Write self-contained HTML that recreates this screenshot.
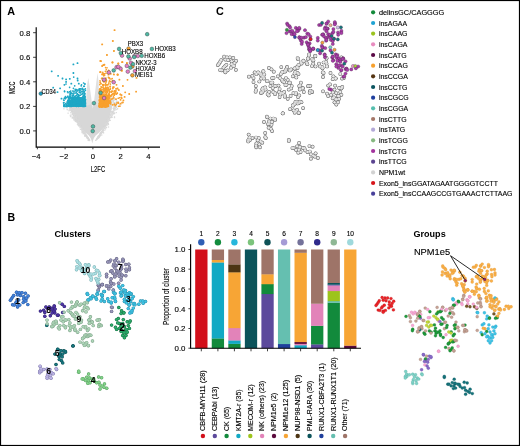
<!DOCTYPE html><html><head><meta charset="utf-8"><title>Figure</title><style>html,body{margin:0;padding:0;background:#fff}svg{display:block;will-change:transform}text{font-family:"Liberation Sans",sans-serif;fill:#000;stroke:#000;stroke-width:0.12px}text[font-weight=bold]{stroke-width:0}</style></head><body>
<svg width="520" height="446" viewBox="0 0 520 446">
<rect x="0" y="0" width="520" height="446" fill="#fff"/>
<g id="A">
<path d="M86,106 L86.3,96 L87.2,84 L88.3,78 L89.6,86 L91,96 L92,104 L92.8,108.5 L93.7,104 L94.8,95 L96.3,82 L97.6,73 L98.6,82 L99,95 L99.3,106 Z" fill="#e0e0e0"/>
<path d="M68.6,104 L70.5,110 L72.8,115.2 L76.2,121.9 L81.5,128.6 L85.6,132.7 L88.9,135.4 L90.6,138 L91.6,140.5 L92.3,143.6 L93,140.5 L93.9,138 L95.7,135.4 L99,132.7 L103.1,128.6 L107.1,121.9 L109.8,115.2 L111.6,110 L112.6,104 L112,100 L99.3,100 L99.2,106 L93.7,104 L92.8,108.5 L91.9,104 L86,106 L86,100 L72,100 Z" fill="#d7d7d7"/>
<g fill="#d9d9d9"><rect x="72.6" y="110.9" width="1.2" height="1.2" opacity="0.95"/><rect x="84.2" y="132.3" width="1.2" height="1.2" opacity="0.95"/><rect x="72.6" y="112.7" width="1.2" height="1.2" opacity="0.95"/><rect x="112.9" y="100.7" width="1.2" height="1.2" opacity="0.95"/><rect x="71.7" y="100.0" width="1.2" height="1.2" opacity="0.95"/><rect x="78.2" y="121.3" width="1.2" height="1.2" opacity="0.95"/><rect x="78.2" y="124.1" width="1.2" height="1.2" opacity="0.95"/><rect x="88.4" y="139.0" width="1.2" height="1.2" opacity="0.95"/><rect x="77.9" y="120.9" width="1.2" height="1.2" opacity="0.95"/><rect x="114.0" y="102.1" width="1.2" height="1.2" opacity="0.95"/><rect x="76.2" y="121.1" width="1.2" height="1.2" opacity="0.95"/><rect x="68.1" y="105.1" width="1.2" height="1.2" opacity="0.95"/><rect x="75.4" y="120.6" width="1.2" height="1.2" opacity="0.95"/><rect x="108.5" y="118.3" width="1.2" height="1.2" opacity="0.95"/><rect x="102.2" y="130.4" width="1.2" height="1.2" opacity="0.95"/><rect x="71.2" y="109.9" width="1.2" height="1.2" opacity="0.95"/><rect x="80.2" y="127.1" width="1.2" height="1.2" opacity="0.95"/><rect x="108.3" y="118.3" width="1.2" height="1.2" opacity="0.95"/><rect x="102.5" y="128.4" width="1.2" height="1.2" opacity="0.95"/><rect x="76.7" y="119.0" width="1.2" height="1.2" opacity="0.95"/><rect x="81.4" y="129.6" width="1.2" height="1.2" opacity="0.95"/><rect x="88.0" y="138.4" width="1.2" height="1.2" opacity="0.95"/><rect x="101.9" y="129.9" width="1.2" height="1.2" opacity="0.95"/><rect x="109.0" y="118.4" width="1.2" height="1.2" opacity="0.95"/><rect x="69.9" y="100.0" width="1.2" height="1.2" opacity="0.60"/><rect x="79.9" y="125.6" width="1.2" height="1.2" opacity="0.95"/><rect x="104.9" y="128.4" width="1.2" height="1.2" opacity="0.95"/><rect x="103.0" y="132.3" width="1.2" height="1.2" opacity="0.95"/><rect x="104.1" y="127.8" width="1.2" height="1.2" opacity="0.95"/><rect x="69.7" y="104.2" width="1.2" height="1.2" opacity="0.95"/><rect x="76.7" y="118.2" width="1.2" height="1.2" opacity="0.95"/><rect x="114.0" y="107.6" width="1.2" height="1.2" opacity="0.95"/><rect x="98.2" y="136.4" width="1.2" height="1.2" opacity="0.95"/><rect x="76.9" y="120.6" width="1.2" height="1.2" opacity="0.95"/><rect x="100.9" y="132.2" width="1.2" height="1.2" opacity="0.95"/><rect x="107.9" y="126.4" width="1.2" height="1.2" opacity="0.95"/><rect x="87.8" y="138.2" width="1.2" height="1.2" opacity="0.95"/><rect x="80.0" y="125.3" width="1.2" height="1.2" opacity="0.95"/><rect x="76.6" y="117.9" width="1.2" height="1.2" opacity="0.95"/><rect x="109.2" y="115.0" width="1.2" height="1.2" opacity="0.95"/><rect x="107.6" y="123.2" width="1.2" height="1.2" opacity="0.95"/><rect x="76.3" y="119.2" width="1.2" height="1.2" opacity="0.95"/><rect x="110.0" y="116.6" width="1.2" height="1.2" opacity="0.95"/><rect x="109.0" y="117.7" width="1.2" height="1.2" opacity="0.95"/><rect x="70.0" y="99.7" width="1.2" height="1.2" opacity="0.60"/><rect x="71.5" y="101.7" width="1.2" height="1.2" opacity="0.95"/><rect x="65.7" y="101.4" width="1.2" height="1.2" opacity="0.95"/><rect x="78.4" y="123.4" width="1.2" height="1.2" opacity="0.95"/><rect x="98.9" y="134.6" width="1.2" height="1.2" opacity="0.95"/><rect x="112.1" y="111.9" width="1.2" height="1.2" opacity="0.95"/><rect x="72.2" y="117.4" width="1.2" height="1.2" opacity="0.95"/><rect x="113.9" y="117.0" width="1.2" height="1.2" opacity="0.95"/><rect x="71.0" y="110.4" width="1.2" height="1.2" opacity="0.95"/><rect x="70.5" y="108.4" width="1.2" height="1.2" opacity="0.95"/><rect x="74.8" y="119.2" width="1.2" height="1.2" opacity="0.95"/><rect x="70.0" y="103.3" width="1.2" height="1.2" opacity="0.95"/><rect x="104.2" y="129.6" width="1.2" height="1.2" opacity="0.95"/><rect x="103.3" y="126.9" width="1.2" height="1.2" opacity="0.95"/><rect x="76.4" y="119.3" width="1.2" height="1.2" opacity="0.95"/><rect x="107.5" y="120.3" width="1.2" height="1.2" opacity="0.95"/><rect x="78.8" y="124.4" width="1.2" height="1.2" opacity="0.95"/><rect x="79.8" y="128.8" width="1.2" height="1.2" opacity="0.95"/><rect x="113.8" y="105.6" width="1.2" height="1.2" opacity="0.95"/><rect x="111.2" y="98.2" width="1.2" height="1.2" opacity="0.60"/><rect x="74.3" y="117.3" width="1.2" height="1.2" opacity="0.95"/><rect x="113.9" y="116.2" width="1.2" height="1.2" opacity="0.95"/><rect x="96.5" y="138.1" width="1.2" height="1.2" opacity="0.95"/><rect x="108.4" y="117.2" width="1.2" height="1.2" opacity="0.95"/><rect x="66.5" y="105.8" width="1.2" height="1.2" opacity="0.95"/><rect x="83.6" y="131.4" width="1.2" height="1.2" opacity="0.95"/><rect x="82.9" y="132.9" width="1.2" height="1.2" opacity="0.95"/><rect x="103.0" y="129.3" width="1.2" height="1.2" opacity="0.95"/><rect x="98.2" y="135.2" width="1.2" height="1.2" opacity="0.95"/><rect x="101.5" y="131.4" width="1.2" height="1.2" opacity="0.95"/><rect x="76.0" y="116.9" width="1.2" height="1.2" opacity="0.95"/><rect x="69.8" y="102.5" width="1.2" height="1.2" opacity="0.95"/><rect x="105.6" y="122.4" width="1.2" height="1.2" opacity="0.95"/><rect x="100.3" y="132.5" width="1.2" height="1.2" opacity="0.95"/><rect x="105.0" y="125.3" width="1.2" height="1.2" opacity="0.95"/><rect x="70.9" y="97.9" width="1.2" height="1.2" opacity="0.60"/><rect x="73.6" y="119.6" width="1.2" height="1.2" opacity="0.95"/><rect x="83.5" y="132.5" width="1.2" height="1.2" opacity="0.95"/><rect x="73.0" y="98.2" width="1.2" height="1.2" opacity="0.60"/><rect x="106.8" y="122.2" width="1.2" height="1.2" opacity="0.95"/><rect x="74.8" y="120.4" width="1.2" height="1.2" opacity="0.95"/><rect x="98.4" y="135.6" width="1.2" height="1.2" opacity="0.95"/><rect x="83.1" y="132.6" width="1.2" height="1.2" opacity="0.95"/><rect x="111.1" y="97.8" width="1.2" height="1.2" opacity="0.60"/><rect x="83.1" y="130.4" width="1.2" height="1.2" opacity="0.95"/><rect x="69.6" y="103.1" width="1.2" height="1.2" opacity="0.95"/><rect x="107.1" y="120.9" width="1.2" height="1.2" opacity="0.95"/><rect x="74.1" y="117.7" width="1.2" height="1.2" opacity="0.95"/><rect x="86.0" y="135.0" width="1.2" height="1.2" opacity="0.95"/><rect x="102.2" y="130.2" width="1.2" height="1.2" opacity="0.95"/><rect x="75.7" y="121.2" width="1.2" height="1.2" opacity="0.95"/><rect x="76.0" y="118.7" width="1.2" height="1.2" opacity="0.95"/><rect x="105.9" y="126.8" width="1.2" height="1.2" opacity="0.95"/><rect x="76.9" y="118.8" width="1.2" height="1.2" opacity="0.95"/><rect x="105.8" y="127.1" width="1.2" height="1.2" opacity="0.95"/><rect x="116.4" y="105.7" width="1.2" height="1.2" opacity="0.95"/><rect x="69.4" y="102.9" width="1.2" height="1.2" opacity="0.95"/><rect x="104.4" y="125.9" width="1.2" height="1.2" opacity="0.95"/><rect x="112.8" y="100.1" width="1.2" height="1.2" opacity="0.95"/><rect x="118.8" y="103.6" width="1.2" height="1.2" opacity="0.95"/><rect x="69.2" y="103.1" width="1.2" height="1.2" opacity="0.95"/><rect x="96.3" y="138.0" width="1.2" height="1.2" opacity="0.95"/><rect x="84.0" y="135.1" width="1.2" height="1.2" opacity="0.95"/><rect x="113.9" y="103.9" width="1.2" height="1.2" opacity="0.95"/><rect x="95.1" y="139.7" width="1.2" height="1.2" opacity="0.95"/><rect x="112.5" y="110.7" width="1.2" height="1.2" opacity="0.95"/><rect x="111.0" y="97.8" width="1.2" height="1.2" opacity="0.60"/><rect x="110.9" y="111.3" width="1.2" height="1.2" opacity="0.95"/><rect x="73.5" y="119.0" width="1.2" height="1.2" opacity="0.95"/><rect x="67.0" y="106.8" width="1.2" height="1.2" opacity="0.95"/><rect x="116.3" y="100.6" width="1.2" height="1.2" opacity="0.95"/><rect x="71.0" y="108.6" width="1.2" height="1.2" opacity="0.95"/><rect x="101.1" y="132.3" width="1.2" height="1.2" opacity="0.95"/><rect x="108.4" y="119.1" width="1.2" height="1.2" opacity="0.95"/><rect x="80.9" y="127.1" width="1.2" height="1.2" opacity="0.95"/><rect x="65.0" y="104.9" width="1.2" height="1.2" opacity="0.95"/><rect x="68.7" y="108.6" width="1.2" height="1.2" opacity="0.95"/><rect x="68.8" y="100.6" width="1.2" height="1.2" opacity="0.95"/><rect x="70.4" y="99.9" width="1.2" height="1.2" opacity="0.60"/><rect x="106.6" y="120.8" width="1.2" height="1.2" opacity="0.95"/><rect x="78.3" y="123.7" width="1.2" height="1.2" opacity="0.95"/><rect x="71.4" y="101.7" width="1.2" height="1.2" opacity="0.95"/><rect x="71.3" y="108.3" width="1.2" height="1.2" opacity="0.95"/><rect x="70.6" y="110.1" width="1.2" height="1.2" opacity="0.95"/><rect x="72.0" y="109.5" width="1.2" height="1.2" opacity="0.95"/><rect x="88.0" y="139.8" width="1.2" height="1.2" opacity="0.95"/><rect x="71.8" y="97.7" width="1.2" height="1.2" opacity="0.60"/><rect x="108.5" y="116.2" width="1.2" height="1.2" opacity="0.95"/><rect x="105.2" y="125.2" width="1.2" height="1.2" opacity="0.95"/><rect x="70.6" y="106.3" width="1.2" height="1.2" opacity="0.95"/><rect x="71.6" y="111.7" width="1.2" height="1.2" opacity="0.95"/><rect x="71.6" y="99.3" width="1.2" height="1.2" opacity="0.60"/><rect x="111.2" y="97.6" width="1.2" height="1.2" opacity="0.60"/><rect x="103.8" y="125.6" width="1.2" height="1.2" opacity="0.95"/><rect x="99.9" y="134.4" width="1.2" height="1.2" opacity="0.95"/><rect x="70.8" y="98.9" width="1.2" height="1.2" opacity="0.60"/><rect x="116.0" y="103.8" width="1.2" height="1.2" opacity="0.95"/><rect x="110.9" y="111.1" width="1.2" height="1.2" opacity="0.95"/><rect x="112.9" y="107.5" width="1.2" height="1.2" opacity="0.95"/><rect x="71.9" y="111.4" width="1.2" height="1.2" opacity="0.95"/><rect x="76.4" y="117.4" width="1.2" height="1.2" opacity="0.95"/><rect x="67.6" y="100.9" width="1.2" height="1.2" opacity="0.95"/><rect x="69.3" y="103.2" width="1.2" height="1.2" opacity="0.95"/><rect x="78.9" y="124.1" width="1.2" height="1.2" opacity="0.95"/><rect x="77.1" y="122.2" width="1.2" height="1.2" opacity="0.95"/><rect x="99.7" y="134.8" width="1.2" height="1.2" opacity="0.95"/><rect x="102.6" y="129.9" width="1.2" height="1.2" opacity="0.95"/><rect x="77.8" y="124.7" width="1.2" height="1.2" opacity="0.95"/><rect x="99.9" y="132.5" width="1.2" height="1.2" opacity="0.95"/><rect x="66.4" y="103.0" width="1.2" height="1.2" opacity="0.95"/><rect x="84.2" y="132.5" width="1.2" height="1.2" opacity="0.95"/><rect x="79.7" y="124.4" width="1.2" height="1.2" opacity="0.95"/><rect x="113.2" y="113.2" width="1.2" height="1.2" opacity="0.95"/><rect x="78.8" y="123.9" width="1.2" height="1.2" opacity="0.95"/><rect x="75.9" y="118.0" width="1.2" height="1.2" opacity="0.95"/><rect x="87.3" y="137.1" width="1.2" height="1.2" opacity="0.95"/><rect x="80.4" y="125.3" width="1.2" height="1.2" opacity="0.95"/><rect x="101.6" y="131.8" width="1.2" height="1.2" opacity="0.95"/><rect x="71.0" y="107.1" width="1.2" height="1.2" opacity="0.95"/><rect x="111.4" y="116.8" width="1.2" height="1.2" opacity="0.95"/><rect x="112.1" y="100.3" width="1.2" height="1.2" opacity="0.95"/><rect x="77.6" y="124.6" width="1.2" height="1.2" opacity="0.95"/><rect x="105.1" y="122.8" width="1.2" height="1.2" opacity="0.95"/><rect x="68.3" y="110.1" width="1.2" height="1.2" opacity="0.95"/><rect x="66.9" y="97.5" width="1.2" height="1.2" opacity="0.60"/><rect x="71.3" y="101.3" width="1.2" height="1.2" opacity="0.95"/><rect x="103.7" y="126.1" width="1.2" height="1.2" opacity="0.95"/><rect x="74.4" y="117.0" width="1.2" height="1.2" opacity="0.95"/><rect x="89.2" y="139.7" width="1.2" height="1.2" opacity="0.95"/><rect x="108.7" y="117.3" width="1.2" height="1.2" opacity="0.95"/><rect x="110.4" y="116.7" width="1.2" height="1.2" opacity="0.95"/><rect x="86.9" y="136.4" width="1.2" height="1.2" opacity="0.95"/><rect x="70.5" y="100.2" width="1.2" height="1.2" opacity="0.95"/><rect x="87.2" y="138.0" width="1.2" height="1.2" opacity="0.95"/><rect x="107.2" y="122.9" width="1.2" height="1.2" opacity="0.95"/><rect x="115.8" y="106.9" width="1.2" height="1.2" opacity="0.95"/><rect x="71.8" y="113.9" width="1.2" height="1.2" opacity="0.95"/><rect x="108.3" y="116.4" width="1.2" height="1.2" opacity="0.95"/><rect x="102.9" y="128.3" width="1.2" height="1.2" opacity="0.95"/><rect x="84.0" y="133.1" width="1.2" height="1.2" opacity="0.95"/><rect x="111.6" y="111.0" width="1.2" height="1.2" opacity="0.95"/><rect x="86.8" y="136.8" width="1.2" height="1.2" opacity="0.95"/><rect x="97.7" y="135.8" width="1.2" height="1.2" opacity="0.95"/><rect x="73.7" y="113.8" width="1.2" height="1.2" opacity="0.95"/><rect x="110.3" y="112.5" width="1.2" height="1.2" opacity="0.95"/><rect x="66.8" y="109.1" width="1.2" height="1.2" opacity="0.95"/><rect x="99.9" y="132.9" width="1.2" height="1.2" opacity="0.95"/><rect x="96.0" y="138.8" width="1.2" height="1.2" opacity="0.95"/><rect x="76.6" y="119.0" width="1.2" height="1.2" opacity="0.95"/><rect x="71.2" y="115.4" width="1.2" height="1.2" opacity="0.95"/><rect x="102.7" y="131.9" width="1.2" height="1.2" opacity="0.95"/><rect x="75.5" y="120.6" width="1.2" height="1.2" opacity="0.95"/><rect x="115.3" y="99.1" width="1.2" height="1.2" opacity="0.60"/><rect x="105.0" y="124.7" width="1.2" height="1.2" opacity="0.95"/><rect x="75.5" y="117.9" width="1.2" height="1.2" opacity="0.95"/><rect x="114.3" y="109.1" width="1.2" height="1.2" opacity="0.95"/><rect x="102.8" y="128.8" width="1.2" height="1.2" opacity="0.95"/><rect x="108.5" y="117.8" width="1.2" height="1.2" opacity="0.95"/><rect x="68.8" y="102.1" width="1.2" height="1.2" opacity="0.95"/><rect x="83.5" y="131.9" width="1.2" height="1.2" opacity="0.95"/><rect x="110.8" y="116.5" width="1.2" height="1.2" opacity="0.95"/><rect x="71.0" y="103.0" width="1.2" height="1.2" opacity="0.95"/><rect x="71.0" y="107.5" width="1.2" height="1.2" opacity="0.95"/><rect x="113.7" y="107.3" width="1.2" height="1.2" opacity="0.95"/><rect x="82.5" y="131.8" width="1.2" height="1.2" opacity="0.95"/><rect x="111.7" y="114.7" width="1.2" height="1.2" opacity="0.95"/><rect x="81.6" y="129.1" width="1.2" height="1.2" opacity="0.95"/><rect x="113.1" y="99.7" width="1.2" height="1.2" opacity="0.60"/><rect x="107.3" y="121.7" width="1.2" height="1.2" opacity="0.95"/><rect x="78.3" y="124.1" width="1.2" height="1.2" opacity="0.95"/><rect x="69.3" y="101.0" width="1.2" height="1.2" opacity="0.95"/><rect x="111.0" y="115.6" width="1.2" height="1.2" opacity="0.95"/><rect x="84.2" y="133.5" width="1.2" height="1.2" opacity="0.95"/><rect x="102.3" y="129.8" width="1.2" height="1.2" opacity="0.95"/><rect x="96.5" y="138.6" width="1.2" height="1.2" opacity="0.95"/><rect x="96.9" y="136.9" width="1.2" height="1.2" opacity="0.95"/><rect x="88.5" y="138.8" width="1.2" height="1.2" opacity="0.95"/><rect x="69.0" y="103.5" width="1.2" height="1.2" opacity="0.95"/><rect x="97.9" y="137.5" width="1.2" height="1.2" opacity="0.95"/><rect x="71.8" y="97.1" width="1.2" height="1.2" opacity="0.60"/><rect x="69.9" y="107.0" width="1.2" height="1.2" opacity="0.95"/><rect x="114.6" y="102.5" width="1.2" height="1.2" opacity="0.95"/><rect x="107.0" y="119.7" width="1.2" height="1.2" opacity="0.95"/><rect x="71.4" y="100.0" width="1.2" height="1.2" opacity="0.95"/><rect x="74.6" y="113.7" width="1.2" height="1.2" opacity="0.95"/><rect x="106.5" y="120.1" width="1.2" height="1.2" opacity="0.95"/><rect x="115.5" y="109.0" width="1.2" height="1.2" opacity="0.95"/><rect x="72.7" y="117.4" width="1.2" height="1.2" opacity="0.95"/><rect x="74.8" y="120.5" width="1.2" height="1.2" opacity="0.95"/><rect x="71.9" y="110.2" width="1.2" height="1.2" opacity="0.95"/><rect x="115.4" y="105.3" width="1.2" height="1.2" opacity="0.95"/><rect x="109.7" y="115.2" width="1.2" height="1.2" opacity="0.95"/><rect x="69.8" y="106.8" width="1.2" height="1.2" opacity="0.95"/><rect x="114.0" y="112.6" width="1.2" height="1.2" opacity="0.95"/><rect x="113.7" y="105.5" width="1.2" height="1.2" opacity="0.95"/><rect x="67.3" y="105.8" width="1.2" height="1.2" opacity="0.95"/><rect x="72.8" y="110.4" width="1.2" height="1.2" opacity="0.95"/><rect x="102.3" y="129.7" width="1.2" height="1.2" opacity="0.95"/><rect x="116.7" y="101.7" width="1.2" height="1.2" opacity="0.95"/><rect x="73.6" y="117.9" width="1.2" height="1.2" opacity="0.95"/><rect x="87.6" y="137.8" width="1.2" height="1.2" opacity="0.95"/><rect x="73.2" y="98.0" width="1.2" height="1.2" opacity="0.60"/><rect x="74.1" y="114.9" width="1.2" height="1.2" opacity="0.95"/><rect x="104.1" y="127.6" width="1.2" height="1.2" opacity="0.95"/><rect x="81.0" y="128.5" width="1.2" height="1.2" opacity="0.95"/><rect x="114.8" y="105.0" width="1.2" height="1.2" opacity="0.95"/><rect x="114.8" y="98.4" width="1.2" height="1.2" opacity="0.60"/><rect x="69.9" y="116.0" width="1.2" height="1.2" opacity="0.95"/><rect x="112.5" y="97.1" width="1.2" height="1.2" opacity="0.60"/><rect x="85.5" y="135.1" width="1.2" height="1.2" opacity="0.95"/><rect x="110.9" y="113.3" width="1.2" height="1.2" opacity="0.95"/><rect x="113.6" y="99.1" width="1.2" height="1.2" opacity="0.60"/><rect x="114.5" y="105.4" width="1.2" height="1.2" opacity="0.95"/><rect x="85.5" y="135.6" width="1.2" height="1.2" opacity="0.95"/><rect x="78.7" y="124.2" width="1.2" height="1.2" opacity="0.95"/><rect x="69.1" y="98.7" width="1.2" height="1.2" opacity="0.60"/><rect x="76.0" y="117.0" width="1.2" height="1.2" opacity="0.95"/><rect x="99.5" y="135.6" width="1.2" height="1.2" opacity="0.95"/><rect x="113.6" y="112.6" width="1.2" height="1.2" opacity="0.95"/><rect x="113.2" y="108.3" width="1.2" height="1.2" opacity="0.95"/><rect x="98.6" y="136.7" width="1.2" height="1.2" opacity="0.95"/><rect x="86.9" y="136.4" width="1.2" height="1.2" opacity="0.95"/><rect x="70.4" y="98.0" width="1.2" height="1.2" opacity="0.60"/><rect x="110.3" y="117.0" width="1.2" height="1.2" opacity="0.95"/><rect x="100.9" y="131.0" width="1.2" height="1.2" opacity="0.95"/><rect x="75.8" y="118.4" width="1.2" height="1.2" opacity="0.95"/><rect x="101.3" y="131.5" width="1.2" height="1.2" opacity="0.95"/><rect x="107.8" y="123.1" width="1.2" height="1.2" opacity="0.95"/><rect x="100.1" y="134.0" width="1.2" height="1.2" opacity="0.95"/><rect x="68.9" y="100.4" width="1.2" height="1.2" opacity="0.95"/><rect x="74.7" y="113.8" width="1.2" height="1.2" opacity="0.95"/><rect x="111.8" y="98.5" width="1.2" height="1.2" opacity="0.60"/><rect x="119.3" y="103.9" width="1.2" height="1.2" opacity="0.95"/><rect x="66.4" y="108.4" width="1.2" height="1.2" opacity="0.95"/><rect x="118.0" y="106.0" width="1.2" height="1.2" opacity="0.95"/><rect x="75.8" y="116.2" width="1.2" height="1.2" opacity="0.95"/><rect x="115.8" y="102.7" width="1.2" height="1.2" opacity="0.95"/><rect x="81.1" y="129.2" width="1.2" height="1.2" opacity="0.95"/><rect x="101.3" y="130.5" width="1.2" height="1.2" opacity="0.95"/><rect x="113.1" y="113.0" width="1.2" height="1.2" opacity="0.95"/><rect x="69.9" y="105.6" width="1.2" height="1.2" opacity="0.95"/><rect x="70.5" y="109.1" width="1.2" height="1.2" opacity="0.95"/><rect x="110.9" y="111.0" width="1.2" height="1.2" opacity="0.95"/><rect x="75.9" y="119.6" width="1.2" height="1.2" opacity="0.95"/><rect x="78.8" y="125.1" width="1.2" height="1.2" opacity="0.95"/><rect x="100.7" y="132.2" width="1.2" height="1.2" opacity="0.95"/><rect x="86.4" y="136.3" width="1.2" height="1.2" opacity="0.95"/><rect x="71.7" y="99.2" width="1.2" height="1.2" opacity="0.60"/><rect x="97.4" y="137.0" width="1.2" height="1.2" opacity="0.95"/><rect x="79.1" y="122.9" width="1.2" height="1.2" opacity="0.95"/><rect x="112.9" y="101.5" width="1.2" height="1.2" opacity="0.95"/><rect x="68.6" y="103.1" width="1.2" height="1.2" opacity="0.95"/><rect x="88.7" y="140.0" width="1.2" height="1.2" opacity="0.95"/><rect x="68.3" y="105.7" width="1.2" height="1.2" opacity="0.95"/><rect x="100.2" y="132.2" width="1.2" height="1.2" opacity="0.95"/><rect x="71.5" y="110.4" width="1.2" height="1.2" opacity="0.95"/><rect x="111.7" y="98.4" width="1.2" height="1.2" opacity="0.60"/><rect x="112.6" y="101.4" width="1.2" height="1.2" opacity="0.95"/><rect x="80.1" y="125.6" width="1.2" height="1.2" opacity="0.95"/><rect x="115.2" y="104.0" width="1.2" height="1.2" opacity="0.95"/><rect x="110.4" y="114.6" width="1.2" height="1.2" opacity="0.95"/><rect x="113.6" y="99.2" width="1.2" height="1.2" opacity="0.60"/><rect x="69.7" y="114.8" width="1.2" height="1.2" opacity="0.95"/><rect x="67.5" y="112.6" width="1.2" height="1.2" opacity="0.95"/><rect x="109.6" y="113.8" width="1.2" height="1.2" opacity="0.95"/><rect x="97.8" y="135.8" width="1.2" height="1.2" opacity="0.95"/><rect x="67.2" y="101.9" width="1.2" height="1.2" opacity="0.95"/><rect x="73.5" y="116.8" width="1.2" height="1.2" opacity="0.95"/><rect x="67.8" y="102.6" width="1.2" height="1.2" opacity="0.95"/><rect x="86.3" y="136.1" width="1.2" height="1.2" opacity="0.95"/><rect x="105.8" y="121.6" width="1.2" height="1.2" opacity="0.95"/><rect x="72.2" y="112.0" width="1.2" height="1.2" opacity="0.95"/><rect x="75.5" y="119.4" width="1.2" height="1.2" opacity="0.95"/><rect x="83.0" y="131.6" width="1.2" height="1.2" opacity="0.95"/><rect x="69.7" y="110.0" width="1.2" height="1.2" opacity="0.95"/><rect x="111.7" y="99.3" width="1.2" height="1.2" opacity="0.60"/><rect x="69.0" y="100.7" width="1.2" height="1.2" opacity="0.95"/><rect x="76.8" y="123.7" width="1.2" height="1.2" opacity="0.95"/><rect x="84.3" y="132.7" width="1.2" height="1.2" opacity="0.95"/><rect x="87.5" y="137.4" width="1.2" height="1.2" opacity="0.95"/><rect x="70.5" y="113.5" width="1.2" height="1.2" opacity="0.95"/><rect x="81.5" y="132.1" width="1.2" height="1.2" opacity="0.95"/><rect x="72.1" y="98.8" width="1.2" height="1.2" opacity="0.60"/><rect x="111.5" y="113.8" width="1.2" height="1.2" opacity="0.95"/><rect x="107.2" y="120.7" width="1.2" height="1.2" opacity="0.95"/><rect x="114.4" y="107.7" width="1.2" height="1.2" opacity="0.95"/><rect x="104.8" y="125.3" width="1.2" height="1.2" opacity="0.95"/><rect x="110.2" y="97.2" width="1.2" height="1.2" opacity="0.60"/><rect x="108.3" y="117.0" width="1.2" height="1.2" opacity="0.95"/><rect x="72.0" y="116.7" width="1.2" height="1.2" opacity="0.95"/><rect x="100.6" y="131.9" width="1.2" height="1.2" opacity="0.95"/><rect x="74.7" y="115.5" width="1.2" height="1.2" opacity="0.95"/><rect x="83.2" y="131.5" width="1.2" height="1.2" opacity="0.95"/><rect x="97.2" y="136.7" width="1.2" height="1.2" opacity="0.95"/><rect x="81.7" y="130.4" width="1.2" height="1.2" opacity="0.95"/><rect x="73.4" y="113.2" width="1.2" height="1.2" opacity="0.95"/><rect x="69.3" y="98.1" width="1.2" height="1.2" opacity="0.60"/><rect x="84.2" y="132.0" width="1.2" height="1.2" opacity="0.95"/><rect x="114.0" y="102.7" width="1.2" height="1.2" opacity="0.95"/><rect x="81.4" y="131.2" width="1.2" height="1.2" opacity="0.95"/><rect x="113.0" y="99.8" width="1.2" height="1.2" opacity="0.60"/><rect x="112.2" y="110.9" width="1.2" height="1.2" opacity="0.95"/><rect x="98.3" y="135.9" width="1.2" height="1.2" opacity="0.95"/><rect x="86.2" y="136.6" width="1.2" height="1.2" opacity="0.95"/><rect x="78.7" y="122.5" width="1.2" height="1.2" opacity="0.95"/><rect x="69.7" y="104.8" width="1.2" height="1.2" opacity="0.95"/><rect x="105.9" y="124.4" width="1.2" height="1.2" opacity="0.95"/><rect x="120.1" y="104.3" width="1.2" height="1.2" opacity="0.95"/><rect x="70.0" y="101.9" width="1.2" height="1.2" opacity="0.95"/><rect x="85.0" y="134.5" width="1.2" height="1.2" opacity="0.95"/><rect x="112.6" y="107.8" width="1.2" height="1.2" opacity="0.95"/><rect x="112.3" y="113.2" width="1.2" height="1.2" opacity="0.95"/><rect x="106.0" y="121.8" width="1.2" height="1.2" opacity="0.95"/><rect x="70.3" y="106.9" width="1.2" height="1.2" opacity="0.95"/><rect x="114.1" y="109.7" width="1.2" height="1.2" opacity="0.95"/><rect x="101.2" y="134.4" width="1.2" height="1.2" opacity="0.95"/><rect x="82.0" y="128.5" width="1.2" height="1.2" opacity="0.95"/><rect x="106.0" y="123.9" width="1.2" height="1.2" opacity="0.95"/><rect x="76.2" y="119.0" width="1.2" height="1.2" opacity="0.95"/><rect x="79.4" y="125.1" width="1.2" height="1.2" opacity="0.95"/><rect x="112.3" y="99.3" width="1.2" height="1.2" opacity="0.60"/><rect x="108.9" y="120.0" width="1.2" height="1.2" opacity="0.95"/><rect x="78.0" y="122.1" width="1.2" height="1.2" opacity="0.95"/><rect x="73.4" y="117.4" width="1.2" height="1.2" opacity="0.95"/><rect x="73.0" y="97.6" width="1.2" height="1.2" opacity="0.60"/><rect x="70.0" y="99.7" width="1.2" height="1.2" opacity="0.60"/><rect x="99.2" y="134.5" width="1.2" height="1.2" opacity="0.95"/><rect x="111.5" y="97.5" width="1.2" height="1.2" opacity="0.60"/><rect x="107.0" y="122.6" width="1.2" height="1.2" opacity="0.95"/><rect x="75.2" y="118.2" width="1.2" height="1.2" opacity="0.95"/><rect x="86.4" y="135.9" width="1.2" height="1.2" opacity="0.95"/><rect x="70.3" y="105.0" width="1.2" height="1.2" opacity="0.95"/><rect x="69.6" y="99.5" width="1.2" height="1.2" opacity="0.60"/><rect x="87.6" y="137.5" width="1.2" height="1.2" opacity="0.95"/><rect x="109.7" y="114.8" width="1.2" height="1.2" opacity="0.95"/><rect x="112.8" y="110.3" width="1.2" height="1.2" opacity="0.95"/><rect x="104.5" y="123.9" width="1.2" height="1.2" opacity="0.95"/><rect x="99.3" y="133.3" width="1.2" height="1.2" opacity="0.95"/><rect x="115.8" y="100.5" width="1.2" height="1.2" opacity="0.95"/><rect x="63.3" y="108.2" width="1.2" height="1.2" opacity="0.95"/><rect x="113.2" y="102.3" width="1.2" height="1.2" opacity="0.95"/><rect x="107.6" y="120.8" width="1.2" height="1.2" opacity="0.95"/><rect x="104.2" y="126.5" width="1.2" height="1.2" opacity="0.95"/><rect x="84.0" y="135.4" width="1.2" height="1.2" opacity="0.95"/><rect x="84.8" y="134.8" width="1.2" height="1.2" opacity="0.95"/><rect x="82.6" y="133.2" width="1.2" height="1.2" opacity="0.95"/><rect x="96.7" y="137.6" width="1.2" height="1.2" opacity="0.95"/><rect x="106.8" y="122.9" width="1.2" height="1.2" opacity="0.95"/><rect x="98.7" y="136.0" width="1.2" height="1.2" opacity="0.95"/><rect x="73.4" y="97.3" width="1.2" height="1.2" opacity="0.60"/><rect x="73.8" y="115.8" width="1.2" height="1.2" opacity="0.95"/><rect x="69.9" y="106.1" width="1.2" height="1.2" opacity="0.95"/><rect x="78.1" y="121.3" width="1.2" height="1.2" opacity="0.95"/><rect x="71.3" y="101.6" width="1.2" height="1.2" opacity="0.95"/><rect x="73.5" y="111.8" width="1.2" height="1.2" opacity="0.95"/><rect x="70.5" y="103.0" width="1.2" height="1.2" opacity="0.95"/><rect x="79.4" y="127.0" width="1.2" height="1.2" opacity="0.95"/><rect x="72.7" y="112.6" width="1.2" height="1.2" opacity="0.95"/><rect x="98.8" y="134.8" width="1.2" height="1.2" opacity="0.95"/><rect x="70.6" y="101.8" width="1.2" height="1.2" opacity="0.95"/><rect x="87.4" y="137.8" width="1.2" height="1.2" opacity="0.95"/><rect x="69.0" y="109.4" width="1.2" height="1.2" opacity="0.95"/><rect x="70.6" y="102.7" width="1.2" height="1.2" opacity="0.95"/><rect x="114.7" y="108.2" width="1.2" height="1.2" opacity="0.95"/><rect x="117.0" y="108.0" width="1.2" height="1.2" opacity="0.95"/><rect x="97.9" y="136.1" width="1.2" height="1.2" opacity="0.95"/><rect x="85.1" y="133.6" width="1.2" height="1.2" opacity="0.95"/><rect x="76.8" y="119.3" width="1.2" height="1.2" opacity="0.95"/><rect x="72.0" y="111.9" width="1.2" height="1.2" opacity="0.95"/><rect x="85.3" y="134.1" width="1.2" height="1.2" opacity="0.95"/><rect x="105.7" y="121.7" width="1.2" height="1.2" opacity="0.95"/><rect x="70.7" y="105.7" width="1.2" height="1.2" opacity="0.95"/><rect x="113.5" y="97.2" width="1.2" height="1.2" opacity="0.60"/><rect x="100.8" y="132.5" width="1.2" height="1.2" opacity="0.95"/><rect x="106.2" y="122.5" width="1.2" height="1.2" opacity="0.95"/><rect x="83.9" y="132.1" width="1.2" height="1.2" opacity="0.95"/><rect x="73.4" y="118.4" width="1.2" height="1.2" opacity="0.95"/><rect x="75.3" y="118.1" width="1.2" height="1.2" opacity="0.95"/><rect x="107.9" y="124.0" width="1.2" height="1.2" opacity="0.95"/><rect x="84.9" y="135.3" width="1.2" height="1.2" opacity="0.95"/><rect x="73.9" y="115.2" width="1.2" height="1.2" opacity="0.95"/><rect x="74.0" y="115.4" width="1.2" height="1.2" opacity="0.95"/><rect x="73.2" y="113.3" width="1.2" height="1.2" opacity="0.95"/><rect x="78.7" y="122.5" width="1.2" height="1.2" opacity="0.95"/><rect x="115.7" y="112.0" width="1.2" height="1.2" opacity="0.95"/><rect x="108.9" y="116.4" width="1.2" height="1.2" opacity="0.95"/><rect x="114.9" y="104.3" width="1.2" height="1.2" opacity="0.95"/><rect x="114.9" y="106.9" width="1.2" height="1.2" opacity="0.95"/><rect x="74.3" y="116.9" width="1.2" height="1.2" opacity="0.95"/><rect x="82.7" y="129.5" width="1.2" height="1.2" opacity="0.95"/><rect x="81.6" y="128.1" width="1.2" height="1.2" opacity="0.95"/><rect x="70.2" y="112.0" width="1.2" height="1.2" opacity="0.95"/><rect x="73.0" y="111.1" width="1.2" height="1.2" opacity="0.95"/><rect x="87.5" y="139.8" width="1.2" height="1.2" opacity="0.95"/><rect x="88.2" y="138.4" width="1.2" height="1.2" opacity="0.95"/><rect x="114.7" y="103.4" width="1.2" height="1.2" opacity="0.95"/><rect x="102.1" y="128.5" width="1.2" height="1.2" opacity="0.95"/><rect x="97.9" y="136.2" width="1.2" height="1.2" opacity="0.95"/><rect x="113.7" y="105.9" width="1.2" height="1.2" opacity="0.95"/><rect x="99.0" y="133.7" width="1.2" height="1.2" opacity="0.95"/><rect x="103.8" y="126.8" width="1.2" height="1.2" opacity="0.95"/><rect x="105.2" y="123.0" width="1.2" height="1.2" opacity="0.95"/><rect x="71.7" y="97.2" width="1.2" height="1.2" opacity="0.60"/><rect x="106.8" y="121.7" width="1.2" height="1.2" opacity="0.95"/><rect x="84.3" y="133.4" width="1.2" height="1.2" opacity="0.95"/><rect x="111.3" y="116.5" width="1.2" height="1.2" opacity="0.95"/><rect x="70.3" y="108.2" width="1.2" height="1.2" opacity="0.95"/><rect x="73.7" y="114.2" width="1.2" height="1.2" opacity="0.95"/><rect x="113.0" y="107.8" width="1.2" height="1.2" opacity="0.95"/><rect x="85.3" y="133.9" width="1.2" height="1.2" opacity="0.95"/><rect x="98.0" y="135.5" width="1.2" height="1.2" opacity="0.95"/><rect x="74.6" y="118.1" width="1.2" height="1.2" opacity="0.95"/><rect x="70.9" y="98.6" width="1.2" height="1.2" opacity="0.60"/><rect x="97.9" y="137.4" width="1.2" height="1.2" opacity="0.95"/><rect x="116.3" y="101.3" width="1.2" height="1.2" opacity="0.95"/><rect x="107.9" y="119.0" width="1.2" height="1.2" opacity="0.95"/><rect x="106.9" y="119.4" width="1.2" height="1.2" opacity="0.95"/><rect x="88.4" y="139.6" width="1.2" height="1.2" opacity="0.95"/><rect x="74.2" y="113.9" width="1.2" height="1.2" opacity="0.95"/><rect x="106.7" y="124.4" width="1.2" height="1.2" opacity="0.95"/><rect x="113.0" y="108.8" width="1.2" height="1.2" opacity="0.95"/><rect x="97.4" y="136.4" width="1.2" height="1.2" opacity="0.95"/><rect x="78.2" y="121.9" width="1.2" height="1.2" opacity="0.95"/><rect x="86.2" y="137.4" width="1.2" height="1.2" opacity="0.95"/><rect x="95.3" y="139.8" width="1.2" height="1.2" opacity="0.95"/><rect x="87.2" y="137.0" width="1.2" height="1.2" opacity="0.95"/><rect x="82.5" y="131.8" width="1.2" height="1.2" opacity="0.95"/><rect x="70.6" y="106.7" width="1.2" height="1.2" opacity="0.95"/><rect x="112.5" y="112.2" width="1.2" height="1.2" opacity="0.95"/><rect x="77.7" y="120.6" width="1.2" height="1.2" opacity="0.95"/><rect x="102.5" y="130.5" width="1.2" height="1.2" opacity="0.95"/><rect x="116.5" y="108.5" width="1.2" height="1.2" opacity="0.95"/><rect x="103.9" y="126.6" width="1.2" height="1.2" opacity="0.95"/><rect x="101.6" y="131.6" width="1.2" height="1.2" opacity="0.95"/><rect x="111.5" y="112.4" width="1.2" height="1.2" opacity="0.95"/><rect x="77.8" y="123.8" width="1.2" height="1.2" opacity="0.95"/><rect x="104.6" y="125.3" width="1.2" height="1.2" opacity="0.95"/><rect x="72.8" y="113.6" width="1.2" height="1.2" opacity="0.95"/><rect x="99.8" y="132.6" width="1.2" height="1.2" opacity="0.95"/><rect x="84.0" y="132.7" width="1.2" height="1.2" opacity="0.95"/><rect x="78.0" y="125.3" width="1.2" height="1.2" opacity="0.95"/><rect x="70.5" y="107.8" width="1.2" height="1.2" opacity="0.95"/><rect x="77.8" y="121.9" width="1.2" height="1.2" opacity="0.95"/><rect x="82.1" y="130.8" width="1.2" height="1.2" opacity="0.95"/><rect x="85.4" y="135.9" width="1.2" height="1.2" opacity="0.95"/><rect x="88.0" y="139.0" width="1.2" height="1.2" opacity="0.95"/><rect x="104.4" y="125.7" width="1.2" height="1.2" opacity="0.95"/><rect x="109.7" y="119.8" width="1.2" height="1.2" opacity="0.95"/><rect x="79.5" y="125.9" width="1.2" height="1.2" opacity="0.95"/><rect x="70.7" y="107.1" width="1.2" height="1.2" opacity="0.95"/><rect x="71.4" y="117.3" width="1.2" height="1.2" opacity="0.95"/><rect x="81.1" y="127.1" width="1.2" height="1.2" opacity="0.95"/><rect x="75.9" y="118.4" width="1.2" height="1.2" opacity="0.95"/><rect x="104.1" y="126.9" width="1.2" height="1.2" opacity="0.95"/><rect x="104.8" y="125.6" width="1.2" height="1.2" opacity="0.95"/><rect x="87.6" y="138.3" width="1.2" height="1.2" opacity="0.95"/><rect x="114.3" y="104.8" width="1.2" height="1.2" opacity="0.95"/><rect x="105.2" y="123.2" width="1.2" height="1.2" opacity="0.95"/><rect x="82.6" y="131.8" width="1.2" height="1.2" opacity="0.95"/><rect x="86.3" y="135.6" width="1.2" height="1.2" opacity="0.95"/><rect x="115.1" y="106.2" width="1.2" height="1.2" opacity="0.95"/><rect x="99.5" y="134.1" width="1.2" height="1.2" opacity="0.95"/><rect x="73.1" y="111.7" width="1.2" height="1.2" opacity="0.95"/><rect x="69.2" y="107.8" width="1.2" height="1.2" opacity="0.95"/><rect x="100.6" y="132.5" width="1.2" height="1.2" opacity="0.95"/><rect x="113.2" y="111.4" width="1.2" height="1.2" opacity="0.95"/><rect x="100.0" y="134.5" width="1.2" height="1.2" opacity="0.95"/><rect x="100.9" y="131.1" width="1.2" height="1.2" opacity="0.95"/><rect x="119.3" y="105.3" width="1.2" height="1.2" opacity="0.95"/><rect x="67.2" y="100.8" width="1.2" height="1.2" opacity="0.95"/><rect x="110.1" y="114.2" width="1.2" height="1.2" opacity="0.95"/><rect x="72.6" y="109.9" width="1.2" height="1.2" opacity="0.95"/><rect x="114.1" y="99.0" width="1.2" height="1.2" opacity="0.60"/><rect x="101.9" y="130.9" width="1.2" height="1.2" opacity="0.95"/><rect x="78.9" y="123.5" width="1.2" height="1.2" opacity="0.95"/><rect x="72.7" y="116.7" width="1.2" height="1.2" opacity="0.95"/></g>
<rect x="70.5" y="97" width="15.3" height="9.8" fill="#1ea7c5"/>
<g fill="#1ea7c5"><rect x="75.2" y="102.7" width="1.60" height="1.60" rx="0.6"/><rect x="69.4" y="100.2" width="1.60" height="1.60" rx="0.6"/><rect x="69.8" y="100.1" width="1.60" height="1.60" rx="0.6"/><rect x="75.4" y="105.3" width="1.60" height="1.60" rx="0.6"/><rect x="83.2" y="99.8" width="1.60" height="1.60" rx="0.6"/><rect x="73.3" y="100.4" width="1.60" height="1.60" rx="0.6"/><rect x="77.9" y="104.4" width="1.60" height="1.60" rx="0.6"/><rect x="84.2" y="104.8" width="1.60" height="1.60" rx="0.6"/><rect x="82.1" y="104.3" width="1.60" height="1.60" rx="0.6"/><rect x="79.1" y="103.6" width="1.60" height="1.60" rx="0.6"/><rect x="63.8" y="90.8" width="1.60" height="1.60" rx="0.6"/><rect x="81.8" y="92.6" width="1.60" height="1.60" rx="0.6"/><rect x="64.6" y="95.8" width="1.60" height="1.60" rx="0.6"/><rect x="84.2" y="93.1" width="1.60" height="1.60" rx="0.6"/><rect x="63.0" y="105.6" width="1.60" height="1.60" rx="0.6"/><rect x="80.9" y="104.9" width="1.60" height="1.60" rx="0.6"/><rect x="69.6" y="92.6" width="1.60" height="1.60" rx="0.6"/><rect x="72.5" y="94.4" width="1.60" height="1.60" rx="0.6"/><rect x="77.1" y="95.8" width="1.60" height="1.60" rx="0.6"/><rect x="72.0" y="100.8" width="1.60" height="1.60" rx="0.6"/><rect x="75.3" y="102.2" width="1.60" height="1.60" rx="0.6"/><rect x="78.4" y="88.1" width="1.60" height="1.60" rx="0.6"/><rect x="70.1" y="96.4" width="1.60" height="1.60" rx="0.6"/><rect x="84.5" y="87.9" width="1.60" height="1.60" rx="0.6"/><rect x="76.1" y="102.0" width="1.60" height="1.60" rx="0.6"/><rect x="78.0" y="96.5" width="1.60" height="1.60" rx="0.6"/><rect x="82.7" y="89.2" width="1.60" height="1.60" rx="0.6"/><rect x="69.0" y="105.7" width="1.60" height="1.60" rx="0.6"/><rect x="68.6" y="100.2" width="1.60" height="1.60" rx="0.6"/><rect x="75.8" y="88.8" width="1.60" height="1.60" rx="0.6"/><rect x="82.5" y="105.3" width="1.60" height="1.60" rx="0.6"/><rect x="81.3" y="89.0" width="1.60" height="1.60" rx="0.6"/><rect x="82.0" y="97.2" width="1.60" height="1.60" rx="0.6"/><rect x="68.8" y="86.6" width="1.60" height="1.60" rx="0.6"/><rect x="64.6" y="97.6" width="1.60" height="1.60" rx="0.6"/><rect x="67.2" y="91.8" width="1.60" height="1.60" rx="0.6"/><rect x="67.9" y="96.4" width="1.60" height="1.60" rx="0.6"/><rect x="77.8" y="99.4" width="1.60" height="1.60" rx="0.6"/><rect x="67.3" y="102.8" width="1.60" height="1.60" rx="0.6"/><rect x="79.5" y="90.0" width="1.60" height="1.60" rx="0.6"/><rect x="73.0" y="104.8" width="1.60" height="1.60" rx="0.6"/><rect x="80.7" y="90.9" width="1.60" height="1.60" rx="0.6"/><rect x="67.9" y="97.0" width="1.60" height="1.60" rx="0.6"/><rect x="73.3" y="96.8" width="1.60" height="1.60" rx="0.6"/><rect x="78.3" y="101.2" width="1.60" height="1.60" rx="0.6"/><rect x="75.3" y="100.6" width="1.60" height="1.60" rx="0.6"/><rect x="74.2" y="104.1" width="1.60" height="1.60" rx="0.6"/><rect x="71.0" y="104.6" width="1.60" height="1.60" rx="0.6"/><rect x="76.8" y="90.2" width="1.60" height="1.60" rx="0.6"/><rect x="74.3" y="105.5" width="1.60" height="1.60" rx="0.6"/><rect x="82.0" y="99.0" width="1.60" height="1.60" rx="0.6"/><rect x="75.3" y="102.7" width="1.60" height="1.60" rx="0.6"/><rect x="80.1" y="100.1" width="1.60" height="1.60" rx="0.6"/><rect x="83.8" y="91.1" width="1.60" height="1.60" rx="0.6"/><rect x="68.4" y="105.3" width="1.60" height="1.60" rx="0.6"/><rect x="63.8" y="97.5" width="1.60" height="1.60" rx="0.6"/><rect x="72.9" y="76.3" width="1.60" height="1.60" rx="0.6"/><rect x="68.4" y="97.4" width="1.60" height="1.60" rx="0.6"/><rect x="77.6" y="100.7" width="1.60" height="1.60" rx="0.6"/><rect x="72.7" y="104.0" width="1.60" height="1.60" rx="0.6"/><rect x="67.6" y="105.3" width="1.60" height="1.60" rx="0.6"/><rect x="68.4" y="101.4" width="1.60" height="1.60" rx="0.6"/><rect x="82.8" y="82.2" width="1.60" height="1.60" rx="0.6"/><rect x="63.7" y="90.3" width="1.60" height="1.60" rx="0.6"/><rect x="63.9" y="104.1" width="1.60" height="1.60" rx="0.6"/><rect x="83.6" y="94.4" width="1.60" height="1.60" rx="0.6"/><rect x="69.4" y="96.7" width="1.60" height="1.60" rx="0.6"/><rect x="79.6" y="104.6" width="1.60" height="1.60" rx="0.6"/><rect x="69.9" y="102.7" width="1.60" height="1.60" rx="0.6"/><rect x="68.0" y="104.2" width="1.60" height="1.60" rx="0.6"/><rect x="77.8" y="105.6" width="1.60" height="1.60" rx="0.6"/><rect x="78.7" y="103.5" width="1.60" height="1.60" rx="0.6"/><rect x="83.5" y="85.5" width="1.60" height="1.60" rx="0.6"/><rect x="72.8" y="101.5" width="1.60" height="1.60" rx="0.6"/><rect x="81.1" y="99.2" width="1.60" height="1.60" rx="0.6"/><rect x="76.7" y="104.2" width="1.60" height="1.60" rx="0.6"/><rect x="67.6" y="105.1" width="1.60" height="1.60" rx="0.6"/><rect x="78.6" y="97.6" width="1.60" height="1.60" rx="0.6"/><rect x="71.9" y="104.0" width="1.60" height="1.60" rx="0.6"/><rect x="82.8" y="104.5" width="1.60" height="1.60" rx="0.6"/><rect x="84.5" y="105.1" width="1.60" height="1.60" rx="0.6"/><rect x="82.7" y="94.7" width="1.60" height="1.60" rx="0.6"/><rect x="67.4" y="99.2" width="1.60" height="1.60" rx="0.6"/><rect x="69.1" y="102.7" width="1.60" height="1.60" rx="0.6"/><rect x="67.2" y="101.2" width="1.60" height="1.60" rx="0.6"/><rect x="78.9" y="102.2" width="1.60" height="1.60" rx="0.6"/><rect x="84.5" y="105.5" width="1.60" height="1.60" rx="0.6"/><rect x="80.7" y="101.5" width="1.60" height="1.60" rx="0.6"/><rect x="65.8" y="105.7" width="1.60" height="1.60" rx="0.6"/><rect x="74.4" y="103.6" width="1.60" height="1.60" rx="0.6"/><rect x="75.4" y="104.2" width="1.60" height="1.60" rx="0.6"/><rect x="66.7" y="91.0" width="1.60" height="1.60" rx="0.6"/><rect x="76.3" y="98.9" width="1.60" height="1.60" rx="0.6"/><rect x="68.8" y="103.4" width="1.60" height="1.60" rx="0.6"/><rect x="76.4" y="93.4" width="1.60" height="1.60" rx="0.6"/><rect x="80.8" y="97.0" width="1.60" height="1.60" rx="0.6"/><rect x="67.2" y="105.0" width="1.60" height="1.60" rx="0.6"/><rect x="79.0" y="100.5" width="1.60" height="1.60" rx="0.6"/><rect x="78.8" y="105.1" width="1.60" height="1.60" rx="0.6"/><rect x="80.8" y="101.6" width="1.60" height="1.60" rx="0.6"/><rect x="82.1" y="102.6" width="1.60" height="1.60" rx="0.6"/><rect x="74.2" y="104.4" width="1.60" height="1.60" rx="0.6"/><rect x="78.6" y="88.7" width="1.60" height="1.60" rx="0.6"/><rect x="82.0" y="101.8" width="1.60" height="1.60" rx="0.6"/><rect x="78.6" y="100.9" width="1.60" height="1.60" rx="0.6"/><rect x="79.5" y="105.1" width="1.60" height="1.60" rx="0.6"/><rect x="73.7" y="98.5" width="1.60" height="1.60" rx="0.6"/><rect x="74.5" y="98.0" width="1.60" height="1.60" rx="0.6"/><rect x="67.7" y="103.7" width="1.60" height="1.60" rx="0.6"/><rect x="65.0" y="102.8" width="1.60" height="1.60" rx="0.6"/><rect x="63.4" y="104.7" width="1.60" height="1.60" rx="0.6"/><rect x="75.6" y="98.3" width="1.60" height="1.60" rx="0.6"/><rect x="78.4" y="104.6" width="1.60" height="1.60" rx="0.6"/><rect x="82.1" y="93.1" width="1.60" height="1.60" rx="0.6"/><rect x="73.9" y="102.4" width="1.60" height="1.60" rx="0.6"/><rect x="75.5" y="92.0" width="1.60" height="1.60" rx="0.6"/><rect x="70.2" y="103.0" width="1.60" height="1.60" rx="0.6"/><rect x="70.2" y="100.0" width="1.60" height="1.60" rx="0.6"/><rect x="84.6" y="89.4" width="1.60" height="1.60" rx="0.6"/><rect x="83.1" y="88.8" width="1.60" height="1.60" rx="0.6"/><rect x="81.6" y="105.1" width="1.60" height="1.60" rx="0.6"/><rect x="83.5" y="102.8" width="1.60" height="1.60" rx="0.6"/><rect x="72.1" y="95.7" width="1.60" height="1.60" rx="0.6"/><rect x="70.8" y="98.1" width="1.60" height="1.60" rx="0.6"/><rect x="63.2" y="104.2" width="1.60" height="1.60" rx="0.6"/><rect x="80.7" y="84.1" width="1.60" height="1.60" rx="0.6"/><rect x="77.8" y="102.5" width="1.60" height="1.60" rx="0.6"/><rect x="68.3" y="98.4" width="1.60" height="1.60" rx="0.6"/><rect x="69.5" y="95.3" width="1.60" height="1.60" rx="0.6"/><rect x="65.4" y="96.7" width="1.60" height="1.60" rx="0.6"/><rect x="74.2" y="102.6" width="1.60" height="1.60" rx="0.6"/><rect x="73.1" y="98.1" width="1.60" height="1.60" rx="0.6"/><rect x="69.2" y="100.5" width="1.60" height="1.60" rx="0.6"/><rect x="69.1" y="102.9" width="1.60" height="1.60" rx="0.6"/><rect x="64.7" y="97.8" width="1.60" height="1.60" rx="0.6"/><rect x="76.3" y="97.3" width="1.60" height="1.60" rx="0.6"/><rect x="77.2" y="103.5" width="1.60" height="1.60" rx="0.6"/><rect x="78.5" y="99.5" width="1.60" height="1.60" rx="0.6"/><rect x="74.9" y="96.2" width="1.60" height="1.60" rx="0.6"/><rect x="73.2" y="102.0" width="1.60" height="1.60" rx="0.6"/><rect x="68.1" y="103.2" width="1.60" height="1.60" rx="0.6"/><rect x="74.1" y="100.9" width="1.60" height="1.60" rx="0.6"/><rect x="75.8" y="105.6" width="1.60" height="1.60" rx="0.6"/><rect x="75.1" y="98.9" width="1.60" height="1.60" rx="0.6"/><rect x="69.3" y="90.9" width="1.60" height="1.60" rx="0.6"/><rect x="66.2" y="105.0" width="1.60" height="1.60" rx="0.6"/><rect x="72.5" y="105.1" width="1.60" height="1.60" rx="0.6"/><rect x="71.3" y="99.9" width="1.60" height="1.60" rx="0.6"/><rect x="79.1" y="104.5" width="1.60" height="1.60" rx="0.6"/><rect x="79.2" y="104.0" width="1.60" height="1.60" rx="0.6"/><rect x="70.2" y="101.4" width="1.60" height="1.60" rx="0.6"/><rect x="77.8" y="96.1" width="1.60" height="1.60" rx="0.6"/><rect x="81.7" y="88.5" width="1.60" height="1.60" rx="0.6"/><rect x="74.2" y="92.3" width="1.60" height="1.60" rx="0.6"/><rect x="79.3" y="91.4" width="1.60" height="1.60" rx="0.6"/><rect x="73.3" y="90.3" width="1.60" height="1.60" rx="0.6"/><rect x="82.1" y="105.7" width="1.60" height="1.60" rx="0.6"/><rect x="79.8" y="96.9" width="1.60" height="1.60" rx="0.6"/><rect x="75.5" y="100.3" width="1.60" height="1.60" rx="0.6"/><rect x="71.2" y="99.7" width="1.60" height="1.60" rx="0.6"/><rect x="72.9" y="92.9" width="1.60" height="1.60" rx="0.6"/><rect x="69.2" y="100.7" width="1.60" height="1.60" rx="0.6"/><rect x="75.1" y="100.8" width="1.60" height="1.60" rx="0.6"/><rect x="69.9" y="90.2" width="1.60" height="1.60" rx="0.6"/><rect x="81.6" y="98.8" width="1.60" height="1.60" rx="0.6"/><rect x="72.6" y="103.7" width="1.60" height="1.60" rx="0.6"/><rect x="69.5" y="104.1" width="1.60" height="1.60" rx="0.6"/><rect x="75.5" y="97.0" width="1.60" height="1.60" rx="0.6"/><rect x="81.5" y="87.5" width="1.60" height="1.60" rx="0.6"/><rect x="67.3" y="100.1" width="1.60" height="1.60" rx="0.6"/><rect x="83.0" y="105.6" width="1.60" height="1.60" rx="0.6"/><rect x="83.2" y="90.9" width="1.60" height="1.60" rx="0.6"/><rect x="74.2" y="98.4" width="1.60" height="1.60" rx="0.6"/><rect x="78.0" y="100.8" width="1.60" height="1.60" rx="0.6"/><rect x="70.7" y="96.7" width="1.60" height="1.60" rx="0.6"/><rect x="74.4" y="104.7" width="1.60" height="1.60" rx="0.6"/><rect x="71.0" y="100.6" width="1.60" height="1.60" rx="0.6"/><rect x="75.2" y="97.2" width="1.60" height="1.60" rx="0.6"/><rect x="73.6" y="99.9" width="1.60" height="1.60" rx="0.6"/><rect x="70.4" y="98.1" width="1.60" height="1.60" rx="0.6"/><rect x="80.9" y="103.8" width="1.60" height="1.60" rx="0.6"/><rect x="81.1" y="98.5" width="1.60" height="1.60" rx="0.6"/><rect x="65.2" y="83.2" width="1.60" height="1.60" rx="0.6"/><rect x="74.0" y="103.6" width="1.60" height="1.60" rx="0.6"/><rect x="76.9" y="105.3" width="1.60" height="1.60" rx="0.6"/><rect x="71.9" y="90.2" width="1.60" height="1.60" rx="0.6"/><rect x="69.5" y="94.0" width="1.60" height="1.60" rx="0.6"/><rect x="62.8" y="102.1" width="1.60" height="1.60" rx="0.6"/><rect x="75.8" y="94.7" width="1.60" height="1.60" rx="0.6"/><rect x="68.6" y="95.3" width="1.60" height="1.60" rx="0.6"/><rect x="75.5" y="100.4" width="1.60" height="1.60" rx="0.6"/><rect x="65.4" y="104.0" width="1.60" height="1.60" rx="0.6"/><rect x="74.4" y="88.4" width="1.60" height="1.60" rx="0.6"/><rect x="76.4" y="89.3" width="1.60" height="1.60" rx="0.6"/><rect x="64.1" y="105.6" width="1.60" height="1.60" rx="0.6"/><rect x="69.9" y="93.1" width="1.60" height="1.60" rx="0.6"/><rect x="70.6" y="103.8" width="1.60" height="1.60" rx="0.6"/><rect x="68.6" y="104.7" width="1.60" height="1.60" rx="0.6"/><rect x="82.9" y="97.0" width="1.60" height="1.60" rx="0.6"/><rect x="70.5" y="99.7" width="1.60" height="1.60" rx="0.6"/><rect x="71.3" y="105.1" width="1.60" height="1.60" rx="0.6"/><rect x="82.6" y="97.0" width="1.60" height="1.60" rx="0.6"/><rect x="84.1" y="99.9" width="1.60" height="1.60" rx="0.6"/><rect x="76.5" y="102.8" width="1.60" height="1.60" rx="0.6"/><rect x="82.7" y="88.8" width="1.60" height="1.60" rx="0.6"/><rect x="69.5" y="96.5" width="1.60" height="1.60" rx="0.6"/><rect x="84.1" y="98.9" width="1.60" height="1.60" rx="0.6"/><rect x="83.9" y="102.9" width="1.60" height="1.60" rx="0.6"/><rect x="71.4" y="93.0" width="1.60" height="1.60" rx="0.6"/><rect x="67.6" y="102.0" width="1.60" height="1.60" rx="0.6"/><rect x="82.2" y="99.1" width="1.60" height="1.60" rx="0.6"/><rect x="80.4" y="102.9" width="1.60" height="1.60" rx="0.6"/><rect x="84.4" y="102.3" width="1.60" height="1.60" rx="0.6"/><rect x="75.2" y="104.5" width="1.60" height="1.60" rx="0.6"/><rect x="74.6" y="100.8" width="1.60" height="1.60" rx="0.6"/><rect x="71.7" y="105.0" width="1.60" height="1.60" rx="0.6"/><rect x="68.2" y="103.6" width="1.60" height="1.60" rx="0.6"/><rect x="69.0" y="103.0" width="1.60" height="1.60" rx="0.6"/><rect x="72.6" y="87.6" width="1.60" height="1.60" rx="0.6"/><rect x="66.3" y="101.3" width="1.60" height="1.60" rx="0.6"/><rect x="67.8" y="99.7" width="1.60" height="1.60" rx="0.6"/><rect x="82.8" y="96.8" width="1.60" height="1.60" rx="0.6"/><rect x="70.9" y="102.9" width="1.60" height="1.60" rx="0.6"/><rect x="76.3" y="103.3" width="1.60" height="1.60" rx="0.6"/><rect x="82.2" y="104.4" width="1.60" height="1.60" rx="0.6"/><rect x="74.1" y="97.9" width="1.60" height="1.60" rx="0.6"/><rect x="68.7" y="90.9" width="1.60" height="1.60" rx="0.6"/><rect x="71.3" y="95.0" width="1.60" height="1.60" rx="0.6"/><rect x="75.4" y="102.0" width="1.60" height="1.60" rx="0.6"/><rect x="71.4" y="104.8" width="1.60" height="1.60" rx="0.6"/><rect x="77.5" y="104.5" width="1.60" height="1.60" rx="0.6"/><rect x="75.2" y="101.2" width="1.60" height="1.60" rx="0.6"/><rect x="73.9" y="102.2" width="1.60" height="1.60" rx="0.6"/><rect x="68.9" y="105.4" width="1.60" height="1.60" rx="0.6"/><rect x="77.9" y="94.8" width="1.60" height="1.60" rx="0.6"/><rect x="70.5" y="100.4" width="1.60" height="1.60" rx="0.6"/><rect x="77.4" y="93.7" width="1.60" height="1.60" rx="0.6"/><rect x="76.7" y="103.7" width="1.60" height="1.60" rx="0.6"/><rect x="78.7" y="102.8" width="1.60" height="1.60" rx="0.6"/><rect x="72.4" y="94.2" width="1.60" height="1.60" rx="0.6"/><rect x="70.5" y="105.7" width="1.60" height="1.60" rx="0.6"/><rect x="81.3" y="90.7" width="1.60" height="1.60" rx="0.6"/><rect x="69.1" y="105.3" width="1.60" height="1.60" rx="0.6"/><rect x="81.7" y="96.4" width="1.60" height="1.60" rx="0.6"/><rect x="80.3" y="103.3" width="1.60" height="1.60" rx="0.6"/><rect x="83.1" y="91.9" width="1.60" height="1.60" rx="0.6"/><rect x="79.4" y="88.1" width="1.60" height="1.60" rx="0.6"/><rect x="69.0" y="104.8" width="1.60" height="1.60" rx="0.6"/><rect x="83.8" y="100.2" width="1.60" height="1.60" rx="0.6"/><rect x="83.4" y="93.9" width="1.60" height="1.60" rx="0.6"/><rect x="79.2" y="88.0" width="1.60" height="1.60" rx="0.6"/><rect x="76.7" y="99.7" width="1.60" height="1.60" rx="0.6"/><rect x="79.7" y="105.3" width="1.60" height="1.60" rx="0.6"/><rect x="78.4" y="89.3" width="1.60" height="1.60" rx="0.6"/><rect x="68.5" y="97.8" width="1.60" height="1.60" rx="0.6"/><rect x="84.3" y="95.6" width="1.60" height="1.60" rx="0.6"/><rect x="74.8" y="102.8" width="1.60" height="1.60" rx="0.6"/><rect x="78.5" y="94.6" width="1.60" height="1.60" rx="0.6"/><rect x="68.0" y="102.9" width="1.60" height="1.60" rx="0.6"/><rect x="74.2" y="99.8" width="1.60" height="1.60" rx="0.6"/><rect x="83.6" y="101.4" width="1.60" height="1.60" rx="0.6"/><rect x="75.3" y="101.6" width="1.60" height="1.60" rx="0.6"/><rect x="80.9" y="97.8" width="1.60" height="1.60" rx="0.6"/><rect x="79.7" y="103.8" width="1.60" height="1.60" rx="0.6"/><rect x="77.6" y="96.6" width="1.60" height="1.60" rx="0.6"/><rect x="73.0" y="91.2" width="1.60" height="1.60" rx="0.6"/><rect x="81.2" y="104.5" width="1.60" height="1.60" rx="0.6"/><rect x="69.2" y="101.2" width="1.60" height="1.60" rx="0.6"/><rect x="67.3" y="105.1" width="1.60" height="1.60" rx="0.6"/><rect x="69.0" y="103.5" width="1.60" height="1.60" rx="0.6"/><rect x="78.3" y="99.8" width="1.60" height="1.60" rx="0.6"/><rect x="70.8" y="103.9" width="1.60" height="1.60" rx="0.6"/><rect x="64.3" y="105.6" width="1.60" height="1.60" rx="0.6"/><rect x="79.4" y="104.8" width="1.60" height="1.60" rx="0.6"/><rect x="75.3" y="104.5" width="1.60" height="1.60" rx="0.6"/><rect x="73.6" y="100.0" width="1.60" height="1.60" rx="0.6"/><rect x="83.2" y="95.4" width="1.60" height="1.60" rx="0.6"/><rect x="68.3" y="102.9" width="1.60" height="1.60" rx="0.6"/><rect x="65.8" y="105.4" width="1.60" height="1.60" rx="0.6"/><rect x="81.4" y="102.2" width="1.60" height="1.60" rx="0.6"/><rect x="66.8" y="95.5" width="1.60" height="1.60" rx="0.6"/><rect x="83.4" y="103.9" width="1.60" height="1.60" rx="0.6"/><rect x="80.2" y="88.0" width="1.60" height="1.60" rx="0.6"/><rect x="79.3" y="101.7" width="1.60" height="1.60" rx="0.6"/><rect x="70.9" y="97.7" width="1.60" height="1.60" rx="0.6"/><rect x="81.0" y="93.5" width="1.60" height="1.60" rx="0.6"/><rect x="73.8" y="104.0" width="1.60" height="1.60" rx="0.6"/><rect x="69.4" y="97.0" width="1.60" height="1.60" rx="0.6"/><rect x="72.2" y="102.4" width="1.60" height="1.60" rx="0.6"/><rect x="77.5" y="98.5" width="1.60" height="1.60" rx="0.6"/><rect x="72.1" y="101.6" width="1.60" height="1.60" rx="0.6"/><rect x="72.5" y="94.7" width="1.60" height="1.60" rx="0.6"/><rect x="69.3" y="99.8" width="1.60" height="1.60" rx="0.6"/><rect x="75.3" y="101.4" width="1.60" height="1.60" rx="0.6"/><rect x="83.0" y="85.6" width="1.60" height="1.60" rx="0.6"/><rect x="84.1" y="96.0" width="1.60" height="1.60" rx="0.6"/><rect x="80.8" y="105.1" width="1.60" height="1.60" rx="0.6"/><rect x="77.8" y="96.3" width="1.60" height="1.60" rx="0.6"/><rect x="69.3" y="97.2" width="1.60" height="1.60" rx="0.6"/><rect x="83.9" y="99.1" width="1.60" height="1.60" rx="0.6"/><rect x="77.1" y="102.1" width="1.60" height="1.60" rx="0.6"/><rect x="75.7" y="100.3" width="1.60" height="1.60" rx="0.6"/><rect x="74.5" y="97.4" width="1.60" height="1.60" rx="0.6"/><rect x="71.5" y="104.5" width="1.60" height="1.60" rx="0.6"/><rect x="73.6" y="97.6" width="1.60" height="1.60" rx="0.6"/><rect x="67.8" y="97.2" width="1.60" height="1.60" rx="0.6"/><rect x="78.6" y="91.6" width="1.60" height="1.60" rx="0.6"/><rect x="78.8" y="104.6" width="1.60" height="1.60" rx="0.6"/><rect x="81.2" y="100.7" width="1.60" height="1.60" rx="0.6"/><rect x="75.3" y="90.8" width="1.60" height="1.60" rx="0.6"/><rect x="68.0" y="101.0" width="1.60" height="1.60" rx="0.6"/><rect x="69.4" y="93.4" width="1.60" height="1.60" rx="0.6"/><rect x="82.1" y="97.4" width="1.60" height="1.60" rx="0.6"/><rect x="79.3" y="101.5" width="1.60" height="1.60" rx="0.6"/><rect x="79.7" y="94.3" width="1.60" height="1.60" rx="0.6"/><rect x="81.1" y="104.4" width="1.60" height="1.60" rx="0.6"/><rect x="71.0" y="92.3" width="1.60" height="1.60" rx="0.6"/><rect x="83.8" y="92.9" width="1.60" height="1.60" rx="0.6"/><rect x="74.9" y="89.5" width="1.60" height="1.60" rx="0.6"/><rect x="67.0" y="99.8" width="1.60" height="1.60" rx="0.6"/><rect x="75.7" y="104.5" width="1.60" height="1.60" rx="0.6"/><rect x="63.2" y="104.5" width="1.60" height="1.60" rx="0.6"/><rect x="78.0" y="100.9" width="1.60" height="1.60" rx="0.6"/><rect x="78.1" y="89.2" width="1.60" height="1.60" rx="0.6"/><rect x="83.9" y="105.6" width="1.60" height="1.60" rx="0.6"/><rect x="70.3" y="104.1" width="1.60" height="1.60" rx="0.6"/><rect x="73.9" y="85.1" width="1.60" height="1.60" rx="0.6"/><rect x="63.5" y="103.7" width="1.60" height="1.60" rx="0.6"/><rect x="77.9" y="100.7" width="1.60" height="1.60" rx="0.6"/><rect x="73.3" y="104.0" width="1.60" height="1.60" rx="0.6"/><rect x="81.5" y="100.7" width="1.60" height="1.60" rx="0.6"/><rect x="82.2" y="96.3" width="1.60" height="1.60" rx="0.6"/><rect x="82.6" y="96.8" width="1.60" height="1.60" rx="0.6"/><rect x="73.1" y="97.1" width="1.60" height="1.60" rx="0.6"/><rect x="71.3" y="101.3" width="1.60" height="1.60" rx="0.6"/><rect x="63.2" y="99.5" width="1.60" height="1.60" rx="0.6"/><rect x="63.7" y="104.1" width="1.60" height="1.60" rx="0.6"/><rect x="68.8" y="102.5" width="1.60" height="1.60" rx="0.6"/><rect x="73.9" y="102.7" width="1.60" height="1.60" rx="0.6"/><rect x="75.4" y="98.2" width="1.60" height="1.60" rx="0.6"/><rect x="63.5" y="97.5" width="1.60" height="1.60" rx="0.6"/><rect x="82.2" y="90.8" width="1.60" height="1.60" rx="0.6"/><rect x="76.8" y="95.6" width="1.60" height="1.60" rx="0.6"/><rect x="70.8" y="102.4" width="1.60" height="1.60" rx="0.6"/><rect x="80.4" y="85.1" width="1.60" height="1.60" rx="0.6"/><rect x="77.9" y="102.1" width="1.60" height="1.60" rx="0.6"/><rect x="79.7" y="92.2" width="1.60" height="1.60" rx="0.6"/><rect x="74.0" y="95.6" width="1.60" height="1.60" rx="0.6"/><rect x="70.5" y="97.7" width="1.60" height="1.60" rx="0.6"/><rect x="71.8" y="105.1" width="1.60" height="1.60" rx="0.6"/><rect x="70.2" y="101.8" width="1.60" height="1.60" rx="0.6"/><rect x="84.7" y="99.1" width="1.60" height="1.60" rx="0.6"/><rect x="70.9" y="102.9" width="1.60" height="1.60" rx="0.6"/><rect x="67.9" y="101.4" width="1.60" height="1.60" rx="0.6"/><rect x="65.7" y="105.6" width="1.60" height="1.60" rx="0.6"/><rect x="72.8" y="99.8" width="1.60" height="1.60" rx="0.6"/><rect x="75.4" y="102.1" width="1.60" height="1.60" rx="0.6"/><rect x="69.6" y="92.7" width="1.60" height="1.60" rx="0.6"/><rect x="83.2" y="96.9" width="1.60" height="1.60" rx="0.6"/><rect x="84.7" y="101.3" width="1.60" height="1.60" rx="0.6"/><rect x="80.0" y="100.1" width="1.60" height="1.60" rx="0.6"/><rect x="82.1" y="105.0" width="1.60" height="1.60" rx="0.6"/><rect x="68.4" y="105.5" width="1.60" height="1.60" rx="0.6"/><rect x="66.4" y="102.6" width="1.60" height="1.60" rx="0.6"/><rect x="67.6" y="100.6" width="1.60" height="1.60" rx="0.6"/><rect x="67.2" y="96.5" width="1.60" height="1.60" rx="0.6"/><rect x="77.2" y="103.5" width="1.60" height="1.60" rx="0.6"/><rect x="76.1" y="104.9" width="1.60" height="1.60" rx="0.6"/><rect x="82.2" y="95.5" width="1.60" height="1.60" rx="0.6"/><rect x="83.3" y="103.3" width="1.60" height="1.60" rx="0.6"/><rect x="70.0" y="91.9" width="1.60" height="1.60" rx="0.6"/><rect x="77.2" y="100.5" width="1.60" height="1.60" rx="0.6"/><rect x="77.8" y="101.6" width="1.60" height="1.60" rx="0.6"/><rect x="76.7" y="101.6" width="1.60" height="1.60" rx="0.6"/><rect x="73.7" y="96.6" width="1.60" height="1.60" rx="0.6"/><rect x="68.4" y="99.5" width="1.60" height="1.60" rx="0.6"/><rect x="84.7" y="105.1" width="1.60" height="1.60" rx="0.6"/><rect x="76.4" y="92.8" width="1.60" height="1.60" rx="0.6"/><rect x="70.0" y="104.7" width="1.60" height="1.60" rx="0.6"/><rect x="66.2" y="104.2" width="1.60" height="1.60" rx="0.6"/><rect x="74.7" y="96.8" width="1.60" height="1.60" rx="0.6"/><rect x="75.1" y="95.0" width="1.60" height="1.60" rx="0.6"/><rect x="76.1" y="101.7" width="1.60" height="1.60" rx="0.6"/><rect x="79.2" y="102.7" width="1.60" height="1.60" rx="0.6"/><rect x="78.6" y="91.3" width="1.60" height="1.60" rx="0.6"/><rect x="80.0" y="102.0" width="1.60" height="1.60" rx="0.6"/><rect x="72.8" y="102.4" width="1.60" height="1.60" rx="0.6"/><rect x="62.9" y="99.2" width="1.60" height="1.60" rx="0.6"/><rect x="80.0" y="101.2" width="1.60" height="1.60" rx="0.6"/><rect x="84.8" y="103.1" width="1.60" height="1.60" rx="0.6"/><rect x="79.6" y="104.8" width="1.60" height="1.60" rx="0.6"/><rect x="73.9" y="97.6" width="1.60" height="1.60" rx="0.6"/><rect x="66.0" y="103.7" width="1.60" height="1.60" rx="0.6"/><rect x="83.2" y="103.9" width="1.60" height="1.60" rx="0.6"/><rect x="84.6" y="98.8" width="1.60" height="1.60" rx="0.6"/><rect x="76.9" y="101.5" width="1.60" height="1.60" rx="0.6"/><rect x="80.6" y="99.5" width="1.60" height="1.60" rx="0.6"/><rect x="79.1" y="105.0" width="1.60" height="1.60" rx="0.6"/><rect x="77.1" y="100.6" width="1.60" height="1.60" rx="0.6"/><rect x="82.0" y="105.1" width="1.60" height="1.60" rx="0.6"/><rect x="72.5" y="63.5" width="1.80" height="1.80" rx="0.6"/><rect x="76.6" y="62.3" width="1.80" height="1.80" rx="0.6"/><rect x="50.8" y="70.4" width="1.80" height="1.80" rx="0.6"/><rect x="57.2" y="74.9" width="1.80" height="1.80" rx="0.6"/><rect x="72.5" y="72.1" width="1.80" height="1.80" rx="0.6"/><rect x="61.6" y="77.6" width="1.80" height="1.80" rx="0.6"/><rect x="65.2" y="78.5" width="1.80" height="1.80" rx="0.6"/><rect x="68.9" y="77.9" width="1.80" height="1.80" rx="0.6"/><rect x="76.6" y="77.6" width="1.80" height="1.80" rx="0.6"/><rect x="76.8" y="79.6" width="1.80" height="1.80" rx="0.6"/><rect x="52.3" y="86.8" width="1.80" height="1.80" rx="0.6"/><rect x="59.2" y="87.4" width="1.80" height="1.80" rx="0.6"/><rect x="56.6" y="91.2" width="1.80" height="1.80" rx="0.6"/><rect x="77.9" y="82.7" width="1.80" height="1.80" rx="0.6"/><rect x="84.0" y="83.1" width="1.80" height="1.80" rx="0.6"/><rect x="60.6" y="97.7" width="1.80" height="1.80" rx="0.6"/><rect x="64.1" y="97.2" width="1.80" height="1.80" rx="0.6"/><rect x="62.9" y="101.8" width="1.80" height="1.80" rx="0.6"/><rect x="70.4" y="82.7" width="1.80" height="1.80" rx="0.6"/><rect x="65.2" y="81.0" width="1.80" height="1.80" rx="0.6"/><rect x="63.5" y="83.9" width="1.80" height="1.80" rx="0.6"/></g>
<rect x="99.2" y="94.5" width="10" height="12.6" fill="#f8a02e"/>
<g fill="#f8a02e"><rect x="105.5" y="81.1" width="1.60" height="1.60" rx="0.6"/><rect x="101.4" y="77.2" width="1.60" height="1.60" rx="0.6"/><rect x="102.1" y="103.3" width="1.60" height="1.60" rx="0.6"/><rect x="102.2" y="103.2" width="1.60" height="1.60" rx="0.6"/><rect x="103.4" y="103.9" width="1.60" height="1.60" rx="0.6"/><rect x="100.6" y="92.0" width="1.60" height="1.60" rx="0.6"/><rect x="103.3" y="103.8" width="1.60" height="1.60" rx="0.6"/><rect x="102.4" y="86.3" width="1.60" height="1.60" rx="0.6"/><rect x="100.3" y="85.9" width="1.60" height="1.60" rx="0.6"/><rect x="99.8" y="88.9" width="1.60" height="1.60" rx="0.6"/><rect x="102.6" y="84.0" width="1.60" height="1.60" rx="0.6"/><rect x="105.9" y="104.4" width="1.60" height="1.60" rx="0.6"/><rect x="102.5" y="100.2" width="1.60" height="1.60" rx="0.6"/><rect x="107.6" y="97.5" width="1.60" height="1.60" rx="0.6"/><rect x="102.2" y="84.7" width="1.60" height="1.60" rx="0.6"/><rect x="101.9" y="101.7" width="1.60" height="1.60" rx="0.6"/><rect x="101.2" y="104.2" width="1.60" height="1.60" rx="0.6"/><rect x="113.1" y="86.3" width="1.60" height="1.60" rx="0.6"/><rect x="104.7" y="106.0" width="1.60" height="1.60" rx="0.6"/><rect x="98.6" y="105.0" width="1.60" height="1.60" rx="0.6"/><rect x="99.4" y="81.9" width="1.60" height="1.60" rx="0.6"/><rect x="98.6" y="104.6" width="1.60" height="1.60" rx="0.6"/><rect x="98.7" y="104.4" width="1.60" height="1.60" rx="0.6"/><rect x="101.8" y="94.7" width="1.60" height="1.60" rx="0.6"/><rect x="104.2" y="81.1" width="1.60" height="1.60" rx="0.6"/><rect x="102.1" y="93.6" width="1.60" height="1.60" rx="0.6"/><rect x="101.4" y="105.8" width="1.60" height="1.60" rx="0.6"/><rect x="109.5" y="99.2" width="1.60" height="1.60" rx="0.6"/><rect x="99.3" y="105.1" width="1.60" height="1.60" rx="0.6"/><rect x="106.3" y="106.0" width="1.60" height="1.60" rx="0.6"/><rect x="104.9" y="85.1" width="1.60" height="1.60" rx="0.6"/><rect x="98.8" y="104.9" width="1.60" height="1.60" rx="0.6"/><rect x="102.4" y="100.6" width="1.60" height="1.60" rx="0.6"/><rect x="98.7" y="104.2" width="1.60" height="1.60" rx="0.6"/><rect x="100.1" y="92.8" width="1.60" height="1.60" rx="0.6"/><rect x="102.3" y="99.3" width="1.60" height="1.60" rx="0.6"/><rect x="103.7" y="99.3" width="1.60" height="1.60" rx="0.6"/><rect x="102.9" y="81.1" width="1.60" height="1.60" rx="0.6"/><rect x="102.6" y="84.7" width="1.60" height="1.60" rx="0.6"/><rect x="99.1" y="104.2" width="1.60" height="1.60" rx="0.6"/><rect x="104.3" y="103.1" width="1.60" height="1.60" rx="0.6"/><rect x="100.4" y="99.1" width="1.60" height="1.60" rx="0.6"/><rect x="99.3" y="101.0" width="1.60" height="1.60" rx="0.6"/><rect x="105.1" y="106.1" width="1.60" height="1.60" rx="0.6"/><rect x="100.9" y="94.5" width="1.60" height="1.60" rx="0.6"/><rect x="103.8" y="98.2" width="1.60" height="1.60" rx="0.6"/><rect x="106.1" y="94.5" width="1.60" height="1.60" rx="0.6"/><rect x="113.6" y="93.6" width="1.60" height="1.60" rx="0.6"/><rect x="100.1" y="101.1" width="1.60" height="1.60" rx="0.6"/><rect x="105.5" y="101.3" width="1.60" height="1.60" rx="0.6"/><rect x="104.2" y="104.7" width="1.60" height="1.60" rx="0.6"/><rect x="108.7" y="80.1" width="1.60" height="1.60" rx="0.6"/><rect x="98.7" y="103.3" width="1.60" height="1.60" rx="0.6"/><rect x="104.0" y="103.4" width="1.60" height="1.60" rx="0.6"/><rect x="103.1" y="104.0" width="1.60" height="1.60" rx="0.6"/><rect x="109.2" y="90.9" width="1.60" height="1.60" rx="0.6"/><rect x="108.0" y="82.3" width="1.60" height="1.60" rx="0.6"/><rect x="101.9" y="95.8" width="1.60" height="1.60" rx="0.6"/><rect x="104.6" y="70.6" width="1.60" height="1.60" rx="0.6"/><rect x="100.4" y="106.2" width="1.60" height="1.60" rx="0.6"/><rect x="98.8" y="99.1" width="1.60" height="1.60" rx="0.6"/><rect x="113.1" y="97.2" width="1.60" height="1.60" rx="0.6"/><rect x="103.9" y="96.3" width="1.60" height="1.60" rx="0.6"/><rect x="98.6" y="92.6" width="1.60" height="1.60" rx="0.6"/><rect x="107.0" y="101.2" width="1.60" height="1.60" rx="0.6"/><rect x="106.6" y="98.7" width="1.60" height="1.60" rx="0.6"/><rect x="107.0" y="102.3" width="1.60" height="1.60" rx="0.6"/><rect x="105.7" y="96.3" width="1.60" height="1.60" rx="0.6"/><rect x="103.5" y="96.7" width="1.60" height="1.60" rx="0.6"/><rect x="99.8" y="103.1" width="1.60" height="1.60" rx="0.6"/><rect x="105.5" y="93.4" width="1.60" height="1.60" rx="0.6"/><rect x="103.0" y="98.8" width="1.60" height="1.60" rx="0.6"/><rect x="103.6" y="104.7" width="1.60" height="1.60" rx="0.6"/><rect x="99.2" y="80.0" width="1.60" height="1.60" rx="0.6"/><rect x="107.4" y="98.7" width="1.60" height="1.60" rx="0.6"/><rect x="100.0" y="89.4" width="1.60" height="1.60" rx="0.6"/><rect x="98.7" y="88.9" width="1.60" height="1.60" rx="0.6"/><rect x="103.0" y="100.0" width="1.60" height="1.60" rx="0.6"/><rect x="107.3" y="83.8" width="1.60" height="1.60" rx="0.6"/><rect x="109.3" y="86.0" width="1.60" height="1.60" rx="0.6"/><rect x="105.5" y="88.4" width="1.60" height="1.60" rx="0.6"/><rect x="100.4" y="89.2" width="1.60" height="1.60" rx="0.6"/><rect x="101.5" y="103.3" width="1.60" height="1.60" rx="0.6"/><rect x="101.4" y="105.1" width="1.60" height="1.60" rx="0.6"/><rect x="106.8" y="98.8" width="1.60" height="1.60" rx="0.6"/><rect x="109.0" y="100.2" width="1.60" height="1.60" rx="0.6"/><rect x="102.4" y="94.3" width="1.60" height="1.60" rx="0.6"/><rect x="106.5" y="90.2" width="1.60" height="1.60" rx="0.6"/><rect x="101.1" y="92.0" width="1.60" height="1.60" rx="0.6"/><rect x="105.1" y="101.6" width="1.60" height="1.60" rx="0.6"/><rect x="107.6" y="98.8" width="1.60" height="1.60" rx="0.6"/><rect x="99.0" y="102.0" width="1.60" height="1.60" rx="0.6"/><rect x="105.6" y="101.4" width="1.60" height="1.60" rx="0.6"/><rect x="103.4" y="97.7" width="1.60" height="1.60" rx="0.6"/><rect x="99.0" y="105.6" width="1.60" height="1.60" rx="0.6"/><rect x="103.6" y="103.0" width="1.60" height="1.60" rx="0.6"/><rect x="109.1" y="102.3" width="1.60" height="1.60" rx="0.6"/><rect x="99.1" y="105.2" width="1.60" height="1.60" rx="0.6"/><rect x="112.6" y="96.1" width="1.60" height="1.60" rx="0.6"/><rect x="101.6" y="100.7" width="1.60" height="1.60" rx="0.6"/><rect x="102.3" y="90.5" width="1.60" height="1.60" rx="0.6"/><rect x="103.7" y="105.8" width="1.60" height="1.60" rx="0.6"/><rect x="103.3" y="100.4" width="1.60" height="1.60" rx="0.6"/><rect x="106.4" y="102.7" width="1.60" height="1.60" rx="0.6"/><rect x="107.2" y="101.0" width="1.60" height="1.60" rx="0.6"/><rect x="106.6" y="101.9" width="1.60" height="1.60" rx="0.6"/><rect x="109.4" y="101.3" width="1.60" height="1.60" rx="0.6"/><rect x="106.5" y="70.7" width="1.60" height="1.60" rx="0.6"/><rect x="100.1" y="95.2" width="1.60" height="1.60" rx="0.6"/><rect x="105.4" y="102.2" width="1.60" height="1.60" rx="0.6"/><rect x="109.8" y="101.4" width="1.60" height="1.60" rx="0.6"/><rect x="103.8" y="98.7" width="1.60" height="1.60" rx="0.6"/><rect x="114.5" y="92.1" width="1.60" height="1.60" rx="0.6"/><rect x="98.7" y="105.9" width="1.60" height="1.60" rx="0.6"/><rect x="105.4" y="100.0" width="1.60" height="1.60" rx="0.6"/><rect x="103.0" y="87.9" width="1.60" height="1.60" rx="0.6"/><rect x="105.7" y="84.1" width="1.60" height="1.60" rx="0.6"/><rect x="102.7" y="100.4" width="1.60" height="1.60" rx="0.6"/><rect x="107.4" y="88.8" width="1.60" height="1.60" rx="0.6"/><rect x="98.9" y="95.1" width="1.60" height="1.60" rx="0.6"/><rect x="98.9" y="105.8" width="1.60" height="1.60" rx="0.6"/><rect x="106.0" y="94.8" width="1.60" height="1.60" rx="0.6"/><rect x="110.5" y="91.5" width="1.60" height="1.60" rx="0.6"/><rect x="102.7" y="104.9" width="1.60" height="1.60" rx="0.6"/><rect x="98.9" y="89.2" width="1.60" height="1.60" rx="0.6"/><rect x="101.4" y="105.1" width="1.60" height="1.60" rx="0.6"/><rect x="109.1" y="97.9" width="1.60" height="1.60" rx="0.6"/><rect x="105.0" y="105.6" width="1.60" height="1.60" rx="0.6"/><rect x="103.4" y="99.6" width="1.60" height="1.60" rx="0.6"/><rect x="101.2" y="97.4" width="1.60" height="1.60" rx="0.6"/><rect x="104.6" y="104.6" width="1.60" height="1.60" rx="0.6"/><rect x="98.5" y="103.0" width="1.60" height="1.60" rx="0.6"/><rect x="98.9" y="103.3" width="1.60" height="1.60" rx="0.6"/><rect x="104.9" y="86.6" width="1.60" height="1.60" rx="0.6"/><rect x="106.8" y="100.7" width="1.60" height="1.60" rx="0.6"/><rect x="101.5" y="105.7" width="1.60" height="1.60" rx="0.6"/><rect x="103.5" y="90.0" width="1.60" height="1.60" rx="0.6"/><rect x="112.6" y="86.8" width="1.60" height="1.60" rx="0.6"/><rect x="98.6" y="105.7" width="1.60" height="1.60" rx="0.6"/><rect x="103.4" y="98.5" width="1.60" height="1.60" rx="0.6"/><rect x="104.3" y="99.5" width="1.60" height="1.60" rx="0.6"/><rect x="104.4" y="97.4" width="1.60" height="1.60" rx="0.6"/><rect x="107.4" y="104.0" width="1.60" height="1.60" rx="0.6"/><rect x="108.5" y="81.0" width="1.60" height="1.60" rx="0.6"/><rect x="100.7" y="102.4" width="1.60" height="1.60" rx="0.6"/><rect x="99.2" y="98.6" width="1.60" height="1.60" rx="0.6"/><rect x="106.5" y="102.3" width="1.60" height="1.60" rx="0.6"/><rect x="103.6" y="103.0" width="1.60" height="1.60" rx="0.6"/><rect x="100.2" y="93.8" width="1.60" height="1.60" rx="0.6"/><rect x="104.4" y="90.0" width="1.60" height="1.60" rx="0.6"/><rect x="105.3" y="78.9" width="1.60" height="1.60" rx="0.6"/><rect x="102.9" y="100.3" width="1.60" height="1.60" rx="0.6"/><rect x="100.3" y="100.5" width="1.60" height="1.60" rx="0.6"/><rect x="100.2" y="96.0" width="1.60" height="1.60" rx="0.6"/><rect x="102.9" y="97.1" width="1.60" height="1.60" rx="0.6"/><rect x="105.6" y="98.0" width="1.60" height="1.60" rx="0.6"/><rect x="113.8" y="90.1" width="1.60" height="1.60" rx="0.6"/><rect x="109.6" y="95.0" width="1.60" height="1.60" rx="0.6"/><rect x="98.5" y="102.7" width="1.60" height="1.60" rx="0.6"/><rect x="101.9" y="104.6" width="1.60" height="1.60" rx="0.6"/><rect x="112.3" y="81.2" width="1.60" height="1.60" rx="0.6"/><rect x="99.3" y="105.2" width="1.60" height="1.60" rx="0.6"/><rect x="101.7" y="90.9" width="1.60" height="1.60" rx="0.6"/><rect x="105.8" y="95.4" width="1.60" height="1.60" rx="0.6"/><rect x="100.8" y="103.2" width="1.60" height="1.60" rx="0.6"/><rect x="104.8" y="105.6" width="1.60" height="1.60" rx="0.6"/><rect x="99.1" y="88.1" width="1.60" height="1.60" rx="0.6"/><rect x="100.5" y="102.7" width="1.60" height="1.60" rx="0.6"/><rect x="99.5" y="102.4" width="1.60" height="1.60" rx="0.6"/><rect x="108.2" y="98.0" width="1.60" height="1.60" rx="0.6"/><rect x="107.8" y="102.3" width="1.60" height="1.60" rx="0.6"/><rect x="112.0" y="87.8" width="1.60" height="1.60" rx="0.6"/><rect x="106.2" y="67.0" width="1.60" height="1.60" rx="0.6"/><rect x="109.4" y="101.2" width="1.60" height="1.60" rx="0.6"/><rect x="105.6" y="96.0" width="1.60" height="1.60" rx="0.6"/><rect x="99.9" y="103.7" width="1.60" height="1.60" rx="0.6"/><rect x="101.6" y="100.0" width="1.60" height="1.60" rx="0.6"/><rect x="99.3" y="93.2" width="1.60" height="1.60" rx="0.6"/><rect x="103.2" y="88.6" width="1.60" height="1.60" rx="0.6"/><rect x="110.2" y="78.2" width="1.60" height="1.60" rx="0.6"/><rect x="104.5" y="101.9" width="1.60" height="1.60" rx="0.6"/><rect x="99.4" y="92.3" width="1.60" height="1.60" rx="0.6"/><rect x="98.8" y="99.6" width="1.60" height="1.60" rx="0.6"/><rect x="105.0" y="98.4" width="1.60" height="1.60" rx="0.6"/><rect x="106.0" y="105.3" width="1.60" height="1.60" rx="0.6"/><rect x="102.2" y="83.8" width="1.60" height="1.60" rx="0.6"/><rect x="103.0" y="87.5" width="1.60" height="1.60" rx="0.6"/><rect x="100.8" y="105.9" width="1.60" height="1.60" rx="0.6"/><rect x="105.1" y="77.3" width="1.60" height="1.60" rx="0.6"/><rect x="99.8" y="95.5" width="1.60" height="1.60" rx="0.6"/><rect x="104.8" y="100.2" width="1.60" height="1.60" rx="0.6"/><rect x="100.5" y="103.4" width="1.60" height="1.60" rx="0.6"/><rect x="98.6" y="90.7" width="1.60" height="1.60" rx="0.6"/><rect x="103.1" y="102.7" width="1.60" height="1.60" rx="0.6"/><rect x="107.1" y="105.2" width="1.60" height="1.60" rx="0.6"/><rect x="102.5" y="98.2" width="1.60" height="1.60" rx="0.6"/><rect x="100.8" y="100.0" width="1.60" height="1.60" rx="0.6"/><rect x="101.8" y="95.8" width="1.60" height="1.60" rx="0.6"/><rect x="98.7" y="104.8" width="1.60" height="1.60" rx="0.6"/><rect x="104.6" y="101.5" width="1.60" height="1.60" rx="0.6"/><rect x="101.7" y="95.3" width="1.60" height="1.60" rx="0.6"/><rect x="100.8" y="77.8" width="1.60" height="1.60" rx="0.6"/><rect x="102.3" y="102.2" width="1.60" height="1.60" rx="0.6"/><rect x="106.8" y="99.7" width="1.60" height="1.60" rx="0.6"/><rect x="107.0" y="99.3" width="1.60" height="1.60" rx="0.6"/><rect x="102.1" y="99.9" width="1.60" height="1.60" rx="0.6"/><rect x="99.2" y="104.4" width="1.60" height="1.60" rx="0.6"/><rect x="107.1" y="101.6" width="1.60" height="1.60" rx="0.6"/><rect x="100.4" y="104.0" width="1.60" height="1.60" rx="0.6"/><rect x="102.6" y="104.8" width="1.60" height="1.60" rx="0.6"/><rect x="101.3" y="103.5" width="1.60" height="1.60" rx="0.6"/><rect x="104.5" y="84.1" width="1.60" height="1.60" rx="0.6"/><rect x="104.8" y="106.0" width="1.60" height="1.60" rx="0.6"/><rect x="106.5" y="90.5" width="1.60" height="1.60" rx="0.6"/><rect x="101.4" y="97.8" width="1.60" height="1.60" rx="0.6"/><rect x="100.4" y="92.3" width="1.60" height="1.60" rx="0.6"/><rect x="103.4" y="104.5" width="1.60" height="1.60" rx="0.6"/><rect x="98.6" y="101.2" width="1.60" height="1.60" rx="0.6"/><rect x="100.3" y="98.9" width="1.60" height="1.60" rx="0.6"/><rect x="102.5" y="105.3" width="1.60" height="1.60" rx="0.6"/><rect x="99.4" y="90.9" width="1.60" height="1.60" rx="0.6"/><rect x="108.4" y="93.8" width="1.60" height="1.60" rx="0.6"/><rect x="103.6" y="97.1" width="1.60" height="1.60" rx="0.6"/><rect x="108.5" y="94.4" width="1.60" height="1.60" rx="0.6"/><rect x="101.1" y="89.3" width="1.60" height="1.60" rx="0.6"/><rect x="105.9" y="100.0" width="1.60" height="1.60" rx="0.6"/><rect x="109.9" y="80.8" width="1.60" height="1.60" rx="0.6"/><rect x="99.6" y="101.0" width="1.60" height="1.60" rx="0.6"/><rect x="103.2" y="93.0" width="1.60" height="1.60" rx="0.6"/><rect x="101.4" y="94.8" width="1.60" height="1.60" rx="0.6"/><rect x="102.4" y="104.7" width="1.60" height="1.60" rx="0.6"/><rect x="104.0" y="104.0" width="1.60" height="1.60" rx="0.6"/><rect x="100.6" y="99.3" width="1.60" height="1.60" rx="0.6"/><rect x="106.7" y="91.1" width="1.60" height="1.60" rx="0.6"/><rect x="108.9" y="96.1" width="1.60" height="1.60" rx="0.6"/><rect x="105.2" y="104.0" width="1.60" height="1.60" rx="0.6"/><rect x="108.6" y="90.8" width="1.60" height="1.60" rx="0.6"/><rect x="99.8" y="104.4" width="1.60" height="1.60" rx="0.6"/><rect x="105.2" y="72.5" width="1.60" height="1.60" rx="0.6"/><rect x="104.2" y="104.8" width="1.60" height="1.60" rx="0.6"/><rect x="109.4" y="88.6" width="1.60" height="1.60" rx="0.6"/><rect x="113.4" y="92.5" width="1.60" height="1.60" rx="0.6"/><rect x="104.7" y="88.3" width="1.60" height="1.60" rx="0.6"/><rect x="101.6" y="100.5" width="1.60" height="1.60" rx="0.6"/><rect x="107.9" y="88.8" width="1.60" height="1.60" rx="0.6"/><rect x="101.7" y="102.6" width="1.60" height="1.60" rx="0.6"/><rect x="113.2" y="73.8" width="1.60" height="1.60" rx="0.6"/><rect x="102.0" y="71.6" width="1.60" height="1.60" rx="0.6"/><rect x="99.7" y="88.0" width="1.60" height="1.60" rx="0.6"/><rect x="104.0" y="103.6" width="1.60" height="1.60" rx="0.6"/><rect x="101.1" y="103.5" width="1.60" height="1.60" rx="0.6"/><rect x="106.3" y="99.4" width="1.60" height="1.60" rx="0.6"/><rect x="108.0" y="93.8" width="1.60" height="1.60" rx="0.6"/><rect x="104.6" y="101.2" width="1.60" height="1.60" rx="0.6"/><rect x="101.2" y="94.7" width="1.60" height="1.60" rx="0.6"/><rect x="111.4" y="77.8" width="1.60" height="1.60" rx="0.6"/><rect x="101.9" y="105.3" width="1.60" height="1.60" rx="0.6"/><rect x="105.2" y="95.6" width="1.60" height="1.60" rx="0.6"/><rect x="101.9" y="97.2" width="1.60" height="1.60" rx="0.6"/><rect x="104.3" y="88.1" width="1.60" height="1.60" rx="0.6"/><rect x="98.6" y="99.5" width="1.60" height="1.60" rx="0.6"/><rect x="99.1" y="106.0" width="1.60" height="1.60" rx="0.6"/><rect x="108.9" y="100.8" width="1.60" height="1.60" rx="0.6"/><rect x="107.2" y="96.9" width="1.60" height="1.60" rx="0.6"/><rect x="104.9" y="103.8" width="1.60" height="1.60" rx="0.6"/><rect x="100.2" y="101.8" width="1.60" height="1.60" rx="0.6"/><rect x="104.2" y="102.7" width="1.60" height="1.60" rx="0.6"/><rect x="107.0" y="105.3" width="1.60" height="1.60" rx="0.6"/><rect x="99.9" y="100.4" width="1.60" height="1.60" rx="0.6"/><rect x="110.0" y="95.4" width="1.60" height="1.60" rx="0.6"/><rect x="99.7" y="94.7" width="1.60" height="1.60" rx="0.6"/><rect x="102.0" y="105.8" width="1.60" height="1.60" rx="0.6"/><rect x="100.5" y="103.0" width="1.60" height="1.60" rx="0.6"/><rect x="102.7" y="74.6" width="1.60" height="1.60" rx="0.6"/><rect x="101.9" y="84.1" width="1.60" height="1.60" rx="0.6"/><rect x="102.5" y="96.8" width="1.60" height="1.60" rx="0.6"/><rect x="104.3" y="99.3" width="1.60" height="1.60" rx="0.6"/><rect x="103.0" y="75.0" width="1.60" height="1.60" rx="0.6"/><rect x="99.4" y="88.4" width="1.60" height="1.60" rx="0.6"/><rect x="103.2" y="106.2" width="1.60" height="1.60" rx="0.6"/><rect x="106.2" y="104.3" width="1.60" height="1.60" rx="0.6"/><rect x="106.2" y="89.6" width="1.60" height="1.60" rx="0.6"/><rect x="101.2" y="103.3" width="1.60" height="1.60" rx="0.6"/><rect x="100.5" y="98.2" width="1.60" height="1.60" rx="0.6"/><rect x="101.2" y="86.4" width="1.60" height="1.60" rx="0.6"/><rect x="105.7" y="79.8" width="1.60" height="1.60" rx="0.6"/><rect x="99.0" y="83.8" width="1.60" height="1.60" rx="0.6"/><rect x="99.9" y="96.4" width="1.60" height="1.60" rx="0.6"/><rect x="101.0" y="100.3" width="1.60" height="1.60" rx="0.6"/><rect x="105.3" y="95.4" width="1.60" height="1.60" rx="0.6"/><rect x="100.3" y="96.2" width="1.60" height="1.60" rx="0.6"/><rect x="104.9" y="94.9" width="1.60" height="1.60" rx="0.6"/><rect x="104.8" y="82.4" width="1.60" height="1.60" rx="0.6"/><rect x="105.5" y="68.8" width="1.60" height="1.60" rx="0.6"/><rect x="98.5" y="105.6" width="1.60" height="1.60" rx="0.6"/><rect x="104.2" y="98.0" width="1.60" height="1.60" rx="0.6"/><rect x="108.2" y="100.3" width="1.60" height="1.60" rx="0.6"/><rect x="98.5" y="93.1" width="1.60" height="1.60" rx="0.6"/><rect x="114.2" y="92.3" width="1.60" height="1.60" rx="0.6"/><rect x="104.9" y="104.7" width="1.60" height="1.60" rx="0.6"/><rect x="101.7" y="97.3" width="1.60" height="1.60" rx="0.6"/><rect x="101.0" y="97.6" width="1.60" height="1.60" rx="0.6"/><rect x="105.6" y="92.4" width="1.60" height="1.60" rx="0.6"/><rect x="100.6" y="95.9" width="1.60" height="1.60" rx="0.6"/><rect x="100.9" y="102.8" width="1.60" height="1.60" rx="0.6"/><rect x="110.9" y="98.3" width="1.60" height="1.60" rx="0.6"/><rect x="108.3" y="89.9" width="1.60" height="1.60" rx="0.6"/><rect x="101.7" y="73.2" width="1.60" height="1.60" rx="0.6"/><rect x="105.0" y="93.8" width="1.60" height="1.60" rx="0.6"/><rect x="100.6" y="104.4" width="1.60" height="1.60" rx="0.6"/><rect x="104.0" y="97.6" width="1.60" height="1.60" rx="0.6"/><rect x="104.5" y="101.9" width="1.60" height="1.60" rx="0.6"/><rect x="99.9" y="92.8" width="1.60" height="1.60" rx="0.6"/><rect x="101.5" y="105.7" width="1.60" height="1.60" rx="0.6"/><rect x="104.1" y="102.7" width="1.60" height="1.60" rx="0.6"/><rect x="112.9" y="73.5" width="1.60" height="1.60" rx="0.6"/><rect x="105.0" y="104.0" width="1.60" height="1.60" rx="0.6"/><rect x="101.7" y="103.2" width="1.60" height="1.60" rx="0.6"/><rect x="99.8" y="101.2" width="1.60" height="1.60" rx="0.6"/><rect x="105.3" y="88.1" width="1.60" height="1.60" rx="0.6"/><rect x="102.8" y="96.1" width="1.60" height="1.60" rx="0.6"/><rect x="99.6" y="104.6" width="1.60" height="1.60" rx="0.6"/><rect x="104.8" y="92.0" width="1.60" height="1.60" rx="0.6"/><rect x="107.8" y="95.1" width="1.60" height="1.60" rx="0.6"/><rect x="100.2" y="92.2" width="1.60" height="1.60" rx="0.6"/><rect x="99.5" y="81.3" width="1.60" height="1.60" rx="0.6"/><rect x="105.4" y="98.7" width="1.60" height="1.60" rx="0.6"/><rect x="100.9" y="103.2" width="1.60" height="1.60" rx="0.6"/><rect x="108.7" y="91.4" width="1.60" height="1.60" rx="0.6"/><rect x="112.0" y="97.8" width="1.60" height="1.60" rx="0.6"/><rect x="102.0" y="101.8" width="1.60" height="1.60" rx="0.6"/><rect x="103.9" y="103.4" width="1.60" height="1.60" rx="0.6"/><rect x="100.6" y="105.5" width="1.60" height="1.60" rx="0.6"/><rect x="110.4" y="94.9" width="1.60" height="1.60" rx="0.6"/><rect x="102.2" y="100.9" width="1.60" height="1.60" rx="0.6"/><rect x="99.7" y="102.5" width="1.60" height="1.60" rx="0.6"/><rect x="101.8" y="95.9" width="1.60" height="1.60" rx="0.6"/><rect x="108.8" y="94.4" width="1.60" height="1.60" rx="0.6"/><rect x="100.6" y="91.3" width="1.60" height="1.60" rx="0.6"/><rect x="112.4" y="92.6" width="1.60" height="1.60" rx="0.6"/><rect x="109.4" y="102.0" width="1.60" height="1.60" rx="0.6"/><rect x="109.0" y="101.9" width="1.60" height="1.60" rx="0.6"/><rect x="106.9" y="104.1" width="1.60" height="1.60" rx="0.6"/><rect x="104.8" y="98.8" width="1.60" height="1.60" rx="0.6"/><rect x="105.1" y="95.1" width="1.60" height="1.60" rx="0.6"/><rect x="101.7" y="102.1" width="1.60" height="1.60" rx="0.6"/><rect x="100.7" y="105.5" width="1.60" height="1.60" rx="0.6"/><rect x="106.0" y="87.1" width="1.60" height="1.60" rx="0.6"/><rect x="103.0" y="95.2" width="1.60" height="1.60" rx="0.6"/><rect x="105.1" y="97.7" width="1.60" height="1.60" rx="0.6"/><rect x="102.0" y="103.0" width="1.60" height="1.60" rx="0.6"/><rect x="105.8" y="88.0" width="1.60" height="1.60" rx="0.6"/><rect x="104.3" y="99.3" width="1.60" height="1.60" rx="0.6"/><rect x="109.5" y="83.3" width="1.60" height="1.60" rx="0.6"/><rect x="108.3" y="89.0" width="1.60" height="1.60" rx="0.6"/><rect x="105.7" y="95.7" width="1.60" height="1.60" rx="0.6"/><rect x="101.3" y="94.0" width="1.60" height="1.60" rx="0.6"/><rect x="101.1" y="94.0" width="1.60" height="1.60" rx="0.6"/><rect x="103.0" y="105.5" width="1.60" height="1.60" rx="0.6"/><rect x="102.3" y="97.0" width="1.60" height="1.60" rx="0.6"/><rect x="101.1" y="103.8" width="1.60" height="1.60" rx="0.6"/><rect x="103.7" y="103.7" width="1.60" height="1.60" rx="0.6"/><rect x="107.8" y="69.4" width="1.60" height="1.60" rx="0.6"/><rect x="104.7" y="90.0" width="1.60" height="1.60" rx="0.6"/><rect x="105.8" y="105.5" width="1.60" height="1.60" rx="0.6"/><rect x="107.4" y="88.0" width="1.60" height="1.60" rx="0.6"/><rect x="98.7" y="96.3" width="1.60" height="1.60" rx="0.6"/><rect x="99.0" y="104.7" width="1.60" height="1.60" rx="0.6"/><rect x="98.8" y="100.3" width="1.60" height="1.60" rx="0.6"/><rect x="101.0" y="98.1" width="1.60" height="1.60" rx="0.6"/><rect x="99.2" y="88.6" width="1.60" height="1.60" rx="0.6"/><rect x="100.4" y="105.0" width="1.60" height="1.60" rx="0.6"/><rect x="100.1" y="102.0" width="1.60" height="1.60" rx="0.6"/><rect x="108.8" y="102.2" width="1.60" height="1.60" rx="0.6"/><rect x="103.2" y="90.4" width="1.60" height="1.60" rx="0.6"/><rect x="100.6" y="103.9" width="1.60" height="1.60" rx="0.6"/><rect x="105.7" y="98.5" width="1.60" height="1.60" rx="0.6"/><rect x="98.7" y="99.2" width="1.60" height="1.60" rx="0.6"/><rect x="100.2" y="100.7" width="1.60" height="1.60" rx="0.6"/><rect x="108.2" y="93.3" width="1.60" height="1.60" rx="0.6"/><rect x="102.5" y="97.4" width="1.60" height="1.60" rx="0.6"/><rect x="105.7" y="97.3" width="1.60" height="1.60" rx="0.6"/><rect x="103.7" y="103.6" width="1.60" height="1.60" rx="0.6"/><rect x="115.1" y="89.9" width="1.60" height="1.60" rx="0.6"/><rect x="116.7" y="73.7" width="1.60" height="1.60" rx="0.6"/><rect x="103.9" y="94.7" width="1.60" height="1.60" rx="0.6"/><rect x="104.5" y="93.9" width="1.60" height="1.60" rx="0.6"/><rect x="105.0" y="104.1" width="1.60" height="1.60" rx="0.6"/><rect x="100.3" y="101.0" width="1.60" height="1.60" rx="0.6"/><rect x="99.4" y="92.9" width="1.60" height="1.60" rx="0.6"/><rect x="103.2" y="98.9" width="1.60" height="1.60" rx="0.6"/><rect x="103.0" y="94.0" width="1.60" height="1.60" rx="0.6"/><rect x="100.3" y="104.0" width="1.60" height="1.60" rx="0.6"/><rect x="99.3" y="94.1" width="1.60" height="1.60" rx="0.6"/><rect x="108.0" y="70.1" width="1.60" height="1.60" rx="0.6"/><rect x="98.9" y="103.9" width="1.60" height="1.60" rx="0.6"/><rect x="101.1" y="106.1" width="1.60" height="1.60" rx="0.6"/><rect x="106.3" y="96.3" width="1.60" height="1.60" rx="0.6"/><rect x="107.5" y="103.1" width="1.60" height="1.60" rx="0.6"/><rect x="101.2" y="96.2" width="1.60" height="1.60" rx="0.6"/><rect x="99.2" y="104.3" width="1.60" height="1.60" rx="0.6"/><rect x="100.5" y="101.8" width="1.60" height="1.60" rx="0.6"/><rect x="109.3" y="100.1" width="1.60" height="1.60" rx="0.6"/><rect x="106.4" y="105.1" width="1.60" height="1.60" rx="0.6"/><rect x="101.8" y="91.2" width="1.60" height="1.60" rx="0.6"/><rect x="101.1" y="99.8" width="1.60" height="1.60" rx="0.6"/><rect x="114.9" y="90.4" width="1.60" height="1.60" rx="0.6"/><rect x="99.4" y="99.7" width="1.60" height="1.60" rx="0.6"/><rect x="100.1" y="105.0" width="1.60" height="1.60" rx="0.6"/><rect x="101.9" y="97.9" width="1.60" height="1.60" rx="0.6"/><rect x="103.5" y="103.3" width="1.60" height="1.60" rx="0.6"/><rect x="98.7" y="106.0" width="1.60" height="1.60" rx="0.6"/><rect x="108.3" y="77.1" width="1.60" height="1.60" rx="0.6"/><rect x="104.8" y="66.8" width="1.60" height="1.60" rx="0.6"/><rect x="109.6" y="101.4" width="1.60" height="1.60" rx="0.6"/><rect x="103.1" y="89.5" width="1.60" height="1.60" rx="0.6"/><rect x="100.6" y="106.1" width="1.60" height="1.60" rx="0.6"/><rect x="101.8" y="103.8" width="1.60" height="1.60" rx="0.6"/><rect x="104.7" y="106.1" width="1.60" height="1.60" rx="0.6"/><rect x="102.1" y="88.5" width="1.60" height="1.60" rx="0.6"/><rect x="118.7" y="96.9" width="1.70" height="1.70" rx="0.6"/><rect x="106.1" y="88.4" width="1.70" height="1.70" rx="0.6"/><rect x="114.4" y="104.7" width="1.70" height="1.70" rx="0.6"/><rect x="110.8" y="93.7" width="1.70" height="1.70" rx="0.6"/><rect x="120.4" y="96.5" width="1.70" height="1.70" rx="0.6"/><rect x="116.2" y="102.0" width="1.70" height="1.70" rx="0.6"/><rect x="109.5" y="88.0" width="1.70" height="1.70" rx="0.6"/><rect x="111.9" y="104.1" width="1.70" height="1.70" rx="0.6"/><rect x="115.4" y="103.6" width="1.70" height="1.70" rx="0.6"/><rect x="108.7" y="97.0" width="1.70" height="1.70" rx="0.6"/><rect x="115.3" y="93.4" width="1.70" height="1.70" rx="0.6"/><rect x="117.4" y="97.4" width="1.70" height="1.70" rx="0.6"/><rect x="106.5" y="91.7" width="1.70" height="1.70" rx="0.6"/><rect x="106.3" y="96.7" width="1.70" height="1.70" rx="0.6"/><rect x="112.2" y="92.7" width="1.70" height="1.70" rx="0.6"/><rect x="117.5" y="101.4" width="1.70" height="1.70" rx="0.6"/><rect x="116.4" y="92.3" width="1.70" height="1.70" rx="0.6"/><rect x="113.4" y="103.3" width="1.70" height="1.70" rx="0.6"/><rect x="120.8" y="94.2" width="1.70" height="1.70" rx="0.6"/><rect x="106.4" y="101.4" width="1.70" height="1.70" rx="0.6"/><rect x="122.1" y="101.6" width="1.70" height="1.70" rx="0.6"/><rect x="112.0" y="90.4" width="1.70" height="1.70" rx="0.6"/><rect x="119.4" y="93.5" width="1.70" height="1.70" rx="0.6"/><rect x="118.0" y="105.4" width="1.70" height="1.70" rx="0.6"/><rect x="106.9" y="86.6" width="1.70" height="1.70" rx="0.6"/><rect x="119.0" y="105.4" width="1.70" height="1.70" rx="0.6"/><rect x="106.2" y="101.3" width="1.70" height="1.70" rx="0.6"/><rect x="121.2" y="101.8" width="1.70" height="1.70" rx="0.6"/><rect x="116.8" y="87.5" width="1.70" height="1.70" rx="0.6"/><rect x="116.2" y="87.8" width="1.70" height="1.70" rx="0.6"/><rect x="109.8" y="103.1" width="1.70" height="1.70" rx="0.6"/><rect x="105.7" y="91.0" width="1.70" height="1.70" rx="0.6"/><rect x="107.1" y="86.7" width="1.70" height="1.70" rx="0.6"/><rect x="117.4" y="102.4" width="1.70" height="1.70" rx="0.6"/><rect x="135.2" y="90.8" width="1.80" height="1.80" rx="0.6"/><rect x="128.3" y="93.1" width="1.80" height="1.80" rx="0.6"/><rect x="124.3" y="91.4" width="1.80" height="1.80" rx="0.6"/><rect x="123.7" y="96.0" width="1.80" height="1.80" rx="0.6"/><rect x="119.7" y="93.7" width="1.80" height="1.80" rx="0.6"/><rect x="120.8" y="97.2" width="1.80" height="1.80" rx="0.6"/><rect x="122.5" y="99.5" width="1.80" height="1.80" rx="0.6"/><rect x="119.7" y="98.9" width="1.80" height="1.80" rx="0.6"/><rect x="119.7" y="102.7" width="1.80" height="1.80" rx="0.6"/><rect x="115.1" y="98.3" width="1.80" height="1.80" rx="0.6"/><rect x="117.9" y="89.1" width="1.80" height="1.80" rx="0.6"/><rect x="122.0" y="85.1" width="1.80" height="1.80" rx="0.6"/><rect x="118.5" y="78.7" width="1.80" height="1.80" rx="0.6"/><rect x="126.6" y="78.9" width="1.80" height="1.80" rx="0.6"/><rect x="135.6" y="77.0" width="1.80" height="1.80" rx="0.6"/><rect x="116.8" y="73.9" width="1.80" height="1.80" rx="0.6"/><rect x="120.8" y="69.7" width="1.80" height="1.80" rx="0.6"/><rect x="109.9" y="72.9" width="1.80" height="1.80" rx="0.6"/><rect x="101.2" y="73.5" width="1.80" height="1.80" rx="0.6"/><rect x="103.5" y="72.9" width="1.80" height="1.80" rx="0.6"/><rect x="99.5" y="71.2" width="1.80" height="1.80" rx="0.6"/><rect x="107.6" y="76.4" width="1.80" height="1.80" rx="0.6"/><rect x="108.7" y="77.6" width="1.80" height="1.80" rx="0.6"/><rect x="101.8" y="79.9" width="1.80" height="1.80" rx="0.6"/><rect x="104.7" y="78.1" width="1.80" height="1.80" rx="0.6"/><rect x="111.6" y="79.9" width="1.80" height="1.80" rx="0.6"/><rect x="100.1" y="82.7" width="1.80" height="1.80" rx="0.6"/><rect x="102.9" y="83.9" width="1.80" height="1.80" rx="0.6"/><rect x="106.4" y="83.9" width="1.80" height="1.80" rx="0.6"/><rect x="109.3" y="85.6" width="1.80" height="1.80" rx="0.6"/><rect x="112.2" y="86.2" width="1.80" height="1.80" rx="0.6"/><rect x="115.6" y="83.9" width="1.80" height="1.80" rx="0.6"/><rect x="115.1" y="87.9" width="1.80" height="1.80" rx="0.6"/><rect x="100.6" y="86.8" width="1.80" height="1.80" rx="0.6"/><rect x="104.1" y="87.4" width="1.80" height="1.80" rx="0.6"/><rect x="107.6" y="88.5" width="1.80" height="1.80" rx="0.6"/><rect x="111.0" y="90.2" width="1.80" height="1.80" rx="0.6"/><rect x="105.2" y="90.2" width="1.80" height="1.80" rx="0.6"/><rect x="113.9" y="90.8" width="1.80" height="1.80" rx="0.6"/><rect x="116.2" y="92.5" width="1.80" height="1.80" rx="0.6"/><rect x="102.9" y="91.4" width="1.80" height="1.80" rx="0.6"/><rect x="108.1" y="93.1" width="1.80" height="1.80" rx="0.6"/><rect x="111.6" y="93.7" width="1.80" height="1.80" rx="0.6"/><rect x="113.3" y="94.3" width="1.80" height="1.80" rx="0.6"/><rect x="100.1" y="60.3" width="1.80" height="1.80" rx="0.6"/><rect x="102.4" y="64.3" width="1.80" height="1.80" rx="0.6"/><rect x="103.5" y="63.7" width="1.80" height="1.80" rx="0.6"/><rect x="111.6" y="61.4" width="1.80" height="1.80" rx="0.6"/><rect x="117.4" y="62.6" width="1.80" height="1.80" rx="0.6"/><rect x="121.4" y="61.2" width="1.80" height="1.80" rx="0.6"/><rect x="113.6" y="29.2" width="1.90" height="1.90" rx="0.6"/><rect x="111.9" y="40.0" width="1.90" height="1.90" rx="0.6"/><rect x="101.2" y="43.4" width="1.90" height="1.90" rx="0.6"/><rect x="113.0" y="50.0" width="1.90" height="1.90" rx="0.6"/><rect x="106.0" y="54.0" width="1.90" height="1.90" rx="0.6"/><rect x="99.4" y="60.0" width="1.90" height="1.90" rx="0.6"/><rect x="101.2" y="65.0" width="1.90" height="1.90" rx="0.6"/><rect x="102.7" y="64.2" width="1.90" height="1.90" rx="0.6"/><rect x="111.5" y="61.5" width="1.90" height="1.90" rx="0.6"/><rect x="117.3" y="62.7" width="1.90" height="1.90" rx="0.6"/><rect x="121.3" y="61.2" width="1.90" height="1.90" rx="0.6"/><rect x="126.0" y="62.1" width="1.90" height="1.90" rx="0.6"/><rect x="99.4" y="71.1" width="1.90" height="1.90" rx="0.6"/><rect x="102.3" y="73.1" width="1.90" height="1.90" rx="0.6"/><rect x="103.5" y="74.2" width="1.90" height="1.90" rx="0.6"/><rect x="107.5" y="73.6" width="1.90" height="1.90" rx="0.6"/><rect x="120.8" y="69.6" width="1.90" height="1.90" rx="0.6"/><rect x="116.7" y="73.6" width="1.90" height="1.90" rx="0.6"/><rect x="131.1" y="65.6" width="1.90" height="1.90" rx="0.6"/></g>
<circle cx="128.6" cy="48.5" r="1.85" fill="#f8a02e" stroke="#3a4a48" stroke-width="0.45"/><circle cx="132.4" cy="75.3" r="1.85" fill="#f8a02e" stroke="#3a4a48" stroke-width="0.45"/><circle cx="132.4" cy="66.4" r="1.85" fill="#f8a02e" stroke="#3a4a48" stroke-width="0.45"/><circle cx="122.0" cy="55.6" r="1.85" fill="#e57cc4" stroke="#3a4a48" stroke-width="0.45"/><circle cx="129.7" cy="58.5" r="1.85" fill="#e57cc4" stroke="#3a4a48" stroke-width="0.45"/><circle cx="137.8" cy="56.0" r="1.85" fill="#e57cc4" stroke="#3a4a48" stroke-width="0.45"/><circle cx="134.3" cy="56.2" r="1.85" fill="#e57cc4" stroke="#3a4a48" stroke-width="0.45"/><circle cx="131.0" cy="62.8" r="1.85" fill="#e57cc4" stroke="#3a4a48" stroke-width="0.45"/><circle cx="126.8" cy="65.9" r="1.85" fill="#e57cc4" stroke="#3a4a48" stroke-width="0.45"/><circle cx="116.6" cy="67.2" r="1.85" fill="#e57cc4" stroke="#3a4a48" stroke-width="0.45"/><circle cx="120.5" cy="68.6" r="1.85" fill="#e57cc4" stroke="#3a4a48" stroke-width="0.45"/><circle cx="118.3" cy="66.8" r="1.85" fill="#e57cc4" stroke="#3a4a48" stroke-width="0.45"/><circle cx="127.8" cy="71.6" r="1.85" fill="#e57cc4" stroke="#3a4a48" stroke-width="0.45"/><circle cx="134.9" cy="71.1" r="1.85" fill="#e57cc4" stroke="#3a4a48" stroke-width="0.45"/><circle cx="108.9" cy="72.4" r="1.85" fill="#e57cc4" stroke="#3a4a48" stroke-width="0.45"/><circle cx="104.1" cy="79.7" r="1.85" fill="#e57cc4" stroke="#3a4a48" stroke-width="0.45"/><circle cx="113.7" cy="82.2" r="1.85" fill="#e57cc4" stroke="#3a4a48" stroke-width="0.45"/><circle cx="104.1" cy="98.0" r="1.85" fill="#e57cc4" stroke="#3a4a48" stroke-width="0.45"/><circle cx="147.2" cy="34.2" r="1.85" fill="#4fb8a4" stroke="#3a4a48" stroke-width="0.45"/><circle cx="151.9" cy="48.9" r="1.85" fill="#4fb8a4" stroke="#3a4a48" stroke-width="0.45"/><circle cx="119.1" cy="48.9" r="1.85" fill="#4fb8a4" stroke="#3a4a48" stroke-width="0.45"/><circle cx="120.8" cy="53.1" r="1.85" fill="#4fb8a4" stroke="#3a4a48" stroke-width="0.45"/><circle cx="128.4" cy="56.4" r="1.85" fill="#4fb8a4" stroke="#3a4a48" stroke-width="0.45"/><circle cx="134.2" cy="57.0" r="1.85" fill="#4fb8a4" stroke="#3a4a48" stroke-width="0.45"/><circle cx="141.7" cy="55.8" r="1.85" fill="#4fb8a4" stroke="#3a4a48" stroke-width="0.45"/><circle cx="133.0" cy="64.1" r="1.85" fill="#4fb8a4" stroke="#3a4a48" stroke-width="0.45"/><circle cx="130.4" cy="67.6" r="1.85" fill="#4fb8a4" stroke="#3a4a48" stroke-width="0.45"/><circle cx="113.7" cy="70.4" r="1.85" fill="#4fb8a4" stroke="#3a4a48" stroke-width="0.45"/><circle cx="100.6" cy="92.8" r="1.85" fill="#4fb8a4" stroke="#3a4a48" stroke-width="0.45"/><circle cx="93.9" cy="103.1" r="1.85" fill="#4fb8a4" stroke="#3a4a48" stroke-width="0.45"/><circle cx="93.0" cy="126.4" r="1.85" fill="#4fb8a4" stroke="#3a4a48" stroke-width="0.45"/><circle cx="92.7" cy="131.1" r="1.85" fill="#4fb8a4" stroke="#3a4a48" stroke-width="0.45"/><circle cx="40.8" cy="93.6" r="1.85" fill="#1d9bbf" stroke="#3a4a48" stroke-width="0.45"/>
<path d="M36.2,27.3 V147.1 H160" fill="none" stroke="#000" stroke-width="1.15"/>
<path d="M33.1,130.9 H36" stroke="#111" stroke-width="0.8"/>
<text x="30.2" y="133.7" font-size="7.7" text-anchor="end">0.0</text>
<path d="M33.1,106.4 H36" stroke="#111" stroke-width="0.8"/>
<text x="30.2" y="109.1" font-size="7.7" text-anchor="end">0.2</text>
<path d="M33.1,81.8 H36" stroke="#111" stroke-width="0.8"/>
<text x="30.2" y="84.6" font-size="7.7" text-anchor="end">0.4</text>
<path d="M33.1,57.3 H36" stroke="#111" stroke-width="0.8"/>
<text x="30.2" y="60.0" font-size="7.7" text-anchor="end">0.6</text>
<path d="M33.1,32.7 H36" stroke="#111" stroke-width="0.8"/>
<text x="30.2" y="35.5" font-size="7.7" text-anchor="end">0.8</text>
<path d="M37.4,147.5 V149.3" stroke="#111" stroke-width="0.8"/>
<text x="36.2" y="159" font-size="7.7" text-anchor="middle">−4</text>
<path d="M65.1,147.5 V149.3" stroke="#111" stroke-width="0.8"/>
<text x="63.9" y="159" font-size="7.7" text-anchor="middle">−2</text>
<path d="M92.9,147.5 V149.3" stroke="#111" stroke-width="0.8"/>
<text x="92.9" y="159" font-size="7.7" text-anchor="middle">0</text>
<path d="M120.7,147.5 V149.3" stroke="#111" stroke-width="0.8"/>
<text x="120.7" y="159" font-size="7.7" text-anchor="middle">2</text>
<path d="M148.4,147.5 V149.3" stroke="#111" stroke-width="0.8"/>
<text x="148.4" y="159" font-size="7.7" text-anchor="middle">4</text>
<text x="98" y="171.8" font-size="9.4" stroke="#111" stroke-width="0.25" text-anchor="middle" textLength="14.4" lengthAdjust="spacingAndGlyphs">L2FC</text>
<text transform="translate(15.2,87.7) rotate(-90)" font-size="9.4" stroke="#111" stroke-width="0.12" text-anchor="middle" textLength="12.6" lengthAdjust="spacingAndGlyphs">MCC</text>
<text x="127.8" y="46.4" font-size="6.4" stroke-width="0.18" textLength="15.4" lengthAdjust="spacingAndGlyphs">PBX3</text>
<text x="154.8" y="50.8" font-size="6.4" stroke-width="0.18" textLength="21.0" lengthAdjust="spacingAndGlyphs">HOXB3</text>
<text x="121.8" y="53.7" font-size="6.4" stroke-width="0.18" textLength="20.8" lengthAdjust="spacingAndGlyphs">HOXB8</text>
<text x="144.2" y="58.3" font-size="6.4" stroke-width="0.18" textLength="21.0" lengthAdjust="spacingAndGlyphs">HOXB6</text>
<text x="135.5" y="64.7" font-size="6.4" stroke-width="0.18" textLength="21.0" lengthAdjust="spacingAndGlyphs">NKX2-3</text>
<text x="135.5" y="70.5" font-size="6.4" stroke-width="0.18" textLength="19.6" lengthAdjust="spacingAndGlyphs">HOXA9</text>
<text x="134.9" y="77.2" font-size="6.4" stroke-width="0.18" textLength="17.9" lengthAdjust="spacingAndGlyphs">MEIS1</text>
<text x="41.4" y="93.6" font-size="6.4" stroke-width="0.18" textLength="14.5" lengthAdjust="spacingAndGlyphs">CD34</text>
<text x="7.3" y="15" font-size="10.8" font-weight="bold">A</text>
</g>
<g id="C">
<g fill="#4f4f4f"><circle cx="297.6" cy="58.0" r="1.85"/><circle cx="341.2" cy="59.4" r="1.85"/><circle cx="233.0" cy="65.7" r="1.85"/><circle cx="264.2" cy="74.5" r="1.85"/><circle cx="255.9" cy="90.1" r="1.85"/><circle cx="301.6" cy="63.6" r="1.85"/><circle cx="306.6" cy="62.7" r="1.85"/><circle cx="298.4" cy="65.0" r="1.85"/><circle cx="297.6" cy="67.9" r="1.85"/><circle cx="294.7" cy="68.6" r="1.85"/><circle cx="289.9" cy="70.5" r="1.85"/><circle cx="287.1" cy="67.1" r="1.85"/><circle cx="285.7" cy="70.6" r="1.85"/><circle cx="285.4" cy="70.7" r="1.85"/><circle cx="282.1" cy="72.0" r="1.85"/><circle cx="268.9" cy="67.9" r="1.85"/><circle cx="295.3" cy="71.9" r="1.85"/><circle cx="298.5" cy="74.1" r="1.85"/><circle cx="282.0" cy="79.8" r="1.85"/><circle cx="282.7" cy="81.4" r="1.85"/><circle cx="285.9" cy="78.0" r="1.85"/><circle cx="289.2" cy="83.0" r="1.85"/><circle cx="286.5" cy="84.8" r="1.85"/><circle cx="273.5" cy="77.9" r="1.85"/><circle cx="272.3" cy="82.5" r="1.85"/><circle cx="262.5" cy="76.0" r="1.85"/><circle cx="274.6" cy="85.9" r="1.85"/><circle cx="262.2" cy="92.4" r="1.85"/><circle cx="267.6" cy="94.1" r="1.85"/><circle cx="275.1" cy="93.2" r="1.85"/><circle cx="280.3" cy="94.5" r="1.85"/><circle cx="282.9" cy="93.4" r="1.85"/><circle cx="284.8" cy="96.7" r="1.85"/><circle cx="296.0" cy="93.0" r="1.85"/><circle cx="300.2" cy="85.5" r="1.85"/><circle cx="300.3" cy="89.0" r="1.85"/><circle cx="302.9" cy="88.1" r="1.85"/><circle cx="309.7" cy="92.8" r="1.85"/><circle cx="295.4" cy="101.9" r="1.85"/><circle cx="298.9" cy="102.9" r="1.85"/><circle cx="312.2" cy="59.1" r="1.85"/><circle cx="322.5" cy="68.3" r="1.85"/><circle cx="326.1" cy="61.9" r="1.85"/><circle cx="326.8" cy="66.1" r="1.85"/><circle cx="322.8" cy="72.4" r="1.85"/><circle cx="335.6" cy="78.3" r="1.85"/><circle cx="343.8" cy="78.1" r="1.85"/><circle cx="310.3" cy="85.8" r="1.85"/><circle cx="311.2" cy="91.1" r="1.85"/><circle cx="342.3" cy="86.9" r="1.85"/><circle cx="338.8" cy="96.1" r="1.85"/><circle cx="333.9" cy="97.4" r="1.85"/><circle cx="336.7" cy="99.3" r="1.85"/><circle cx="267.3" cy="117.3" r="1.85"/><circle cx="275.0" cy="120.0" r="1.85"/><circle cx="269.0" cy="122.2" r="1.85"/><circle cx="269.1" cy="123.7" r="1.85"/><circle cx="265.3" cy="137.2" r="1.85"/><circle cx="248.5" cy="140.0" r="1.85"/><circle cx="249.9" cy="139.9" r="1.85"/><circle cx="256.1" cy="147.3" r="1.85"/><circle cx="297.8" cy="103.1" r="1.85"/><circle cx="301.4" cy="102.2" r="1.85"/><circle cx="295.9" cy="111.5" r="1.85"/><circle cx="298.8" cy="113.1" r="1.85"/><circle cx="288.8" cy="141.0" r="1.85"/><circle cx="312.6" cy="146.7" r="1.85"/><circle cx="292.4" cy="148.0" r="1.85"/><circle cx="299.8" cy="147.4" r="1.85"/><circle cx="304.4" cy="148.2" r="1.85"/><circle cx="309.0" cy="54.4" r="1.85"/><circle cx="307.9" cy="58.4" r="1.85"/><circle cx="298.1" cy="59.0" r="1.85"/><circle cx="315.4" cy="56.1" r="1.85"/><circle cx="303.3" cy="60.7" r="1.85"/><circle cx="313.1" cy="60.2" r="1.85"/><circle cx="315.2" cy="55.9" r="1.85"/><circle cx="308.9" cy="55.6" r="1.85"/><circle cx="326.5" cy="57.9" r="1.85"/><circle cx="313.2" cy="60.2" r="1.85"/><circle cx="341.4" cy="57.3" r="1.85"/><circle cx="224.1" cy="56.7" r="1.85"/><circle cx="227.0" cy="57.3" r="1.85"/><circle cx="229.9" cy="57.3" r="1.85"/><circle cx="233.3" cy="57.9" r="1.85"/><circle cx="236.2" cy="60.8" r="1.85"/><circle cx="225.3" cy="59.6" r="1.85"/><circle cx="228.1" cy="60.2" r="1.85"/><circle cx="231.6" cy="61.3" r="1.85"/><circle cx="234.5" cy="63.1" r="1.85"/><circle cx="221.2" cy="60.2" r="1.85"/><circle cx="220.1" cy="61.9" r="1.85"/><circle cx="218.9" cy="63.7" r="1.85"/><circle cx="217.8" cy="65.1" r="1.85"/><circle cx="226.4" cy="64.8" r="1.85"/><circle cx="224.7" cy="66.3" r="1.85"/><circle cx="223.5" cy="67.7" r="1.85"/><circle cx="231.6" cy="64.2" r="1.85"/><circle cx="233.9" cy="66.0" r="1.85"/><circle cx="231.0" cy="67.7" r="1.85"/><circle cx="235.9" cy="69.8" r="1.85"/><circle cx="220.1" cy="70.0" r="1.85"/><circle cx="221.8" cy="70.3" r="1.85"/><circle cx="225.3" cy="71.1" r="1.85"/><circle cx="227.6" cy="70.3" r="1.85"/><circle cx="225.3" cy="72.3" r="1.85"/><circle cx="248.9" cy="76.7" r="1.85"/><circle cx="252.4" cy="75.8" r="1.85"/><circle cx="254.7" cy="72.3" r="1.85"/><circle cx="256.4" cy="74.0" r="1.85"/><circle cx="253.5" cy="78.1" r="1.85"/><circle cx="253.5" cy="82.1" r="1.85"/><circle cx="258.1" cy="72.3" r="1.85"/><circle cx="259.9" cy="73.5" r="1.85"/><circle cx="261.0" cy="75.2" r="1.85"/><circle cx="263.3" cy="71.1" r="1.85"/><circle cx="262.7" cy="76.9" r="1.85"/><circle cx="263.9" cy="78.6" r="1.85"/><circle cx="259.3" cy="81.5" r="1.85"/><circle cx="266.8" cy="81.0" r="1.85"/><circle cx="255.8" cy="86.1" r="1.85"/><circle cx="255.6" cy="91.7" r="1.85"/><circle cx="262.7" cy="88.4" r="1.85"/><circle cx="265.1" cy="87.3" r="1.85"/><circle cx="265.6" cy="89.6" r="1.85"/><circle cx="263.3" cy="90.8" r="1.85"/><circle cx="261.0" cy="93.1" r="1.85"/><circle cx="298.1" cy="59.0" r="1.85"/><circle cx="300.9" cy="62.5" r="1.85"/><circle cx="303.8" cy="61.3" r="1.85"/><circle cx="307.3" cy="64.2" r="1.85"/><circle cx="299.2" cy="64.8" r="1.85"/><circle cx="296.9" cy="67.1" r="1.85"/><circle cx="294.6" cy="68.3" r="1.85"/><circle cx="291.1" cy="69.4" r="1.85"/><circle cx="281.3" cy="67.1" r="1.85"/><circle cx="287.1" cy="67.1" r="1.85"/><circle cx="286.0" cy="69.4" r="1.85"/><circle cx="284.8" cy="71.7" r="1.85"/><circle cx="282.5" cy="72.3" r="1.85"/><circle cx="280.8" cy="74.0" r="1.85"/><circle cx="271.5" cy="69.4" r="1.85"/><circle cx="273.8" cy="71.7" r="1.85"/><circle cx="294.6" cy="73.5" r="1.85"/><circle cx="297.5" cy="72.9" r="1.85"/><circle cx="292.9" cy="76.3" r="1.85"/><circle cx="296.3" cy="77.5" r="1.85"/><circle cx="277.9" cy="76.3" r="1.85"/><circle cx="280.2" cy="78.1" r="1.85"/><circle cx="281.9" cy="79.8" r="1.85"/><circle cx="284.2" cy="82.1" r="1.85"/><circle cx="287.7" cy="79.8" r="1.85"/><circle cx="290.0" cy="82.7" r="1.85"/><circle cx="285.4" cy="85.0" r="1.85"/><circle cx="291.7" cy="86.1" r="1.85"/><circle cx="288.8" cy="89.6" r="1.85"/><circle cx="291.1" cy="88.4" r="1.85"/><circle cx="272.1" cy="78.1" r="1.85"/><circle cx="267.5" cy="81.0" r="1.85"/><circle cx="271.0" cy="82.7" r="1.85"/><circle cx="263.5" cy="71.7" r="1.85"/><circle cx="261.2" cy="74.0" r="1.85"/><circle cx="263.5" cy="76.9" r="1.85"/><circle cx="261.2" cy="78.6" r="1.85"/><circle cx="270.4" cy="86.1" r="1.85"/><circle cx="272.7" cy="87.9" r="1.85"/><circle cx="275.6" cy="86.1" r="1.85"/><circle cx="278.5" cy="85.6" r="1.85"/><circle cx="279.6" cy="89.0" r="1.85"/><circle cx="265.2" cy="87.9" r="1.85"/><circle cx="262.3" cy="89.6" r="1.85"/><circle cx="261.2" cy="92.5" r="1.85"/><circle cx="269.2" cy="91.9" r="1.85"/><circle cx="268.7" cy="95.4" r="1.85"/><circle cx="273.3" cy="91.9" r="1.85"/><circle cx="275.0" cy="94.2" r="1.85"/><circle cx="279.0" cy="91.9" r="1.85"/><circle cx="280.8" cy="93.1" r="1.85"/><circle cx="284.2" cy="91.9" r="1.85"/><circle cx="279.6" cy="97.1" r="1.85"/><circle cx="284.8" cy="95.4" r="1.85"/><circle cx="287.7" cy="98.8" r="1.85"/><circle cx="290.6" cy="95.9" r="1.85"/><circle cx="293.4" cy="93.1" r="1.85"/><circle cx="295.8" cy="94.2" r="1.85"/><circle cx="299.2" cy="95.4" r="1.85"/><circle cx="298.1" cy="97.1" r="1.85"/><circle cx="300.9" cy="82.7" r="1.85"/><circle cx="299.2" cy="86.1" r="1.85"/><circle cx="299.8" cy="89.6" r="1.85"/><circle cx="302.7" cy="88.4" r="1.85"/><circle cx="303.8" cy="91.9" r="1.85"/><circle cx="307.9" cy="86.1" r="1.85"/><circle cx="310.2" cy="90.8" r="1.85"/><circle cx="311.9" cy="91.9" r="1.85"/><circle cx="296.9" cy="101.7" r="1.85"/><circle cx="299.2" cy="102.3" r="1.85"/><circle cx="294.6" cy="104.0" r="1.85"/><circle cx="292.9" cy="105.7" r="1.85"/><circle cx="313.2" cy="60.2" r="1.85"/><circle cx="314.9" cy="56.2" r="1.85"/><circle cx="326.5" cy="58.5" r="1.85"/><circle cx="308.0" cy="59.0" r="1.85"/><circle cx="313.2" cy="63.7" r="1.85"/><circle cx="312.0" cy="66.0" r="1.85"/><circle cx="315.5" cy="66.5" r="1.85"/><circle cx="319.0" cy="63.7" r="1.85"/><circle cx="320.1" cy="66.5" r="1.85"/><circle cx="322.4" cy="67.1" r="1.85"/><circle cx="323.6" cy="62.5" r="1.85"/><circle cx="326.5" cy="63.7" r="1.85"/><circle cx="327.0" cy="66.5" r="1.85"/><circle cx="323.6" cy="72.9" r="1.85"/><circle cx="323.0" cy="76.9" r="1.85"/><circle cx="330.5" cy="72.9" r="1.85"/><circle cx="333.4" cy="76.3" r="1.85"/><circle cx="332.8" cy="79.2" r="1.85"/><circle cx="335.7" cy="78.6" r="1.85"/><circle cx="342.0" cy="78.6" r="1.85"/><circle cx="340.3" cy="74.0" r="1.85"/><circle cx="308.6" cy="86.1" r="1.85"/><circle cx="310.3" cy="90.8" r="1.85"/><circle cx="312.0" cy="91.9" r="1.85"/><circle cx="323.0" cy="91.3" r="1.85"/><circle cx="328.2" cy="85.6" r="1.85"/><circle cx="329.9" cy="84.4" r="1.85"/><circle cx="335.1" cy="85.6" r="1.85"/><circle cx="339.1" cy="87.9" r="1.85"/><circle cx="341.4" cy="88.4" r="1.85"/><circle cx="334.5" cy="89.6" r="1.85"/><circle cx="332.8" cy="92.5" r="1.85"/><circle cx="327.0" cy="93.6" r="1.85"/><circle cx="328.2" cy="95.9" r="1.85"/><circle cx="331.1" cy="94.8" r="1.85"/><circle cx="336.3" cy="93.1" r="1.85"/><circle cx="340.3" cy="91.9" r="1.85"/><circle cx="341.4" cy="94.8" r="1.85"/><circle cx="338.0" cy="95.9" r="1.85"/><circle cx="332.8" cy="98.3" r="1.85"/><circle cx="335.7" cy="99.4" r="1.85"/><circle cx="339.1" cy="98.8" r="1.85"/><circle cx="334.5" cy="102.3" r="1.85"/><circle cx="338.0" cy="102.3" r="1.85"/><circle cx="336.3" cy="104.6" r="1.85"/><circle cx="266.9" cy="116.7" r="1.85"/><circle cx="264.0" cy="121.9" r="1.85"/><circle cx="270.4" cy="118.5" r="1.85"/><circle cx="273.3" cy="118.5" r="1.85"/><circle cx="275.0" cy="119.0" r="1.85"/><circle cx="269.2" cy="121.3" r="1.85"/><circle cx="272.1" cy="121.9" r="1.85"/><circle cx="268.1" cy="124.2" r="1.85"/><circle cx="271.5" cy="124.8" r="1.85"/><circle cx="268.6" cy="127.7" r="1.85"/><circle cx="270.9" cy="128.8" r="1.85"/><circle cx="272.1" cy="131.1" r="1.85"/><circle cx="265.2" cy="132.9" r="1.85"/><circle cx="265.8" cy="138.1" r="1.85"/><circle cx="248.7" cy="134.6" r="1.85"/><circle cx="249.6" cy="137.5" r="1.85"/><circle cx="248.5" cy="139.8" r="1.85"/><circle cx="248.2" cy="141.5" r="1.85"/><circle cx="252.5" cy="138.1" r="1.85"/><circle cx="256.0" cy="137.5" r="1.85"/><circle cx="258.8" cy="138.1" r="1.85"/><circle cx="257.7" cy="140.4" r="1.85"/><circle cx="260.6" cy="141.5" r="1.85"/><circle cx="256.5" cy="143.3" r="1.85"/><circle cx="259.4" cy="144.4" r="1.85"/><circle cx="256.0" cy="145.6" r="1.85"/><circle cx="260.0" cy="147.3" r="1.85"/><circle cx="262.3" cy="142.7" r="1.85"/><circle cx="282.8" cy="113.3" r="1.85"/><circle cx="282.8" cy="113.3" r="1.85"/><circle cx="295.9" cy="102.3" r="1.85"/><circle cx="299.9" cy="101.7" r="1.85"/><circle cx="293.0" cy="105.2" r="1.85"/><circle cx="297.6" cy="103.5" r="1.85"/><circle cx="290.1" cy="109.2" r="1.85"/><circle cx="293.6" cy="110.4" r="1.85"/><circle cx="297.0" cy="109.8" r="1.85"/><circle cx="294.7" cy="112.7" r="1.85"/><circle cx="298.8" cy="112.7" r="1.85"/><circle cx="303.1" cy="108.1" r="1.85"/><circle cx="288.8" cy="139.8" r="1.85"/><circle cx="299.1" cy="142.9" r="1.85"/><circle cx="309.4" cy="146.0" r="1.85"/><circle cx="293.6" cy="148.1" r="1.85"/><circle cx="297.1" cy="146.3" r="1.85"/><circle cx="300.0" cy="146.9" r="1.85"/><circle cx="296.0" cy="149.8" r="1.85"/><circle cx="298.8" cy="149.8" r="1.85"/><circle cx="298.3" cy="152.7" r="1.85"/><circle cx="300.6" cy="152.1" r="1.85"/><circle cx="302.9" cy="148.1" r="1.85"/><circle cx="305.2" cy="150.4" r="1.85"/><circle cx="307.5" cy="152.1" r="1.85"/><circle cx="309.8" cy="151.5" r="1.85"/><circle cx="310.9" cy="154.4" r="1.85"/><circle cx="313.3" cy="155.6" r="1.85"/><circle cx="315.6" cy="153.3" r="1.85"/><circle cx="317.9" cy="157.9" r="1.85"/><circle cx="310.9" cy="158.7" r="1.85"/><circle cx="315.0" cy="156.7" r="1.85"/></g><g fill="#ebebeb"><circle cx="297.6" cy="58.0" r="1.42"/><circle cx="341.2" cy="59.4" r="1.42"/><circle cx="233.0" cy="65.7" r="1.42"/><circle cx="264.2" cy="74.5" r="1.42"/><circle cx="255.9" cy="90.1" r="1.42"/><circle cx="301.6" cy="63.6" r="1.42"/><circle cx="306.6" cy="62.7" r="1.42"/><circle cx="298.4" cy="65.0" r="1.42"/><circle cx="297.6" cy="67.9" r="1.42"/><circle cx="294.7" cy="68.6" r="1.42"/><circle cx="289.9" cy="70.5" r="1.42"/><circle cx="287.1" cy="67.1" r="1.42"/><circle cx="285.7" cy="70.6" r="1.42"/><circle cx="285.4" cy="70.7" r="1.42"/><circle cx="282.1" cy="72.0" r="1.42"/><circle cx="268.9" cy="67.9" r="1.42"/><circle cx="295.3" cy="71.9" r="1.42"/><circle cx="298.5" cy="74.1" r="1.42"/><circle cx="282.0" cy="79.8" r="1.42"/><circle cx="282.7" cy="81.4" r="1.42"/><circle cx="285.9" cy="78.0" r="1.42"/><circle cx="289.2" cy="83.0" r="1.42"/><circle cx="286.5" cy="84.8" r="1.42"/><circle cx="273.5" cy="77.9" r="1.42"/><circle cx="272.3" cy="82.5" r="1.42"/><circle cx="262.5" cy="76.0" r="1.42"/><circle cx="274.6" cy="85.9" r="1.42"/><circle cx="262.2" cy="92.4" r="1.42"/><circle cx="267.6" cy="94.1" r="1.42"/><circle cx="275.1" cy="93.2" r="1.42"/><circle cx="280.3" cy="94.5" r="1.42"/><circle cx="282.9" cy="93.4" r="1.42"/><circle cx="284.8" cy="96.7" r="1.42"/><circle cx="296.0" cy="93.0" r="1.42"/><circle cx="300.2" cy="85.5" r="1.42"/><circle cx="300.3" cy="89.0" r="1.42"/><circle cx="302.9" cy="88.1" r="1.42"/><circle cx="309.7" cy="92.8" r="1.42"/><circle cx="295.4" cy="101.9" r="1.42"/><circle cx="298.9" cy="102.9" r="1.42"/><circle cx="312.2" cy="59.1" r="1.42"/><circle cx="322.5" cy="68.3" r="1.42"/><circle cx="326.1" cy="61.9" r="1.42"/><circle cx="326.8" cy="66.1" r="1.42"/><circle cx="322.8" cy="72.4" r="1.42"/><circle cx="335.6" cy="78.3" r="1.42"/><circle cx="343.8" cy="78.1" r="1.42"/><circle cx="310.3" cy="85.8" r="1.42"/><circle cx="311.2" cy="91.1" r="1.42"/><circle cx="342.3" cy="86.9" r="1.42"/><circle cx="338.8" cy="96.1" r="1.42"/><circle cx="333.9" cy="97.4" r="1.42"/><circle cx="336.7" cy="99.3" r="1.42"/><circle cx="267.3" cy="117.3" r="1.42"/><circle cx="275.0" cy="120.0" r="1.42"/><circle cx="269.0" cy="122.2" r="1.42"/><circle cx="269.1" cy="123.7" r="1.42"/><circle cx="265.3" cy="137.2" r="1.42"/><circle cx="248.5" cy="140.0" r="1.42"/><circle cx="249.9" cy="139.9" r="1.42"/><circle cx="256.1" cy="147.3" r="1.42"/><circle cx="297.8" cy="103.1" r="1.42"/><circle cx="301.4" cy="102.2" r="1.42"/><circle cx="295.9" cy="111.5" r="1.42"/><circle cx="298.8" cy="113.1" r="1.42"/><circle cx="288.8" cy="141.0" r="1.42"/><circle cx="312.6" cy="146.7" r="1.42"/><circle cx="292.4" cy="148.0" r="1.42"/><circle cx="299.8" cy="147.4" r="1.42"/><circle cx="304.4" cy="148.2" r="1.42"/><circle cx="309.0" cy="54.4" r="1.42"/><circle cx="307.9" cy="58.4" r="1.42"/><circle cx="298.1" cy="59.0" r="1.42"/><circle cx="315.4" cy="56.1" r="1.42"/><circle cx="303.3" cy="60.7" r="1.42"/><circle cx="313.1" cy="60.2" r="1.42"/><circle cx="315.2" cy="55.9" r="1.42"/><circle cx="308.9" cy="55.6" r="1.42"/><circle cx="326.5" cy="57.9" r="1.42"/><circle cx="313.2" cy="60.2" r="1.42"/><circle cx="341.4" cy="57.3" r="1.42"/><circle cx="224.1" cy="56.7" r="1.42"/><circle cx="227.0" cy="57.3" r="1.42"/><circle cx="229.9" cy="57.3" r="1.42"/><circle cx="233.3" cy="57.9" r="1.42"/><circle cx="236.2" cy="60.8" r="1.42"/><circle cx="225.3" cy="59.6" r="1.42"/><circle cx="228.1" cy="60.2" r="1.42"/><circle cx="231.6" cy="61.3" r="1.42"/><circle cx="234.5" cy="63.1" r="1.42"/><circle cx="221.2" cy="60.2" r="1.42"/><circle cx="220.1" cy="61.9" r="1.42"/><circle cx="218.9" cy="63.7" r="1.42"/><circle cx="217.8" cy="65.1" r="1.42"/><circle cx="226.4" cy="64.8" r="1.42"/><circle cx="224.7" cy="66.3" r="1.42"/><circle cx="223.5" cy="67.7" r="1.42"/><circle cx="231.6" cy="64.2" r="1.42"/><circle cx="233.9" cy="66.0" r="1.42"/><circle cx="231.0" cy="67.7" r="1.42"/><circle cx="235.9" cy="69.8" r="1.42"/><circle cx="220.1" cy="70.0" r="1.42"/><circle cx="221.8" cy="70.3" r="1.42"/><circle cx="225.3" cy="71.1" r="1.42"/><circle cx="227.6" cy="70.3" r="1.42"/><circle cx="225.3" cy="72.3" r="1.42"/><circle cx="248.9" cy="76.7" r="1.42"/><circle cx="252.4" cy="75.8" r="1.42"/><circle cx="254.7" cy="72.3" r="1.42"/><circle cx="256.4" cy="74.0" r="1.42"/><circle cx="253.5" cy="78.1" r="1.42"/><circle cx="253.5" cy="82.1" r="1.42"/><circle cx="258.1" cy="72.3" r="1.42"/><circle cx="259.9" cy="73.5" r="1.42"/><circle cx="261.0" cy="75.2" r="1.42"/><circle cx="263.3" cy="71.1" r="1.42"/><circle cx="262.7" cy="76.9" r="1.42"/><circle cx="263.9" cy="78.6" r="1.42"/><circle cx="259.3" cy="81.5" r="1.42"/><circle cx="266.8" cy="81.0" r="1.42"/><circle cx="255.8" cy="86.1" r="1.42"/><circle cx="255.6" cy="91.7" r="1.42"/><circle cx="262.7" cy="88.4" r="1.42"/><circle cx="265.1" cy="87.3" r="1.42"/><circle cx="265.6" cy="89.6" r="1.42"/><circle cx="263.3" cy="90.8" r="1.42"/><circle cx="261.0" cy="93.1" r="1.42"/><circle cx="298.1" cy="59.0" r="1.42"/><circle cx="300.9" cy="62.5" r="1.42"/><circle cx="303.8" cy="61.3" r="1.42"/><circle cx="307.3" cy="64.2" r="1.42"/><circle cx="299.2" cy="64.8" r="1.42"/><circle cx="296.9" cy="67.1" r="1.42"/><circle cx="294.6" cy="68.3" r="1.42"/><circle cx="291.1" cy="69.4" r="1.42"/><circle cx="281.3" cy="67.1" r="1.42"/><circle cx="287.1" cy="67.1" r="1.42"/><circle cx="286.0" cy="69.4" r="1.42"/><circle cx="284.8" cy="71.7" r="1.42"/><circle cx="282.5" cy="72.3" r="1.42"/><circle cx="280.8" cy="74.0" r="1.42"/><circle cx="271.5" cy="69.4" r="1.42"/><circle cx="273.8" cy="71.7" r="1.42"/><circle cx="294.6" cy="73.5" r="1.42"/><circle cx="297.5" cy="72.9" r="1.42"/><circle cx="292.9" cy="76.3" r="1.42"/><circle cx="296.3" cy="77.5" r="1.42"/><circle cx="277.9" cy="76.3" r="1.42"/><circle cx="280.2" cy="78.1" r="1.42"/><circle cx="281.9" cy="79.8" r="1.42"/><circle cx="284.2" cy="82.1" r="1.42"/><circle cx="287.7" cy="79.8" r="1.42"/><circle cx="290.0" cy="82.7" r="1.42"/><circle cx="285.4" cy="85.0" r="1.42"/><circle cx="291.7" cy="86.1" r="1.42"/><circle cx="288.8" cy="89.6" r="1.42"/><circle cx="291.1" cy="88.4" r="1.42"/><circle cx="272.1" cy="78.1" r="1.42"/><circle cx="267.5" cy="81.0" r="1.42"/><circle cx="271.0" cy="82.7" r="1.42"/><circle cx="263.5" cy="71.7" r="1.42"/><circle cx="261.2" cy="74.0" r="1.42"/><circle cx="263.5" cy="76.9" r="1.42"/><circle cx="261.2" cy="78.6" r="1.42"/><circle cx="270.4" cy="86.1" r="1.42"/><circle cx="272.7" cy="87.9" r="1.42"/><circle cx="275.6" cy="86.1" r="1.42"/><circle cx="278.5" cy="85.6" r="1.42"/><circle cx="279.6" cy="89.0" r="1.42"/><circle cx="265.2" cy="87.9" r="1.42"/><circle cx="262.3" cy="89.6" r="1.42"/><circle cx="261.2" cy="92.5" r="1.42"/><circle cx="269.2" cy="91.9" r="1.42"/><circle cx="268.7" cy="95.4" r="1.42"/><circle cx="273.3" cy="91.9" r="1.42"/><circle cx="275.0" cy="94.2" r="1.42"/><circle cx="279.0" cy="91.9" r="1.42"/><circle cx="280.8" cy="93.1" r="1.42"/><circle cx="284.2" cy="91.9" r="1.42"/><circle cx="279.6" cy="97.1" r="1.42"/><circle cx="284.8" cy="95.4" r="1.42"/><circle cx="287.7" cy="98.8" r="1.42"/><circle cx="290.6" cy="95.9" r="1.42"/><circle cx="293.4" cy="93.1" r="1.42"/><circle cx="295.8" cy="94.2" r="1.42"/><circle cx="299.2" cy="95.4" r="1.42"/><circle cx="298.1" cy="97.1" r="1.42"/><circle cx="300.9" cy="82.7" r="1.42"/><circle cx="299.2" cy="86.1" r="1.42"/><circle cx="299.8" cy="89.6" r="1.42"/><circle cx="302.7" cy="88.4" r="1.42"/><circle cx="303.8" cy="91.9" r="1.42"/><circle cx="307.9" cy="86.1" r="1.42"/><circle cx="310.2" cy="90.8" r="1.42"/><circle cx="311.9" cy="91.9" r="1.42"/><circle cx="296.9" cy="101.7" r="1.42"/><circle cx="299.2" cy="102.3" r="1.42"/><circle cx="294.6" cy="104.0" r="1.42"/><circle cx="292.9" cy="105.7" r="1.42"/><circle cx="313.2" cy="60.2" r="1.42"/><circle cx="314.9" cy="56.2" r="1.42"/><circle cx="326.5" cy="58.5" r="1.42"/><circle cx="308.0" cy="59.0" r="1.42"/><circle cx="313.2" cy="63.7" r="1.42"/><circle cx="312.0" cy="66.0" r="1.42"/><circle cx="315.5" cy="66.5" r="1.42"/><circle cx="319.0" cy="63.7" r="1.42"/><circle cx="320.1" cy="66.5" r="1.42"/><circle cx="322.4" cy="67.1" r="1.42"/><circle cx="323.6" cy="62.5" r="1.42"/><circle cx="326.5" cy="63.7" r="1.42"/><circle cx="327.0" cy="66.5" r="1.42"/><circle cx="323.6" cy="72.9" r="1.42"/><circle cx="323.0" cy="76.9" r="1.42"/><circle cx="330.5" cy="72.9" r="1.42"/><circle cx="333.4" cy="76.3" r="1.42"/><circle cx="332.8" cy="79.2" r="1.42"/><circle cx="335.7" cy="78.6" r="1.42"/><circle cx="342.0" cy="78.6" r="1.42"/><circle cx="340.3" cy="74.0" r="1.42"/><circle cx="308.6" cy="86.1" r="1.42"/><circle cx="310.3" cy="90.8" r="1.42"/><circle cx="312.0" cy="91.9" r="1.42"/><circle cx="323.0" cy="91.3" r="1.42"/><circle cx="328.2" cy="85.6" r="1.42"/><circle cx="329.9" cy="84.4" r="1.42"/><circle cx="335.1" cy="85.6" r="1.42"/><circle cx="339.1" cy="87.9" r="1.42"/><circle cx="341.4" cy="88.4" r="1.42"/><circle cx="334.5" cy="89.6" r="1.42"/><circle cx="332.8" cy="92.5" r="1.42"/><circle cx="327.0" cy="93.6" r="1.42"/><circle cx="328.2" cy="95.9" r="1.42"/><circle cx="331.1" cy="94.8" r="1.42"/><circle cx="336.3" cy="93.1" r="1.42"/><circle cx="340.3" cy="91.9" r="1.42"/><circle cx="341.4" cy="94.8" r="1.42"/><circle cx="338.0" cy="95.9" r="1.42"/><circle cx="332.8" cy="98.3" r="1.42"/><circle cx="335.7" cy="99.4" r="1.42"/><circle cx="339.1" cy="98.8" r="1.42"/><circle cx="334.5" cy="102.3" r="1.42"/><circle cx="338.0" cy="102.3" r="1.42"/><circle cx="336.3" cy="104.6" r="1.42"/><circle cx="266.9" cy="116.7" r="1.42"/><circle cx="264.0" cy="121.9" r="1.42"/><circle cx="270.4" cy="118.5" r="1.42"/><circle cx="273.3" cy="118.5" r="1.42"/><circle cx="275.0" cy="119.0" r="1.42"/><circle cx="269.2" cy="121.3" r="1.42"/><circle cx="272.1" cy="121.9" r="1.42"/><circle cx="268.1" cy="124.2" r="1.42"/><circle cx="271.5" cy="124.8" r="1.42"/><circle cx="268.6" cy="127.7" r="1.42"/><circle cx="270.9" cy="128.8" r="1.42"/><circle cx="272.1" cy="131.1" r="1.42"/><circle cx="265.2" cy="132.9" r="1.42"/><circle cx="265.8" cy="138.1" r="1.42"/><circle cx="248.7" cy="134.6" r="1.42"/><circle cx="249.6" cy="137.5" r="1.42"/><circle cx="248.5" cy="139.8" r="1.42"/><circle cx="248.2" cy="141.5" r="1.42"/><circle cx="252.5" cy="138.1" r="1.42"/><circle cx="256.0" cy="137.5" r="1.42"/><circle cx="258.8" cy="138.1" r="1.42"/><circle cx="257.7" cy="140.4" r="1.42"/><circle cx="260.6" cy="141.5" r="1.42"/><circle cx="256.5" cy="143.3" r="1.42"/><circle cx="259.4" cy="144.4" r="1.42"/><circle cx="256.0" cy="145.6" r="1.42"/><circle cx="260.0" cy="147.3" r="1.42"/><circle cx="262.3" cy="142.7" r="1.42"/><circle cx="282.8" cy="113.3" r="1.42"/><circle cx="282.8" cy="113.3" r="1.42"/><circle cx="295.9" cy="102.3" r="1.42"/><circle cx="299.9" cy="101.7" r="1.42"/><circle cx="293.0" cy="105.2" r="1.42"/><circle cx="297.6" cy="103.5" r="1.42"/><circle cx="290.1" cy="109.2" r="1.42"/><circle cx="293.6" cy="110.4" r="1.42"/><circle cx="297.0" cy="109.8" r="1.42"/><circle cx="294.7" cy="112.7" r="1.42"/><circle cx="298.8" cy="112.7" r="1.42"/><circle cx="303.1" cy="108.1" r="1.42"/><circle cx="288.8" cy="139.8" r="1.42"/><circle cx="299.1" cy="142.9" r="1.42"/><circle cx="309.4" cy="146.0" r="1.42"/><circle cx="293.6" cy="148.1" r="1.42"/><circle cx="297.1" cy="146.3" r="1.42"/><circle cx="300.0" cy="146.9" r="1.42"/><circle cx="296.0" cy="149.8" r="1.42"/><circle cx="298.8" cy="149.8" r="1.42"/><circle cx="298.3" cy="152.7" r="1.42"/><circle cx="300.6" cy="152.1" r="1.42"/><circle cx="302.9" cy="148.1" r="1.42"/><circle cx="305.2" cy="150.4" r="1.42"/><circle cx="307.5" cy="152.1" r="1.42"/><circle cx="309.8" cy="151.5" r="1.42"/><circle cx="310.9" cy="154.4" r="1.42"/><circle cx="313.3" cy="155.6" r="1.42"/><circle cx="315.6" cy="153.3" r="1.42"/><circle cx="317.9" cy="157.9" r="1.42"/><circle cx="310.9" cy="158.7" r="1.42"/><circle cx="315.0" cy="156.7" r="1.42"/></g><g fill="none" stroke="#8a8a8a" stroke-opacity="0.38" stroke-width="0.3"><circle cx="297.6" cy="58.0" r="1.5"/><circle cx="341.2" cy="59.4" r="1.5"/><circle cx="233.0" cy="65.7" r="1.5"/><circle cx="264.2" cy="74.5" r="1.5"/><circle cx="255.9" cy="90.1" r="1.5"/><circle cx="301.6" cy="63.6" r="1.5"/><circle cx="306.6" cy="62.7" r="1.5"/><circle cx="298.4" cy="65.0" r="1.5"/><circle cx="297.6" cy="67.9" r="1.5"/><circle cx="294.7" cy="68.6" r="1.5"/><circle cx="289.9" cy="70.5" r="1.5"/><circle cx="287.1" cy="67.1" r="1.5"/><circle cx="285.7" cy="70.6" r="1.5"/><circle cx="285.4" cy="70.7" r="1.5"/><circle cx="282.1" cy="72.0" r="1.5"/><circle cx="268.9" cy="67.9" r="1.5"/><circle cx="295.3" cy="71.9" r="1.5"/><circle cx="298.5" cy="74.1" r="1.5"/><circle cx="282.0" cy="79.8" r="1.5"/><circle cx="282.7" cy="81.4" r="1.5"/><circle cx="285.9" cy="78.0" r="1.5"/><circle cx="289.2" cy="83.0" r="1.5"/><circle cx="286.5" cy="84.8" r="1.5"/><circle cx="273.5" cy="77.9" r="1.5"/><circle cx="272.3" cy="82.5" r="1.5"/><circle cx="262.5" cy="76.0" r="1.5"/><circle cx="274.6" cy="85.9" r="1.5"/><circle cx="262.2" cy="92.4" r="1.5"/><circle cx="267.6" cy="94.1" r="1.5"/><circle cx="275.1" cy="93.2" r="1.5"/><circle cx="280.3" cy="94.5" r="1.5"/><circle cx="282.9" cy="93.4" r="1.5"/><circle cx="284.8" cy="96.7" r="1.5"/><circle cx="296.0" cy="93.0" r="1.5"/><circle cx="300.2" cy="85.5" r="1.5"/><circle cx="300.3" cy="89.0" r="1.5"/><circle cx="302.9" cy="88.1" r="1.5"/><circle cx="309.7" cy="92.8" r="1.5"/><circle cx="295.4" cy="101.9" r="1.5"/><circle cx="298.9" cy="102.9" r="1.5"/><circle cx="312.2" cy="59.1" r="1.5"/><circle cx="322.5" cy="68.3" r="1.5"/><circle cx="326.1" cy="61.9" r="1.5"/><circle cx="326.8" cy="66.1" r="1.5"/><circle cx="322.8" cy="72.4" r="1.5"/><circle cx="335.6" cy="78.3" r="1.5"/><circle cx="343.8" cy="78.1" r="1.5"/><circle cx="310.3" cy="85.8" r="1.5"/><circle cx="311.2" cy="91.1" r="1.5"/><circle cx="342.3" cy="86.9" r="1.5"/><circle cx="338.8" cy="96.1" r="1.5"/><circle cx="333.9" cy="97.4" r="1.5"/><circle cx="336.7" cy="99.3" r="1.5"/><circle cx="267.3" cy="117.3" r="1.5"/><circle cx="275.0" cy="120.0" r="1.5"/><circle cx="269.0" cy="122.2" r="1.5"/><circle cx="269.1" cy="123.7" r="1.5"/><circle cx="265.3" cy="137.2" r="1.5"/><circle cx="248.5" cy="140.0" r="1.5"/><circle cx="249.9" cy="139.9" r="1.5"/><circle cx="256.1" cy="147.3" r="1.5"/><circle cx="297.8" cy="103.1" r="1.5"/><circle cx="301.4" cy="102.2" r="1.5"/><circle cx="295.9" cy="111.5" r="1.5"/><circle cx="298.8" cy="113.1" r="1.5"/><circle cx="288.8" cy="141.0" r="1.5"/><circle cx="312.6" cy="146.7" r="1.5"/><circle cx="292.4" cy="148.0" r="1.5"/><circle cx="299.8" cy="147.4" r="1.5"/><circle cx="304.4" cy="148.2" r="1.5"/><circle cx="309.0" cy="54.4" r="1.5"/><circle cx="307.9" cy="58.4" r="1.5"/><circle cx="298.1" cy="59.0" r="1.5"/><circle cx="315.4" cy="56.1" r="1.5"/><circle cx="303.3" cy="60.7" r="1.5"/><circle cx="313.1" cy="60.2" r="1.5"/><circle cx="315.2" cy="55.9" r="1.5"/><circle cx="308.9" cy="55.6" r="1.5"/><circle cx="326.5" cy="57.9" r="1.5"/><circle cx="313.2" cy="60.2" r="1.5"/><circle cx="341.4" cy="57.3" r="1.5"/><circle cx="224.1" cy="56.7" r="1.5"/><circle cx="227.0" cy="57.3" r="1.5"/><circle cx="229.9" cy="57.3" r="1.5"/><circle cx="233.3" cy="57.9" r="1.5"/><circle cx="236.2" cy="60.8" r="1.5"/><circle cx="225.3" cy="59.6" r="1.5"/><circle cx="228.1" cy="60.2" r="1.5"/><circle cx="231.6" cy="61.3" r="1.5"/><circle cx="234.5" cy="63.1" r="1.5"/><circle cx="221.2" cy="60.2" r="1.5"/><circle cx="220.1" cy="61.9" r="1.5"/><circle cx="218.9" cy="63.7" r="1.5"/><circle cx="217.8" cy="65.1" r="1.5"/><circle cx="226.4" cy="64.8" r="1.5"/><circle cx="224.7" cy="66.3" r="1.5"/><circle cx="223.5" cy="67.7" r="1.5"/><circle cx="231.6" cy="64.2" r="1.5"/><circle cx="233.9" cy="66.0" r="1.5"/><circle cx="231.0" cy="67.7" r="1.5"/><circle cx="235.9" cy="69.8" r="1.5"/><circle cx="220.1" cy="70.0" r="1.5"/><circle cx="221.8" cy="70.3" r="1.5"/><circle cx="225.3" cy="71.1" r="1.5"/><circle cx="227.6" cy="70.3" r="1.5"/><circle cx="225.3" cy="72.3" r="1.5"/><circle cx="248.9" cy="76.7" r="1.5"/><circle cx="252.4" cy="75.8" r="1.5"/><circle cx="254.7" cy="72.3" r="1.5"/><circle cx="256.4" cy="74.0" r="1.5"/><circle cx="253.5" cy="78.1" r="1.5"/><circle cx="253.5" cy="82.1" r="1.5"/><circle cx="258.1" cy="72.3" r="1.5"/><circle cx="259.9" cy="73.5" r="1.5"/><circle cx="261.0" cy="75.2" r="1.5"/><circle cx="263.3" cy="71.1" r="1.5"/><circle cx="262.7" cy="76.9" r="1.5"/><circle cx="263.9" cy="78.6" r="1.5"/><circle cx="259.3" cy="81.5" r="1.5"/><circle cx="266.8" cy="81.0" r="1.5"/><circle cx="255.8" cy="86.1" r="1.5"/><circle cx="255.6" cy="91.7" r="1.5"/><circle cx="262.7" cy="88.4" r="1.5"/><circle cx="265.1" cy="87.3" r="1.5"/><circle cx="265.6" cy="89.6" r="1.5"/><circle cx="263.3" cy="90.8" r="1.5"/><circle cx="261.0" cy="93.1" r="1.5"/><circle cx="298.1" cy="59.0" r="1.5"/><circle cx="300.9" cy="62.5" r="1.5"/><circle cx="303.8" cy="61.3" r="1.5"/><circle cx="307.3" cy="64.2" r="1.5"/><circle cx="299.2" cy="64.8" r="1.5"/><circle cx="296.9" cy="67.1" r="1.5"/><circle cx="294.6" cy="68.3" r="1.5"/><circle cx="291.1" cy="69.4" r="1.5"/><circle cx="281.3" cy="67.1" r="1.5"/><circle cx="287.1" cy="67.1" r="1.5"/><circle cx="286.0" cy="69.4" r="1.5"/><circle cx="284.8" cy="71.7" r="1.5"/><circle cx="282.5" cy="72.3" r="1.5"/><circle cx="280.8" cy="74.0" r="1.5"/><circle cx="271.5" cy="69.4" r="1.5"/><circle cx="273.8" cy="71.7" r="1.5"/><circle cx="294.6" cy="73.5" r="1.5"/><circle cx="297.5" cy="72.9" r="1.5"/><circle cx="292.9" cy="76.3" r="1.5"/><circle cx="296.3" cy="77.5" r="1.5"/><circle cx="277.9" cy="76.3" r="1.5"/><circle cx="280.2" cy="78.1" r="1.5"/><circle cx="281.9" cy="79.8" r="1.5"/><circle cx="284.2" cy="82.1" r="1.5"/><circle cx="287.7" cy="79.8" r="1.5"/><circle cx="290.0" cy="82.7" r="1.5"/><circle cx="285.4" cy="85.0" r="1.5"/><circle cx="291.7" cy="86.1" r="1.5"/><circle cx="288.8" cy="89.6" r="1.5"/><circle cx="291.1" cy="88.4" r="1.5"/><circle cx="272.1" cy="78.1" r="1.5"/><circle cx="267.5" cy="81.0" r="1.5"/><circle cx="271.0" cy="82.7" r="1.5"/><circle cx="263.5" cy="71.7" r="1.5"/><circle cx="261.2" cy="74.0" r="1.5"/><circle cx="263.5" cy="76.9" r="1.5"/><circle cx="261.2" cy="78.6" r="1.5"/><circle cx="270.4" cy="86.1" r="1.5"/><circle cx="272.7" cy="87.9" r="1.5"/><circle cx="275.6" cy="86.1" r="1.5"/><circle cx="278.5" cy="85.6" r="1.5"/><circle cx="279.6" cy="89.0" r="1.5"/><circle cx="265.2" cy="87.9" r="1.5"/><circle cx="262.3" cy="89.6" r="1.5"/><circle cx="261.2" cy="92.5" r="1.5"/><circle cx="269.2" cy="91.9" r="1.5"/><circle cx="268.7" cy="95.4" r="1.5"/><circle cx="273.3" cy="91.9" r="1.5"/><circle cx="275.0" cy="94.2" r="1.5"/><circle cx="279.0" cy="91.9" r="1.5"/><circle cx="280.8" cy="93.1" r="1.5"/><circle cx="284.2" cy="91.9" r="1.5"/><circle cx="279.6" cy="97.1" r="1.5"/><circle cx="284.8" cy="95.4" r="1.5"/><circle cx="287.7" cy="98.8" r="1.5"/><circle cx="290.6" cy="95.9" r="1.5"/><circle cx="293.4" cy="93.1" r="1.5"/><circle cx="295.8" cy="94.2" r="1.5"/><circle cx="299.2" cy="95.4" r="1.5"/><circle cx="298.1" cy="97.1" r="1.5"/><circle cx="300.9" cy="82.7" r="1.5"/><circle cx="299.2" cy="86.1" r="1.5"/><circle cx="299.8" cy="89.6" r="1.5"/><circle cx="302.7" cy="88.4" r="1.5"/><circle cx="303.8" cy="91.9" r="1.5"/><circle cx="307.9" cy="86.1" r="1.5"/><circle cx="310.2" cy="90.8" r="1.5"/><circle cx="311.9" cy="91.9" r="1.5"/><circle cx="296.9" cy="101.7" r="1.5"/><circle cx="299.2" cy="102.3" r="1.5"/><circle cx="294.6" cy="104.0" r="1.5"/><circle cx="292.9" cy="105.7" r="1.5"/><circle cx="313.2" cy="60.2" r="1.5"/><circle cx="314.9" cy="56.2" r="1.5"/><circle cx="326.5" cy="58.5" r="1.5"/><circle cx="308.0" cy="59.0" r="1.5"/><circle cx="313.2" cy="63.7" r="1.5"/><circle cx="312.0" cy="66.0" r="1.5"/><circle cx="315.5" cy="66.5" r="1.5"/><circle cx="319.0" cy="63.7" r="1.5"/><circle cx="320.1" cy="66.5" r="1.5"/><circle cx="322.4" cy="67.1" r="1.5"/><circle cx="323.6" cy="62.5" r="1.5"/><circle cx="326.5" cy="63.7" r="1.5"/><circle cx="327.0" cy="66.5" r="1.5"/><circle cx="323.6" cy="72.9" r="1.5"/><circle cx="323.0" cy="76.9" r="1.5"/><circle cx="330.5" cy="72.9" r="1.5"/><circle cx="333.4" cy="76.3" r="1.5"/><circle cx="332.8" cy="79.2" r="1.5"/><circle cx="335.7" cy="78.6" r="1.5"/><circle cx="342.0" cy="78.6" r="1.5"/><circle cx="340.3" cy="74.0" r="1.5"/><circle cx="308.6" cy="86.1" r="1.5"/><circle cx="310.3" cy="90.8" r="1.5"/><circle cx="312.0" cy="91.9" r="1.5"/><circle cx="323.0" cy="91.3" r="1.5"/><circle cx="328.2" cy="85.6" r="1.5"/><circle cx="329.9" cy="84.4" r="1.5"/><circle cx="335.1" cy="85.6" r="1.5"/><circle cx="339.1" cy="87.9" r="1.5"/><circle cx="341.4" cy="88.4" r="1.5"/><circle cx="334.5" cy="89.6" r="1.5"/><circle cx="332.8" cy="92.5" r="1.5"/><circle cx="327.0" cy="93.6" r="1.5"/><circle cx="328.2" cy="95.9" r="1.5"/><circle cx="331.1" cy="94.8" r="1.5"/><circle cx="336.3" cy="93.1" r="1.5"/><circle cx="340.3" cy="91.9" r="1.5"/><circle cx="341.4" cy="94.8" r="1.5"/><circle cx="338.0" cy="95.9" r="1.5"/><circle cx="332.8" cy="98.3" r="1.5"/><circle cx="335.7" cy="99.4" r="1.5"/><circle cx="339.1" cy="98.8" r="1.5"/><circle cx="334.5" cy="102.3" r="1.5"/><circle cx="338.0" cy="102.3" r="1.5"/><circle cx="336.3" cy="104.6" r="1.5"/><circle cx="266.9" cy="116.7" r="1.5"/><circle cx="264.0" cy="121.9" r="1.5"/><circle cx="270.4" cy="118.5" r="1.5"/><circle cx="273.3" cy="118.5" r="1.5"/><circle cx="275.0" cy="119.0" r="1.5"/><circle cx="269.2" cy="121.3" r="1.5"/><circle cx="272.1" cy="121.9" r="1.5"/><circle cx="268.1" cy="124.2" r="1.5"/><circle cx="271.5" cy="124.8" r="1.5"/><circle cx="268.6" cy="127.7" r="1.5"/><circle cx="270.9" cy="128.8" r="1.5"/><circle cx="272.1" cy="131.1" r="1.5"/><circle cx="265.2" cy="132.9" r="1.5"/><circle cx="265.8" cy="138.1" r="1.5"/><circle cx="248.7" cy="134.6" r="1.5"/><circle cx="249.6" cy="137.5" r="1.5"/><circle cx="248.5" cy="139.8" r="1.5"/><circle cx="248.2" cy="141.5" r="1.5"/><circle cx="252.5" cy="138.1" r="1.5"/><circle cx="256.0" cy="137.5" r="1.5"/><circle cx="258.8" cy="138.1" r="1.5"/><circle cx="257.7" cy="140.4" r="1.5"/><circle cx="260.6" cy="141.5" r="1.5"/><circle cx="256.5" cy="143.3" r="1.5"/><circle cx="259.4" cy="144.4" r="1.5"/><circle cx="256.0" cy="145.6" r="1.5"/><circle cx="260.0" cy="147.3" r="1.5"/><circle cx="262.3" cy="142.7" r="1.5"/><circle cx="282.8" cy="113.3" r="1.5"/><circle cx="282.8" cy="113.3" r="1.5"/><circle cx="295.9" cy="102.3" r="1.5"/><circle cx="299.9" cy="101.7" r="1.5"/><circle cx="293.0" cy="105.2" r="1.5"/><circle cx="297.6" cy="103.5" r="1.5"/><circle cx="290.1" cy="109.2" r="1.5"/><circle cx="293.6" cy="110.4" r="1.5"/><circle cx="297.0" cy="109.8" r="1.5"/><circle cx="294.7" cy="112.7" r="1.5"/><circle cx="298.8" cy="112.7" r="1.5"/><circle cx="303.1" cy="108.1" r="1.5"/><circle cx="288.8" cy="139.8" r="1.5"/><circle cx="299.1" cy="142.9" r="1.5"/><circle cx="309.4" cy="146.0" r="1.5"/><circle cx="293.6" cy="148.1" r="1.5"/><circle cx="297.1" cy="146.3" r="1.5"/><circle cx="300.0" cy="146.9" r="1.5"/><circle cx="296.0" cy="149.8" r="1.5"/><circle cx="298.8" cy="149.8" r="1.5"/><circle cx="298.3" cy="152.7" r="1.5"/><circle cx="300.6" cy="152.1" r="1.5"/><circle cx="302.9" cy="148.1" r="1.5"/><circle cx="305.2" cy="150.4" r="1.5"/><circle cx="307.5" cy="152.1" r="1.5"/><circle cx="309.8" cy="151.5" r="1.5"/><circle cx="310.9" cy="154.4" r="1.5"/><circle cx="313.3" cy="155.6" r="1.5"/><circle cx="315.6" cy="153.3" r="1.5"/><circle cx="317.9" cy="157.9" r="1.5"/><circle cx="310.9" cy="158.7" r="1.5"/><circle cx="315.0" cy="156.7" r="1.5"/></g><g stroke="#4a2a4a" stroke-width="0.35"><circle cx="289.5" cy="31.4" r="1.6" fill="#ab3cab"/><circle cx="293.7" cy="34.4" r="1.6" fill="#ab3cab"/><circle cx="299.4" cy="28.8" r="1.6" fill="#ab3cab"/><circle cx="299.4" cy="37.1" r="1.6" fill="#ab3cab"/><circle cx="304.0" cy="37.7" r="1.6" fill="#ab3cab"/><circle cx="301.7" cy="43.9" r="1.6" fill="#ab3cab"/><circle cx="309.6" cy="43.4" r="1.6" fill="#ab3cab"/><circle cx="313.3" cy="49.0" r="1.6" fill="#ab3cab"/><circle cx="319.1" cy="25.0" r="1.6" fill="#ab3cab"/><circle cx="326.7" cy="23.6" r="1.6" fill="#ab3cab"/><circle cx="335.0" cy="23.3" r="1.6" fill="#ab3cab"/><circle cx="327.8" cy="28.7" r="1.6" fill="#ab3cab"/><circle cx="326.6" cy="28.6" r="1.6" fill="#ab3cab"/><circle cx="332.5" cy="33.1" r="1.6" fill="#ab3cab"/><circle cx="341.4" cy="30.9" r="1.6" fill="#ab3cab"/><circle cx="323.3" cy="34.3" r="1.6" fill="#ab3cab"/><circle cx="322.1" cy="34.8" r="1.6" fill="#ab3cab"/><circle cx="327.2" cy="37.6" r="1.6" fill="#ab3cab"/><circle cx="326.1" cy="40.7" r="1.6" fill="#ab3cab"/><circle cx="329.3" cy="35.7" r="1.6" fill="#ab3cab"/><circle cx="333.9" cy="38.7" r="1.6" fill="#ab3cab"/><circle cx="330.9" cy="39.9" r="1.6" fill="#ab3cab"/><circle cx="322.7" cy="47.3" r="1.6" fill="#ab3cab"/><circle cx="319.8" cy="50.3" r="1.6" fill="#ab3cab"/><circle cx="309.1" cy="49.5" r="1.6" fill="#ab3cab"/><circle cx="339.7" cy="60.6" r="1.6" fill="#ab3cab"/><circle cx="325.0" cy="57.2" r="1.6" fill="#ab3cab"/><circle cx="332.2" cy="57.5" r="1.6" fill="#ab3cab"/><circle cx="343.1" cy="58.3" r="1.6" fill="#ab3cab"/><circle cx="338.4" cy="68.0" r="1.6" fill="#ab3cab"/><circle cx="341.6" cy="65.7" r="1.6" fill="#ab3cab"/><circle cx="346.4" cy="68.6" r="1.6" fill="#ab3cab"/><circle cx="341.1" cy="70.3" r="1.6" fill="#ab3cab"/><circle cx="345.5" cy="69.1" r="1.6" fill="#ab3cab"/><circle cx="343.4" cy="76.8" r="1.6" fill="#ab3cab"/><circle cx="331.1" cy="89.7" r="1.6" fill="#ab3cab"/><circle cx="287.1" cy="23.6" r="1.6" fill="#ab3cab"/><circle cx="287.7" cy="25.0" r="1.6" fill="#ab3cab"/><circle cx="289.4" cy="26.1" r="1.6" fill="#ab3cab"/><circle cx="290.2" cy="27.5" r="1.6" fill="#ab3cab"/><circle cx="286.5" cy="33.1" r="1.6" fill="#ab3cab"/><circle cx="291.1" cy="31.3" r="1.6" fill="#ab3cab"/><circle cx="292.3" cy="30.8" r="1.6" fill="#ab3cab"/><circle cx="291.7" cy="34.2" r="1.6" fill="#ab3cab"/><circle cx="294.0" cy="33.1" r="1.6" fill="#ab3cab"/><circle cx="294.6" cy="34.2" r="1.6" fill="#ab3cab"/><circle cx="295.8" cy="27.9" r="1.6" fill="#ab3cab"/><circle cx="297.5" cy="29.0" r="1.6" fill="#ab3cab"/><circle cx="299.2" cy="27.9" r="1.6" fill="#ab3cab"/><circle cx="298.1" cy="30.8" r="1.6" fill="#ab3cab"/><circle cx="296.9" cy="31.3" r="1.6" fill="#ab3cab"/><circle cx="299.2" cy="37.7" r="1.6" fill="#ab3cab"/><circle cx="300.4" cy="38.8" r="1.6" fill="#ab3cab"/><circle cx="301.5" cy="37.7" r="1.6" fill="#ab3cab"/><circle cx="300.9" cy="40.6" r="1.6" fill="#ab3cab"/><circle cx="302.1" cy="41.7" r="1.6" fill="#ab3cab"/><circle cx="305.0" cy="30.2" r="1.6" fill="#ab3cab"/><circle cx="307.3" cy="33.6" r="1.6" fill="#ab3cab"/><circle cx="305.9" cy="37.1" r="1.6" fill="#ab3cab"/><circle cx="306.7" cy="42.3" r="1.6" fill="#ab3cab"/><circle cx="307.9" cy="44.0" r="1.6" fill="#ab3cab"/><circle cx="308.4" cy="45.8" r="1.6" fill="#ab3cab"/><circle cx="309.0" cy="47.5" r="1.6" fill="#ab3cab"/><circle cx="309.6" cy="49.2" r="1.6" fill="#ab3cab"/><circle cx="310.2" cy="50.9" r="1.6" fill="#ab3cab"/><circle cx="313.1" cy="48.6" r="1.6" fill="#ab3cab"/><circle cx="320.9" cy="24.8" r="1.6" fill="#ab3cab"/><circle cx="326.5" cy="23.6" r="1.6" fill="#ab3cab"/><circle cx="328.2" cy="21.5" r="1.6" fill="#ab3cab"/><circle cx="334.8" cy="22.1" r="1.6" fill="#ab3cab"/><circle cx="334.8" cy="24.4" r="1.6" fill="#ab3cab"/><circle cx="325.3" cy="27.3" r="1.6" fill="#ab3cab"/><circle cx="327.0" cy="28.5" r="1.6" fill="#ab3cab"/><circle cx="324.7" cy="29.0" r="1.6" fill="#ab3cab"/><circle cx="326.5" cy="31.3" r="1.6" fill="#ab3cab"/><circle cx="333.4" cy="29.0" r="1.6" fill="#ab3cab"/><circle cx="333.4" cy="31.9" r="1.6" fill="#ab3cab"/><circle cx="338.0" cy="32.5" r="1.6" fill="#ab3cab"/><circle cx="341.4" cy="33.1" r="1.6" fill="#ab3cab"/><circle cx="338.2" cy="34.8" r="1.6" fill="#ab3cab"/><circle cx="322.8" cy="34.5" r="1.6" fill="#ab3cab"/><circle cx="324.1" cy="36.5" r="1.6" fill="#ab3cab"/><circle cx="325.9" cy="38.3" r="1.6" fill="#ab3cab"/><circle cx="326.5" cy="40.0" r="1.6" fill="#ab3cab"/><circle cx="328.2" cy="34.2" r="1.6" fill="#ab3cab"/><circle cx="329.9" cy="34.8" r="1.6" fill="#ab3cab"/><circle cx="330.5" cy="37.7" r="1.6" fill="#ab3cab"/><circle cx="317.8" cy="37.9" r="1.6" fill="#ab3cab"/><circle cx="317.8" cy="40.6" r="1.6" fill="#ab3cab"/><circle cx="332.8" cy="41.1" r="1.6" fill="#ab3cab"/><circle cx="332.8" cy="44.0" r="1.6" fill="#ab3cab"/><circle cx="321.8" cy="45.8" r="1.6" fill="#ab3cab"/><circle cx="322.4" cy="47.5" r="1.6" fill="#ab3cab"/><circle cx="325.3" cy="48.1" r="1.6" fill="#ab3cab"/><circle cx="330.5" cy="50.4" r="1.6" fill="#ab3cab"/><circle cx="320.1" cy="53.3" r="1.6" fill="#ab3cab"/><circle cx="324.7" cy="54.4" r="1.6" fill="#ab3cab"/><circle cx="313.2" cy="48.6" r="1.6" fill="#ab3cab"/><circle cx="309.7" cy="49.2" r="1.6" fill="#ab3cab"/><circle cx="310.3" cy="50.9" r="1.6" fill="#ab3cab"/><circle cx="308.0" cy="44.6" r="1.6" fill="#ab3cab"/><circle cx="308.6" cy="34.2" r="1.6" fill="#ab3cab"/><circle cx="335.7" cy="54.4" r="1.6" fill="#ab3cab"/><circle cx="337.4" cy="55.0" r="1.6" fill="#ab3cab"/><circle cx="332.8" cy="56.7" r="1.6" fill="#ab3cab"/><circle cx="336.8" cy="57.9" r="1.6" fill="#ab3cab"/><circle cx="339.1" cy="58.4" r="1.6" fill="#ab3cab"/><circle cx="343.2" cy="58.4" r="1.6" fill="#ab3cab"/><circle cx="333.4" cy="60.2" r="1.6" fill="#ab3cab"/><circle cx="340.3" cy="60.2" r="1.6" fill="#ab3cab"/><circle cx="310.3" cy="36.5" r="1.6" fill="#ab3cab"/><circle cx="310.3" cy="39.4" r="1.6" fill="#ab3cab"/><circle cx="324.7" cy="55.0" r="1.6" fill="#ab3cab"/><circle cx="332.8" cy="56.7" r="1.6" fill="#ab3cab"/><circle cx="336.8" cy="56.2" r="1.6" fill="#ab3cab"/><circle cx="332.8" cy="60.8" r="1.6" fill="#ab3cab"/><circle cx="337.4" cy="60.8" r="1.6" fill="#ab3cab"/><circle cx="340.3" cy="61.9" r="1.6" fill="#ab3cab"/><circle cx="342.6" cy="59.0" r="1.6" fill="#ab3cab"/><circle cx="345.5" cy="61.3" r="1.6" fill="#ab3cab"/><circle cx="336.3" cy="64.2" r="1.6" fill="#ab3cab"/><circle cx="336.3" cy="66.5" r="1.6" fill="#ab3cab"/><circle cx="339.1" cy="65.4" r="1.6" fill="#ab3cab"/><circle cx="342.6" cy="66.5" r="1.6" fill="#ab3cab"/><circle cx="346.6" cy="68.8" r="1.6" fill="#ab3cab"/><circle cx="341.4" cy="70.0" r="1.6" fill="#ab3cab"/><circle cx="347.2" cy="70.0" r="1.6" fill="#ab3cab"/><circle cx="345.5" cy="73.5" r="1.6" fill="#ab3cab"/><circle cx="344.3" cy="76.3" r="1.6" fill="#ab3cab"/><circle cx="351.3" cy="69.4" r="1.6" fill="#ab3cab"/><circle cx="355.9" cy="68.3" r="1.6" fill="#ab3cab"/><circle cx="358.2" cy="66.5" r="1.6" fill="#ab3cab"/><circle cx="329.3" cy="89.0" r="1.6" fill="#ab3cab"/><circle cx="286.9" cy="29.8" r="1.6" fill="#2e9e3c"/><circle cx="294.9" cy="37.1" r="1.6" fill="#2a4bb0"/><circle cx="310.7" cy="39.1" r="1.6" fill="#e0241f"/><circle cx="317.7" cy="50.1" r="1.6" fill="#1fa0d0"/><circle cx="322.1" cy="22.9" r="1.6" fill="#13787a"/><circle cx="340.9" cy="27.3" r="1.6" fill="#13787a"/><circle cx="334.0" cy="38.8" r="1.6" fill="#13787a"/><circle cx="337.8" cy="39.4" r="1.6" fill="#13787a"/><circle cx="332.0" cy="52.7" r="1.6" fill="#13787a"/><circle cx="322.1" cy="50.6" r="1.6" fill="#13787a"/><circle cx="331.6" cy="36.0" r="1.6" fill="#13787a"/><circle cx="330.5" cy="25.2" r="1.6" fill="#e8b08a"/><circle cx="337.8" cy="27.5" r="1.6" fill="#cfc3ec"/><circle cx="322.4" cy="42.6" r="1.6" fill="#f6a53a"/><circle cx="334.5" cy="49.8" r="1.6" fill="#f6a53a"/><circle cx="330.3" cy="47.3" r="1.6" fill="#6fd3c7"/><circle cx="317.8" cy="50.1" r="1.6" fill="#1fa0d0"/><circle cx="344.3" cy="63.7" r="1.6" fill="#13787a"/><circle cx="353.0" cy="66.0" r="1.6" fill="#f29ac6"/><circle cx="355.3" cy="66.0" r="1.6" fill="#a8d437"/></g>
<text x="216" y="15.1" font-size="10.8" font-weight="bold">C</text>
<circle cx="373.1" cy="12.3" r="2.1" fill="#138a3a"/>
<text x="378.9" y="14.8" font-size="7.2" textLength="65.4" lengthAdjust="spacingAndGlyphs">delinsGC/CAGGGG</text>
<circle cx="373.1" cy="23.0" r="2.1" fill="#1fa3d3"/>
<text x="378.9" y="25.5" font-size="7.2" textLength="28.2" lengthAdjust="spacingAndGlyphs">insAGAA</text>
<circle cx="373.1" cy="33.6" r="2.1" fill="#9bc31f"/>
<text x="378.9" y="36.1" font-size="7.2" textLength="28.6" lengthAdjust="spacingAndGlyphs">insCAAG</text>
<circle cx="373.1" cy="44.3" r="2.1" fill="#e88cc0"/>
<text x="378.9" y="46.8" font-size="7.2" textLength="28.6" lengthAdjust="spacingAndGlyphs">insCAGA</text>
<circle cx="373.1" cy="55.0" r="2.1" fill="#5a0a46"/>
<text x="378.9" y="57.5" font-size="7.2" textLength="27.7" lengthAdjust="spacingAndGlyphs">insCATG</text>
<circle cx="373.1" cy="65.7" r="2.1" fill="#f7a02c"/>
<text x="378.9" y="68.2" font-size="7.2" textLength="29.0" lengthAdjust="spacingAndGlyphs">insCCAG</text>
<circle cx="373.1" cy="76.3" r="2.1" fill="#553513"/>
<text x="378.9" y="78.8" font-size="7.2" textLength="29.0" lengthAdjust="spacingAndGlyphs">insCCGA</text>
<circle cx="373.1" cy="87.0" r="2.1" fill="#0c5560"/>
<text x="378.9" y="89.5" font-size="7.2" textLength="28.6" lengthAdjust="spacingAndGlyphs">insCCTG</text>
<circle cx="373.1" cy="97.7" r="2.1" fill="#1f3f9e"/>
<text x="378.9" y="100.2" font-size="7.2" textLength="29.7" lengthAdjust="spacingAndGlyphs">insCGCG</text>
<circle cx="373.1" cy="108.3" r="2.1" fill="#55bfae"/>
<text x="378.9" y="110.8" font-size="7.2" textLength="29.3" lengthAdjust="spacingAndGlyphs">insCGGA</text>
<circle cx="373.1" cy="119.0" r="2.1" fill="#a57768"/>
<text x="378.9" y="121.5" font-size="7.2" textLength="27.8" lengthAdjust="spacingAndGlyphs">insCTTG</text>
<circle cx="373.1" cy="129.7" r="2.1" fill="#b3a9d8"/>
<text x="378.9" y="132.2" font-size="7.2" textLength="26.4" lengthAdjust="spacingAndGlyphs">insTATG</text>
<circle cx="373.1" cy="140.3" r="2.1" fill="#86b880"/>
<text x="378.9" y="142.8" font-size="7.2" textLength="29.0" lengthAdjust="spacingAndGlyphs">insTCGG</text>
<circle cx="373.1" cy="151.0" r="2.1" fill="#a3339d"/>
<text x="378.9" y="153.5" font-size="7.2" textLength="27.8" lengthAdjust="spacingAndGlyphs">insTCTG</text>
<circle cx="373.1" cy="161.7" r="2.1" fill="#5b4490"/>
<text x="378.9" y="164.2" font-size="7.2" textLength="27.8" lengthAdjust="spacingAndGlyphs">insTTCG</text>
<circle cx="373.1" cy="172.4" r="2.1" fill="#d2d2d2"/>
<text x="378.9" y="174.9" font-size="7.2" textLength="26.3" lengthAdjust="spacingAndGlyphs">NPM1wt</text>
<circle cx="373.1" cy="183.0" r="2.1" fill="#d7141a"/>
<text x="378.9" y="185.5" font-size="7.2" textLength="119.1" lengthAdjust="spacingAndGlyphs">Exon5_insGGATAGAATGGGGTCCTT</text>
<circle cx="373.1" cy="193.7" r="2.1" fill="#48409a"/>
<text x="378.9" y="196.2" font-size="7.2" textLength="133.6" lengthAdjust="spacingAndGlyphs">Exon5_insCCAAGCCGTGAAACTCTTAAG</text>
</g>
<g id="Bcl">
<g fill="#27549a"><circle cx="25.1" cy="300.7" r="1.72"/><circle cx="16.5" cy="292.2" r="1.72"/><circle cx="19.3" cy="292.7" r="1.72"/><circle cx="22.0" cy="292.7" r="1.72"/><circle cx="25.4" cy="293.3" r="1.72"/><circle cx="28.1" cy="296.0" r="1.72"/><circle cx="17.6" cy="294.9" r="1.72"/><circle cx="20.4" cy="295.5" r="1.72"/><circle cx="23.7" cy="296.6" r="1.72"/><circle cx="26.5" cy="298.2" r="1.72"/><circle cx="13.7" cy="295.5" r="1.72"/><circle cx="12.6" cy="297.1" r="1.72"/><circle cx="11.5" cy="298.8" r="1.72"/><circle cx="10.4" cy="300.2" r="1.72"/><circle cx="18.7" cy="299.9" r="1.72"/><circle cx="17.0" cy="301.3" r="1.72"/><circle cx="15.9" cy="302.6" r="1.72"/><circle cx="23.7" cy="299.3" r="1.72"/><circle cx="25.9" cy="301.0" r="1.72"/><circle cx="23.2" cy="302.6" r="1.72"/><circle cx="27.8" cy="304.6" r="1.72"/><circle cx="12.6" cy="304.8" r="1.72"/><circle cx="14.3" cy="305.1" r="1.72"/><circle cx="17.6" cy="305.9" r="1.72"/><circle cx="19.8" cy="305.1" r="1.72"/><circle cx="17.6" cy="307.0" r="1.72"/></g>
<g fill="#126b3b"><circle cx="119.4" cy="323.5" r="1.72"/><circle cx="123.8" cy="312.6" r="1.72"/><circle cx="130.2" cy="320.9" r="1.72"/><circle cx="126.8" cy="329.6" r="1.72"/><circle cx="122.1" cy="330.8" r="1.72"/><circle cx="124.8" cy="332.6" r="1.72"/><circle cx="117.7" cy="322.9" r="1.72"/><circle cx="118.8" cy="307.5" r="1.72"/><circle cx="121.6" cy="310.8" r="1.72"/><circle cx="121.1" cy="313.6" r="1.72"/><circle cx="123.8" cy="313.0" r="1.72"/><circle cx="111.6" cy="325.1" r="1.72"/><circle cx="116.6" cy="319.6" r="1.72"/><circle cx="118.3" cy="318.5" r="1.72"/><circle cx="123.3" cy="319.6" r="1.72"/><circle cx="127.2" cy="321.8" r="1.72"/><circle cx="129.4" cy="322.3" r="1.72"/><circle cx="122.7" cy="323.4" r="1.72"/><circle cx="121.1" cy="326.2" r="1.72"/><circle cx="115.5" cy="327.3" r="1.72"/><circle cx="116.6" cy="329.4" r="1.72"/><circle cx="119.4" cy="328.4" r="1.72"/><circle cx="124.4" cy="326.7" r="1.72"/><circle cx="128.3" cy="325.6" r="1.72"/><circle cx="129.4" cy="328.4" r="1.72"/><circle cx="126.0" cy="329.4" r="1.72"/><circle cx="121.1" cy="331.6" r="1.72"/><circle cx="123.8" cy="332.7" r="1.72"/><circle cx="127.2" cy="332.2" r="1.72"/><circle cx="122.7" cy="335.5" r="1.72"/><circle cx="126.0" cy="335.5" r="1.72"/><circle cx="124.4" cy="337.7" r="1.72"/></g>
<g fill="#2389a6"><circle cx="87.2" cy="293.4" r="1.72"/><circle cx="127.7" cy="295.8" r="1.72"/><circle cx="129.1" cy="294.7" r="1.72"/><circle cx="91.1" cy="298.7" r="1.72"/><circle cx="95.9" cy="297.8" r="1.72"/><circle cx="87.9" cy="300.0" r="1.72"/><circle cx="113.6" cy="292.6" r="1.72"/><circle cx="120.5" cy="292.9" r="1.72"/><circle cx="130.9" cy="293.7" r="1.72"/><circle cx="126.5" cy="302.9" r="1.72"/><circle cx="129.6" cy="300.8" r="1.72"/><circle cx="134.1" cy="303.5" r="1.72"/><circle cx="129.0" cy="305.1" r="1.72"/><circle cx="133.2" cy="303.9" r="1.72"/><circle cx="131.2" cy="311.2" r="1.72"/><circle cx="101.3" cy="294.5" r="1.72"/><circle cx="111.2" cy="303.1" r="1.72"/><circle cx="114.6" cy="297.1" r="1.72"/><circle cx="115.3" cy="301.1" r="1.72"/><circle cx="131.6" cy="312.5" r="1.72"/><circle cx="97.1" cy="293.8" r="1.72"/><circle cx="87.6" cy="294.4" r="1.72"/><circle cx="104.3" cy="291.6" r="1.72"/><circle cx="92.6" cy="296.0" r="1.72"/><circle cx="102.1" cy="295.5" r="1.72"/><circle cx="118.8" cy="286.2" r="1.72"/><circle cx="123.8" cy="290.0" r="1.72"/><circle cx="125.5" cy="290.5" r="1.72"/><circle cx="121.1" cy="292.2" r="1.72"/><circle cx="124.9" cy="293.3" r="1.72"/><circle cx="127.2" cy="293.8" r="1.72"/><circle cx="131.0" cy="293.8" r="1.72"/><circle cx="121.6" cy="295.5" r="1.72"/><circle cx="128.3" cy="295.5" r="1.72"/><circle cx="120.3" cy="288.3" r="1.72"/><circle cx="122.7" cy="285.6" r="1.72"/><circle cx="104.1" cy="291.4" r="1.72"/><circle cx="98.1" cy="291.1" r="1.72"/><circle cx="114.9" cy="293.3" r="1.72"/><circle cx="102.2" cy="295.5" r="1.72"/><circle cx="129.4" cy="292.7" r="1.72"/><circle cx="87.6" cy="294.4" r="1.72"/><circle cx="90.4" cy="297.7" r="1.72"/><circle cx="93.2" cy="296.6" r="1.72"/><circle cx="96.5" cy="299.3" r="1.72"/><circle cx="88.7" cy="299.9" r="1.72"/><circle cx="113.3" cy="290.6" r="1.72"/><circle cx="121.1" cy="292.2" r="1.72"/><circle cx="124.9" cy="291.6" r="1.72"/><circle cx="121.1" cy="296.0" r="1.72"/><circle cx="125.5" cy="296.0" r="1.72"/><circle cx="128.3" cy="297.1" r="1.72"/><circle cx="130.5" cy="294.4" r="1.72"/><circle cx="133.3" cy="296.6" r="1.72"/><circle cx="124.4" cy="299.3" r="1.72"/><circle cx="124.4" cy="301.5" r="1.72"/><circle cx="127.2" cy="300.4" r="1.72"/><circle cx="130.5" cy="301.5" r="1.72"/><circle cx="134.4" cy="303.7" r="1.72"/><circle cx="129.4" cy="304.8" r="1.72"/><circle cx="134.9" cy="304.8" r="1.72"/><circle cx="133.3" cy="308.1" r="1.72"/><circle cx="132.1" cy="310.8" r="1.72"/><circle cx="138.8" cy="304.2" r="1.72"/><circle cx="143.2" cy="303.2" r="1.72"/><circle cx="145.5" cy="301.5" r="1.72"/><circle cx="132.1" cy="298.8" r="1.72"/><circle cx="140.5" cy="301.0" r="1.72"/><circle cx="142.7" cy="301.0" r="1.72"/><circle cx="102.2" cy="295.5" r="1.72"/><circle cx="103.9" cy="291.6" r="1.72"/><circle cx="114.9" cy="293.8" r="1.72"/><circle cx="97.2" cy="294.4" r="1.72"/><circle cx="102.2" cy="298.8" r="1.72"/><circle cx="101.1" cy="301.0" r="1.72"/><circle cx="104.4" cy="301.5" r="1.72"/><circle cx="107.7" cy="298.8" r="1.72"/><circle cx="108.8" cy="301.5" r="1.72"/><circle cx="111.1" cy="302.1" r="1.72"/><circle cx="112.2" cy="297.7" r="1.72"/><circle cx="114.9" cy="298.8" r="1.72"/><circle cx="115.5" cy="301.5" r="1.72"/><circle cx="129.9" cy="313.0" r="1.72"/><circle cx="128.3" cy="308.6" r="1.72"/></g>
<g fill="#4f9a5b"><circle cx="78.7" cy="372.2" r="1.72"/><circle cx="101.6" cy="377.7" r="1.72"/><circle cx="82.2" cy="378.9" r="1.72"/><circle cx="89.3" cy="378.4" r="1.72"/><circle cx="93.7" cy="379.1" r="1.72"/><circle cx="78.7" cy="371.1" r="1.72"/><circle cx="88.6" cy="374.0" r="1.72"/><circle cx="98.6" cy="377.0" r="1.72"/><circle cx="83.4" cy="379.0" r="1.72"/><circle cx="86.7" cy="377.3" r="1.72"/><circle cx="89.5" cy="377.9" r="1.72"/><circle cx="85.6" cy="380.6" r="1.72"/><circle cx="88.4" cy="380.6" r="1.72"/><circle cx="87.8" cy="383.3" r="1.72"/><circle cx="90.0" cy="382.8" r="1.72"/><circle cx="92.3" cy="379.0" r="1.72"/><circle cx="94.5" cy="381.2" r="1.72"/><circle cx="96.7" cy="382.8" r="1.72"/><circle cx="98.9" cy="382.3" r="1.72"/><circle cx="100.0" cy="385.0" r="1.72"/><circle cx="102.2" cy="386.1" r="1.72"/><circle cx="104.5" cy="383.9" r="1.72"/><circle cx="106.7" cy="388.3" r="1.72"/><circle cx="100.0" cy="389.0" r="1.72"/><circle cx="103.9" cy="387.2" r="1.72"/></g>
<g fill="#0b474d"><circle cx="58.0" cy="349.7" r="1.72"/><circle cx="65.4" cy="352.3" r="1.72"/><circle cx="59.7" cy="354.4" r="1.72"/><circle cx="59.8" cy="355.8" r="1.72"/><circle cx="46.8" cy="325.4" r="1.72"/><circle cx="57.7" cy="349.2" r="1.72"/><circle cx="54.9" cy="354.1" r="1.72"/><circle cx="61.0" cy="350.8" r="1.72"/><circle cx="63.8" cy="350.8" r="1.72"/><circle cx="65.4" cy="351.4" r="1.72"/><circle cx="59.9" cy="353.6" r="1.72"/><circle cx="62.7" cy="354.1" r="1.72"/><circle cx="58.8" cy="356.3" r="1.72"/><circle cx="62.1" cy="356.9" r="1.72"/><circle cx="59.3" cy="359.6" r="1.72"/><circle cx="61.5" cy="360.7" r="1.72"/><circle cx="62.7" cy="362.9" r="1.72"/><circle cx="56.0" cy="364.5" r="1.72"/><circle cx="73.0" cy="345.9" r="1.72"/><circle cx="73.0" cy="345.9" r="1.72"/></g>
<g fill="#7d77a8"><circle cx="56.1" cy="368.6" r="1.72"/><circle cx="40.0" cy="371.3" r="1.72"/><circle cx="41.3" cy="371.2" r="1.72"/><circle cx="47.2" cy="378.3" r="1.72"/><circle cx="56.6" cy="369.5" r="1.72"/><circle cx="40.1" cy="366.2" r="1.72"/><circle cx="41.0" cy="368.9" r="1.72"/><circle cx="39.9" cy="371.1" r="1.72"/><circle cx="39.7" cy="372.7" r="1.72"/><circle cx="43.8" cy="369.5" r="1.72"/><circle cx="47.1" cy="368.9" r="1.72"/><circle cx="49.9" cy="369.5" r="1.72"/><circle cx="48.8" cy="371.7" r="1.72"/><circle cx="51.6" cy="372.7" r="1.72"/><circle cx="47.7" cy="374.4" r="1.72"/><circle cx="50.5" cy="375.5" r="1.72"/><circle cx="47.1" cy="376.6" r="1.72"/><circle cx="51.0" cy="378.2" r="1.72"/><circle cx="53.2" cy="373.8" r="1.72"/></g>
<g fill="#5a5878"><circle cx="102.3" cy="284.8" r="1.72"/><circle cx="107.8" cy="262.0" r="1.72"/><circle cx="115.2" cy="260.7" r="1.72"/><circle cx="123.2" cy="260.4" r="1.72"/><circle cx="116.2" cy="265.5" r="1.72"/><circle cx="115.0" cy="265.4" r="1.72"/><circle cx="120.7" cy="269.7" r="1.72"/><circle cx="129.4" cy="267.7" r="1.72"/><circle cx="111.9" cy="270.9" r="1.72"/><circle cx="110.7" cy="271.4" r="1.72"/><circle cx="115.7" cy="274.0" r="1.72"/><circle cx="114.7" cy="276.9" r="1.72"/><circle cx="117.7" cy="272.2" r="1.72"/><circle cx="122.1" cy="275.1" r="1.72"/><circle cx="119.3" cy="276.2" r="1.72"/><circle cx="111.3" cy="283.3" r="1.72"/><circle cx="108.5" cy="286.1" r="1.72"/><circle cx="98.3" cy="285.3" r="1.72"/><circle cx="111.5" cy="307.1" r="1.72"/><circle cx="98.7" cy="285.1" r="1.72"/><circle cx="99.3" cy="286.7" r="1.72"/><circle cx="102.1" cy="284.5" r="1.72"/><circle cx="106.5" cy="285.9" r="1.72"/><circle cx="98.2" cy="290.0" r="1.72"/><circle cx="109.6" cy="261.8" r="1.72"/><circle cx="114.9" cy="260.7" r="1.72"/><circle cx="116.6" cy="258.8" r="1.72"/><circle cx="122.9" cy="259.3" r="1.72"/><circle cx="122.9" cy="261.5" r="1.72"/><circle cx="113.8" cy="264.2" r="1.72"/><circle cx="115.5" cy="265.3" r="1.72"/><circle cx="113.3" cy="265.9" r="1.72"/><circle cx="114.9" cy="268.1" r="1.72"/><circle cx="121.6" cy="265.9" r="1.72"/><circle cx="121.6" cy="268.6" r="1.72"/><circle cx="126.0" cy="269.2" r="1.72"/><circle cx="129.4" cy="269.7" r="1.72"/><circle cx="126.3" cy="271.4" r="1.72"/><circle cx="111.4" cy="271.0" r="1.72"/><circle cx="112.7" cy="273.0" r="1.72"/><circle cx="114.4" cy="274.6" r="1.72"/><circle cx="114.9" cy="276.3" r="1.72"/><circle cx="116.6" cy="270.8" r="1.72"/><circle cx="118.3" cy="271.4" r="1.72"/><circle cx="118.8" cy="274.1" r="1.72"/><circle cx="106.6" cy="274.3" r="1.72"/><circle cx="106.6" cy="276.8" r="1.72"/><circle cx="121.1" cy="277.4" r="1.72"/><circle cx="121.1" cy="280.1" r="1.72"/><circle cx="110.5" cy="281.8" r="1.72"/><circle cx="111.1" cy="283.4" r="1.72"/><circle cx="113.8" cy="284.0" r="1.72"/><circle cx="108.8" cy="288.9" r="1.72"/><circle cx="113.3" cy="290.0" r="1.72"/><circle cx="102.2" cy="284.5" r="1.72"/><circle cx="98.9" cy="285.1" r="1.72"/><circle cx="99.4" cy="286.7" r="1.72"/><circle cx="110.7" cy="260.1" r="1.72"/><circle cx="128.8" cy="264.2" r="1.72"/><circle cx="122.2" cy="275.2" r="1.72"/><circle cx="125.8" cy="275.7" r="1.72"/><circle cx="110.7" cy="286.4" r="1.72"/><circle cx="119.9" cy="272.5" r="1.72"/><circle cx="118.8" cy="262.3" r="1.72"/><circle cx="125.8" cy="264.5" r="1.72"/><circle cx="111.1" cy="278.8" r="1.72"/><circle cx="118.6" cy="283.2" r="1.72"/><circle cx="106.6" cy="285.9" r="1.72"/><circle cx="112.2" cy="307.5" r="1.72"/><circle cx="111.6" cy="311.4" r="1.72"/></g>
<g fill="#2b1c68"><circle cx="55.1" cy="309.1" r="1.72"/><circle cx="53.4" cy="310.5" r="1.72"/><circle cx="40.4" cy="311.1" r="1.72"/><circle cx="43.7" cy="310.3" r="1.72"/><circle cx="45.9" cy="307.0" r="1.72"/><circle cx="47.6" cy="308.6" r="1.72"/><circle cx="44.8" cy="312.5" r="1.72"/><circle cx="44.8" cy="316.3" r="1.72"/><circle cx="49.2" cy="307.0" r="1.72"/><circle cx="50.9" cy="308.1" r="1.72"/><circle cx="52.0" cy="309.7" r="1.72"/><circle cx="54.2" cy="305.9" r="1.72"/><circle cx="53.7" cy="311.4" r="1.72"/><circle cx="54.8" cy="313.0" r="1.72"/><circle cx="50.3" cy="315.8" r="1.72"/><circle cx="57.5" cy="315.2" r="1.72"/><circle cx="62.1" cy="304.2" r="1.72"/><circle cx="64.3" cy="306.4" r="1.72"/><circle cx="62.7" cy="312.5" r="1.72"/><circle cx="58.2" cy="315.2" r="1.72"/><circle cx="54.3" cy="306.4" r="1.72"/><circle cx="52.1" cy="308.6" r="1.72"/><circle cx="54.3" cy="311.4" r="1.72"/><circle cx="52.1" cy="313.0" r="1.72"/></g>
<g fill="#769c82"><circle cx="47.1" cy="323.9" r="1.72"/><circle cx="87.2" cy="302.8" r="1.72"/><circle cx="84.4" cy="303.4" r="1.72"/><circle cx="79.8" cy="305.3" r="1.72"/><circle cx="77.1" cy="302.0" r="1.72"/><circle cx="75.8" cy="305.4" r="1.72"/><circle cx="75.4" cy="305.5" r="1.72"/><circle cx="72.3" cy="306.7" r="1.72"/><circle cx="59.6" cy="302.8" r="1.72"/><circle cx="84.9" cy="306.6" r="1.72"/><circle cx="88.1" cy="308.7" r="1.72"/><circle cx="72.1" cy="314.1" r="1.72"/><circle cx="72.9" cy="315.7" r="1.72"/><circle cx="76.0" cy="312.4" r="1.72"/><circle cx="79.1" cy="317.2" r="1.72"/><circle cx="76.5" cy="318.8" r="1.72"/><circle cx="64.0" cy="312.3" r="1.72"/><circle cx="62.9" cy="316.7" r="1.72"/><circle cx="65.1" cy="319.9" r="1.72"/><circle cx="53.1" cy="326.1" r="1.72"/><circle cx="58.4" cy="327.7" r="1.72"/><circle cx="65.5" cy="326.8" r="1.72"/><circle cx="70.6" cy="328.0" r="1.72"/><circle cx="73.1" cy="327.1" r="1.72"/><circle cx="74.9" cy="330.2" r="1.72"/><circle cx="85.6" cy="326.6" r="1.72"/><circle cx="89.7" cy="319.5" r="1.72"/><circle cx="89.8" cy="322.8" r="1.72"/><circle cx="92.3" cy="322.0" r="1.72"/><circle cx="98.8" cy="326.5" r="1.72"/><circle cx="85.1" cy="335.1" r="1.72"/><circle cx="88.4" cy="336.1" r="1.72"/><circle cx="99.4" cy="319.8" r="1.72"/><circle cx="100.3" cy="324.9" r="1.72"/><circle cx="87.4" cy="336.2" r="1.72"/><circle cx="90.8" cy="335.3" r="1.72"/><circle cx="85.5" cy="344.2" r="1.72"/><circle cx="88.3" cy="345.7" r="1.72"/><circle cx="47.0" cy="320.1" r="1.72"/><circle cx="53.7" cy="322.3" r="1.72"/><circle cx="55.9" cy="321.2" r="1.72"/><circle cx="56.4" cy="323.4" r="1.72"/><circle cx="54.2" cy="324.5" r="1.72"/><circle cx="52.0" cy="326.7" r="1.72"/><circle cx="86.5" cy="302.1" r="1.72"/><circle cx="84.3" cy="303.2" r="1.72"/><circle cx="81.0" cy="304.2" r="1.72"/><circle cx="71.5" cy="302.1" r="1.72"/><circle cx="77.1" cy="302.1" r="1.72"/><circle cx="76.0" cy="304.2" r="1.72"/><circle cx="74.9" cy="306.4" r="1.72"/><circle cx="72.7" cy="307.0" r="1.72"/><circle cx="71.0" cy="308.6" r="1.72"/><circle cx="84.3" cy="308.1" r="1.72"/><circle cx="87.1" cy="307.5" r="1.72"/><circle cx="82.6" cy="310.8" r="1.72"/><circle cx="86.0" cy="311.9" r="1.72"/><circle cx="68.2" cy="310.8" r="1.72"/><circle cx="70.4" cy="312.5" r="1.72"/><circle cx="72.1" cy="314.1" r="1.72"/><circle cx="74.3" cy="316.3" r="1.72"/><circle cx="77.6" cy="314.1" r="1.72"/><circle cx="79.9" cy="316.8" r="1.72"/><circle cx="75.4" cy="319.0" r="1.72"/><circle cx="81.5" cy="320.1" r="1.72"/><circle cx="78.8" cy="323.4" r="1.72"/><circle cx="81.0" cy="322.3" r="1.72"/><circle cx="61.6" cy="316.8" r="1.72"/><circle cx="61.0" cy="320.1" r="1.72"/><circle cx="63.2" cy="321.8" r="1.72"/><circle cx="66.0" cy="320.1" r="1.72"/><circle cx="68.8" cy="319.6" r="1.72"/><circle cx="69.9" cy="322.9" r="1.72"/><circle cx="56.0" cy="321.8" r="1.72"/><circle cx="53.2" cy="323.4" r="1.72"/><circle cx="52.1" cy="326.2" r="1.72"/><circle cx="59.9" cy="325.6" r="1.72"/><circle cx="59.3" cy="328.9" r="1.72"/><circle cx="63.8" cy="325.6" r="1.72"/><circle cx="65.4" cy="327.8" r="1.72"/><circle cx="69.3" cy="325.6" r="1.72"/><circle cx="71.0" cy="326.7" r="1.72"/><circle cx="74.3" cy="325.6" r="1.72"/><circle cx="69.9" cy="330.5" r="1.72"/><circle cx="74.9" cy="328.9" r="1.72"/><circle cx="77.6" cy="332.2" r="1.72"/><circle cx="80.4" cy="329.4" r="1.72"/><circle cx="83.2" cy="326.7" r="1.72"/><circle cx="85.4" cy="327.8" r="1.72"/><circle cx="88.7" cy="328.9" r="1.72"/><circle cx="87.6" cy="330.5" r="1.72"/><circle cx="90.4" cy="316.8" r="1.72"/><circle cx="88.7" cy="320.1" r="1.72"/><circle cx="89.3" cy="323.4" r="1.72"/><circle cx="92.1" cy="322.3" r="1.72"/><circle cx="93.2" cy="325.6" r="1.72"/><circle cx="97.1" cy="320.1" r="1.72"/><circle cx="99.3" cy="324.5" r="1.72"/><circle cx="101.0" cy="325.6" r="1.72"/><circle cx="86.5" cy="334.9" r="1.72"/><circle cx="88.7" cy="335.5" r="1.72"/><circle cx="84.3" cy="337.1" r="1.72"/><circle cx="82.6" cy="338.8" r="1.72"/><circle cx="97.8" cy="320.1" r="1.72"/><circle cx="99.4" cy="324.5" r="1.72"/><circle cx="101.1" cy="325.6" r="1.72"/><circle cx="85.5" cy="335.5" r="1.72"/><circle cx="89.4" cy="334.9" r="1.72"/><circle cx="82.8" cy="338.2" r="1.72"/><circle cx="87.2" cy="336.6" r="1.72"/><circle cx="80.0" cy="342.1" r="1.72"/><circle cx="83.3" cy="343.2" r="1.72"/><circle cx="86.6" cy="342.6" r="1.72"/><circle cx="84.4" cy="345.4" r="1.72"/><circle cx="88.3" cy="345.4" r="1.72"/><circle cx="92.5" cy="341.0" r="1.72"/></g>
<g fill="#76acb0"><circle cx="79.4" cy="268.1" r="1.72"/><circle cx="83.5" cy="271.0" r="1.72"/><circle cx="88.9" cy="265.7" r="1.72"/><circle cx="88.9" cy="273.5" r="1.72"/><circle cx="93.3" cy="274.1" r="1.72"/><circle cx="91.1" cy="280.0" r="1.72"/><circle cx="98.7" cy="279.5" r="1.72"/><circle cx="77.1" cy="260.7" r="1.72"/><circle cx="77.6" cy="262.0" r="1.72"/><circle cx="79.3" cy="263.1" r="1.72"/><circle cx="80.1" cy="264.5" r="1.72"/><circle cx="76.5" cy="269.7" r="1.72"/><circle cx="81.0" cy="268.1" r="1.72"/><circle cx="82.1" cy="267.5" r="1.72"/><circle cx="81.5" cy="270.8" r="1.72"/><circle cx="83.8" cy="269.7" r="1.72"/><circle cx="84.3" cy="270.8" r="1.72"/><circle cx="85.4" cy="264.8" r="1.72"/><circle cx="87.1" cy="265.9" r="1.72"/><circle cx="88.7" cy="264.8" r="1.72"/><circle cx="87.6" cy="267.5" r="1.72"/><circle cx="86.5" cy="268.1" r="1.72"/><circle cx="88.7" cy="274.1" r="1.72"/><circle cx="89.9" cy="275.2" r="1.72"/><circle cx="91.0" cy="274.1" r="1.72"/><circle cx="90.4" cy="276.8" r="1.72"/><circle cx="91.5" cy="277.9" r="1.72"/><circle cx="94.3" cy="267.0" r="1.72"/><circle cx="96.5" cy="270.3" r="1.72"/><circle cx="95.2" cy="273.5" r="1.72"/><circle cx="96.0" cy="278.5" r="1.72"/><circle cx="97.1" cy="280.1" r="1.72"/><circle cx="97.6" cy="281.8" r="1.72"/><circle cx="98.2" cy="283.4" r="1.72"/><circle cx="76.9" cy="266.6" r="1.72"/><circle cx="84.6" cy="273.5" r="1.72"/><circle cx="99.8" cy="275.4" r="1.72"/><circle cx="97.2" cy="280.7" r="1.72"/><circle cx="97.8" cy="270.8" r="1.72"/><circle cx="99.4" cy="273.0" r="1.72"/><circle cx="99.4" cy="275.7" r="1.72"/></g>
<g fill="#4585dc"><circle cx="25.1" cy="300.7" r="1.34"/><circle cx="16.5" cy="292.2" r="1.34"/><circle cx="19.3" cy="292.7" r="1.34"/><circle cx="22.0" cy="292.7" r="1.34"/><circle cx="25.4" cy="293.3" r="1.34"/><circle cx="28.1" cy="296.0" r="1.34"/><circle cx="17.6" cy="294.9" r="1.34"/><circle cx="20.4" cy="295.5" r="1.34"/><circle cx="23.7" cy="296.6" r="1.34"/><circle cx="26.5" cy="298.2" r="1.34"/><circle cx="13.7" cy="295.5" r="1.34"/><circle cx="12.6" cy="297.1" r="1.34"/><circle cx="11.5" cy="298.8" r="1.34"/><circle cx="10.4" cy="300.2" r="1.34"/><circle cx="18.7" cy="299.9" r="1.34"/><circle cx="17.0" cy="301.3" r="1.34"/><circle cx="15.9" cy="302.6" r="1.34"/><circle cx="23.7" cy="299.3" r="1.34"/><circle cx="25.9" cy="301.0" r="1.34"/><circle cx="23.2" cy="302.6" r="1.34"/><circle cx="27.8" cy="304.6" r="1.34"/><circle cx="12.6" cy="304.8" r="1.34"/><circle cx="14.3" cy="305.1" r="1.34"/><circle cx="17.6" cy="305.9" r="1.34"/><circle cx="19.8" cy="305.1" r="1.34"/><circle cx="17.6" cy="307.0" r="1.34"/></g>
<g fill="#2fae6e"><circle cx="119.4" cy="323.5" r="1.34"/><circle cx="123.8" cy="312.6" r="1.34"/><circle cx="130.2" cy="320.9" r="1.34"/><circle cx="126.8" cy="329.6" r="1.34"/><circle cx="122.1" cy="330.8" r="1.34"/><circle cx="124.8" cy="332.6" r="1.34"/><circle cx="117.7" cy="322.9" r="1.34"/><circle cx="118.8" cy="307.5" r="1.34"/><circle cx="121.6" cy="310.8" r="1.34"/><circle cx="121.1" cy="313.6" r="1.34"/><circle cx="123.8" cy="313.0" r="1.34"/><circle cx="111.6" cy="325.1" r="1.34"/><circle cx="116.6" cy="319.6" r="1.34"/><circle cx="118.3" cy="318.5" r="1.34"/><circle cx="123.3" cy="319.6" r="1.34"/><circle cx="127.2" cy="321.8" r="1.34"/><circle cx="129.4" cy="322.3" r="1.34"/><circle cx="122.7" cy="323.4" r="1.34"/><circle cx="121.1" cy="326.2" r="1.34"/><circle cx="115.5" cy="327.3" r="1.34"/><circle cx="116.6" cy="329.4" r="1.34"/><circle cx="119.4" cy="328.4" r="1.34"/><circle cx="124.4" cy="326.7" r="1.34"/><circle cx="128.3" cy="325.6" r="1.34"/><circle cx="129.4" cy="328.4" r="1.34"/><circle cx="126.0" cy="329.4" r="1.34"/><circle cx="121.1" cy="331.6" r="1.34"/><circle cx="123.8" cy="332.7" r="1.34"/><circle cx="127.2" cy="332.2" r="1.34"/><circle cx="122.7" cy="335.5" r="1.34"/><circle cx="126.0" cy="335.5" r="1.34"/><circle cx="124.4" cy="337.7" r="1.34"/></g>
<g fill="#42c6e6"><circle cx="87.2" cy="293.4" r="1.34"/><circle cx="127.7" cy="295.8" r="1.34"/><circle cx="129.1" cy="294.7" r="1.34"/><circle cx="91.1" cy="298.7" r="1.34"/><circle cx="95.9" cy="297.8" r="1.34"/><circle cx="87.9" cy="300.0" r="1.34"/><circle cx="113.6" cy="292.6" r="1.34"/><circle cx="120.5" cy="292.9" r="1.34"/><circle cx="130.9" cy="293.7" r="1.34"/><circle cx="126.5" cy="302.9" r="1.34"/><circle cx="129.6" cy="300.8" r="1.34"/><circle cx="134.1" cy="303.5" r="1.34"/><circle cx="129.0" cy="305.1" r="1.34"/><circle cx="133.2" cy="303.9" r="1.34"/><circle cx="131.2" cy="311.2" r="1.34"/><circle cx="101.3" cy="294.5" r="1.34"/><circle cx="111.2" cy="303.1" r="1.34"/><circle cx="114.6" cy="297.1" r="1.34"/><circle cx="115.3" cy="301.1" r="1.34"/><circle cx="131.6" cy="312.5" r="1.34"/><circle cx="97.1" cy="293.8" r="1.34"/><circle cx="87.6" cy="294.4" r="1.34"/><circle cx="104.3" cy="291.6" r="1.34"/><circle cx="92.6" cy="296.0" r="1.34"/><circle cx="102.1" cy="295.5" r="1.34"/><circle cx="118.8" cy="286.2" r="1.34"/><circle cx="123.8" cy="290.0" r="1.34"/><circle cx="125.5" cy="290.5" r="1.34"/><circle cx="121.1" cy="292.2" r="1.34"/><circle cx="124.9" cy="293.3" r="1.34"/><circle cx="127.2" cy="293.8" r="1.34"/><circle cx="131.0" cy="293.8" r="1.34"/><circle cx="121.6" cy="295.5" r="1.34"/><circle cx="128.3" cy="295.5" r="1.34"/><circle cx="120.3" cy="288.3" r="1.34"/><circle cx="122.7" cy="285.6" r="1.34"/><circle cx="104.1" cy="291.4" r="1.34"/><circle cx="98.1" cy="291.1" r="1.34"/><circle cx="114.9" cy="293.3" r="1.34"/><circle cx="102.2" cy="295.5" r="1.34"/><circle cx="129.4" cy="292.7" r="1.34"/><circle cx="87.6" cy="294.4" r="1.34"/><circle cx="90.4" cy="297.7" r="1.34"/><circle cx="93.2" cy="296.6" r="1.34"/><circle cx="96.5" cy="299.3" r="1.34"/><circle cx="88.7" cy="299.9" r="1.34"/><circle cx="113.3" cy="290.6" r="1.34"/><circle cx="121.1" cy="292.2" r="1.34"/><circle cx="124.9" cy="291.6" r="1.34"/><circle cx="121.1" cy="296.0" r="1.34"/><circle cx="125.5" cy="296.0" r="1.34"/><circle cx="128.3" cy="297.1" r="1.34"/><circle cx="130.5" cy="294.4" r="1.34"/><circle cx="133.3" cy="296.6" r="1.34"/><circle cx="124.4" cy="299.3" r="1.34"/><circle cx="124.4" cy="301.5" r="1.34"/><circle cx="127.2" cy="300.4" r="1.34"/><circle cx="130.5" cy="301.5" r="1.34"/><circle cx="134.4" cy="303.7" r="1.34"/><circle cx="129.4" cy="304.8" r="1.34"/><circle cx="134.9" cy="304.8" r="1.34"/><circle cx="133.3" cy="308.1" r="1.34"/><circle cx="132.1" cy="310.8" r="1.34"/><circle cx="138.8" cy="304.2" r="1.34"/><circle cx="143.2" cy="303.2" r="1.34"/><circle cx="145.5" cy="301.5" r="1.34"/><circle cx="132.1" cy="298.8" r="1.34"/><circle cx="140.5" cy="301.0" r="1.34"/><circle cx="142.7" cy="301.0" r="1.34"/><circle cx="102.2" cy="295.5" r="1.34"/><circle cx="103.9" cy="291.6" r="1.34"/><circle cx="114.9" cy="293.8" r="1.34"/><circle cx="97.2" cy="294.4" r="1.34"/><circle cx="102.2" cy="298.8" r="1.34"/><circle cx="101.1" cy="301.0" r="1.34"/><circle cx="104.4" cy="301.5" r="1.34"/><circle cx="107.7" cy="298.8" r="1.34"/><circle cx="108.8" cy="301.5" r="1.34"/><circle cx="111.1" cy="302.1" r="1.34"/><circle cx="112.2" cy="297.7" r="1.34"/><circle cx="114.9" cy="298.8" r="1.34"/><circle cx="115.5" cy="301.5" r="1.34"/><circle cx="129.9" cy="313.0" r="1.34"/><circle cx="128.3" cy="308.6" r="1.34"/></g>
<g fill="#86d48c"><circle cx="78.7" cy="372.2" r="1.34"/><circle cx="101.6" cy="377.7" r="1.34"/><circle cx="82.2" cy="378.9" r="1.34"/><circle cx="89.3" cy="378.4" r="1.34"/><circle cx="93.7" cy="379.1" r="1.34"/><circle cx="78.7" cy="371.1" r="1.34"/><circle cx="88.6" cy="374.0" r="1.34"/><circle cx="98.6" cy="377.0" r="1.34"/><circle cx="83.4" cy="379.0" r="1.34"/><circle cx="86.7" cy="377.3" r="1.34"/><circle cx="89.5" cy="377.9" r="1.34"/><circle cx="85.6" cy="380.6" r="1.34"/><circle cx="88.4" cy="380.6" r="1.34"/><circle cx="87.8" cy="383.3" r="1.34"/><circle cx="90.0" cy="382.8" r="1.34"/><circle cx="92.3" cy="379.0" r="1.34"/><circle cx="94.5" cy="381.2" r="1.34"/><circle cx="96.7" cy="382.8" r="1.34"/><circle cx="98.9" cy="382.3" r="1.34"/><circle cx="100.0" cy="385.0" r="1.34"/><circle cx="102.2" cy="386.1" r="1.34"/><circle cx="104.5" cy="383.9" r="1.34"/><circle cx="106.7" cy="388.3" r="1.34"/><circle cx="100.0" cy="389.0" r="1.34"/><circle cx="103.9" cy="387.2" r="1.34"/></g>
<g fill="#1a7a82"><circle cx="58.0" cy="349.7" r="1.34"/><circle cx="65.4" cy="352.3" r="1.34"/><circle cx="59.7" cy="354.4" r="1.34"/><circle cx="59.8" cy="355.8" r="1.34"/><circle cx="46.8" cy="325.4" r="1.34"/><circle cx="57.7" cy="349.2" r="1.34"/><circle cx="54.9" cy="354.1" r="1.34"/><circle cx="61.0" cy="350.8" r="1.34"/><circle cx="63.8" cy="350.8" r="1.34"/><circle cx="65.4" cy="351.4" r="1.34"/><circle cx="59.9" cy="353.6" r="1.34"/><circle cx="62.7" cy="354.1" r="1.34"/><circle cx="58.8" cy="356.3" r="1.34"/><circle cx="62.1" cy="356.9" r="1.34"/><circle cx="59.3" cy="359.6" r="1.34"/><circle cx="61.5" cy="360.7" r="1.34"/><circle cx="62.7" cy="362.9" r="1.34"/><circle cx="56.0" cy="364.5" r="1.34"/><circle cx="73.0" cy="345.9" r="1.34"/><circle cx="73.0" cy="345.9" r="1.34"/></g>
<g fill="#beb7e8"><circle cx="56.1" cy="368.6" r="1.34"/><circle cx="40.0" cy="371.3" r="1.34"/><circle cx="41.3" cy="371.2" r="1.34"/><circle cx="47.2" cy="378.3" r="1.34"/><circle cx="56.6" cy="369.5" r="1.34"/><circle cx="40.1" cy="366.2" r="1.34"/><circle cx="41.0" cy="368.9" r="1.34"/><circle cx="39.9" cy="371.1" r="1.34"/><circle cx="39.7" cy="372.7" r="1.34"/><circle cx="43.8" cy="369.5" r="1.34"/><circle cx="47.1" cy="368.9" r="1.34"/><circle cx="49.9" cy="369.5" r="1.34"/><circle cx="48.8" cy="371.7" r="1.34"/><circle cx="51.6" cy="372.7" r="1.34"/><circle cx="47.7" cy="374.4" r="1.34"/><circle cx="50.5" cy="375.5" r="1.34"/><circle cx="47.1" cy="376.6" r="1.34"/><circle cx="51.0" cy="378.2" r="1.34"/><circle cx="53.2" cy="373.8" r="1.34"/></g>
<g fill="#9b99bc"><circle cx="102.3" cy="284.8" r="1.34"/><circle cx="107.8" cy="262.0" r="1.34"/><circle cx="115.2" cy="260.7" r="1.34"/><circle cx="123.2" cy="260.4" r="1.34"/><circle cx="116.2" cy="265.5" r="1.34"/><circle cx="115.0" cy="265.4" r="1.34"/><circle cx="120.7" cy="269.7" r="1.34"/><circle cx="129.4" cy="267.7" r="1.34"/><circle cx="111.9" cy="270.9" r="1.34"/><circle cx="110.7" cy="271.4" r="1.34"/><circle cx="115.7" cy="274.0" r="1.34"/><circle cx="114.7" cy="276.9" r="1.34"/><circle cx="117.7" cy="272.2" r="1.34"/><circle cx="122.1" cy="275.1" r="1.34"/><circle cx="119.3" cy="276.2" r="1.34"/><circle cx="111.3" cy="283.3" r="1.34"/><circle cx="108.5" cy="286.1" r="1.34"/><circle cx="98.3" cy="285.3" r="1.34"/><circle cx="111.5" cy="307.1" r="1.34"/><circle cx="98.7" cy="285.1" r="1.34"/><circle cx="99.3" cy="286.7" r="1.34"/><circle cx="102.1" cy="284.5" r="1.34"/><circle cx="106.5" cy="285.9" r="1.34"/><circle cx="98.2" cy="290.0" r="1.34"/><circle cx="109.6" cy="261.8" r="1.34"/><circle cx="114.9" cy="260.7" r="1.34"/><circle cx="116.6" cy="258.8" r="1.34"/><circle cx="122.9" cy="259.3" r="1.34"/><circle cx="122.9" cy="261.5" r="1.34"/><circle cx="113.8" cy="264.2" r="1.34"/><circle cx="115.5" cy="265.3" r="1.34"/><circle cx="113.3" cy="265.9" r="1.34"/><circle cx="114.9" cy="268.1" r="1.34"/><circle cx="121.6" cy="265.9" r="1.34"/><circle cx="121.6" cy="268.6" r="1.34"/><circle cx="126.0" cy="269.2" r="1.34"/><circle cx="129.4" cy="269.7" r="1.34"/><circle cx="126.3" cy="271.4" r="1.34"/><circle cx="111.4" cy="271.0" r="1.34"/><circle cx="112.7" cy="273.0" r="1.34"/><circle cx="114.4" cy="274.6" r="1.34"/><circle cx="114.9" cy="276.3" r="1.34"/><circle cx="116.6" cy="270.8" r="1.34"/><circle cx="118.3" cy="271.4" r="1.34"/><circle cx="118.8" cy="274.1" r="1.34"/><circle cx="106.6" cy="274.3" r="1.34"/><circle cx="106.6" cy="276.8" r="1.34"/><circle cx="121.1" cy="277.4" r="1.34"/><circle cx="121.1" cy="280.1" r="1.34"/><circle cx="110.5" cy="281.8" r="1.34"/><circle cx="111.1" cy="283.4" r="1.34"/><circle cx="113.8" cy="284.0" r="1.34"/><circle cx="108.8" cy="288.9" r="1.34"/><circle cx="113.3" cy="290.0" r="1.34"/><circle cx="102.2" cy="284.5" r="1.34"/><circle cx="98.9" cy="285.1" r="1.34"/><circle cx="99.4" cy="286.7" r="1.34"/><circle cx="110.7" cy="260.1" r="1.34"/><circle cx="128.8" cy="264.2" r="1.34"/><circle cx="122.2" cy="275.2" r="1.34"/><circle cx="125.8" cy="275.7" r="1.34"/><circle cx="110.7" cy="286.4" r="1.34"/><circle cx="119.9" cy="272.5" r="1.34"/><circle cx="118.8" cy="262.3" r="1.34"/><circle cx="125.8" cy="264.5" r="1.34"/><circle cx="111.1" cy="278.8" r="1.34"/><circle cx="118.6" cy="283.2" r="1.34"/><circle cx="106.6" cy="285.9" r="1.34"/><circle cx="112.2" cy="307.5" r="1.34"/><circle cx="111.6" cy="311.4" r="1.34"/></g>
<g fill="#5039a8"><circle cx="55.1" cy="309.1" r="1.34"/><circle cx="53.4" cy="310.5" r="1.34"/><circle cx="40.4" cy="311.1" r="1.34"/><circle cx="43.7" cy="310.3" r="1.34"/><circle cx="45.9" cy="307.0" r="1.34"/><circle cx="47.6" cy="308.6" r="1.34"/><circle cx="44.8" cy="312.5" r="1.34"/><circle cx="44.8" cy="316.3" r="1.34"/><circle cx="49.2" cy="307.0" r="1.34"/><circle cx="50.9" cy="308.1" r="1.34"/><circle cx="52.0" cy="309.7" r="1.34"/><circle cx="54.2" cy="305.9" r="1.34"/><circle cx="53.7" cy="311.4" r="1.34"/><circle cx="54.8" cy="313.0" r="1.34"/><circle cx="50.3" cy="315.8" r="1.34"/><circle cx="57.5" cy="315.2" r="1.34"/><circle cx="62.1" cy="304.2" r="1.34"/><circle cx="64.3" cy="306.4" r="1.34"/><circle cx="62.7" cy="312.5" r="1.34"/><circle cx="58.2" cy="315.2" r="1.34"/><circle cx="54.3" cy="306.4" r="1.34"/><circle cx="52.1" cy="308.6" r="1.34"/><circle cx="54.3" cy="311.4" r="1.34"/><circle cx="52.1" cy="313.0" r="1.34"/></g>
<g fill="#b0d7bb"><circle cx="47.1" cy="323.9" r="1.34"/><circle cx="87.2" cy="302.8" r="1.34"/><circle cx="84.4" cy="303.4" r="1.34"/><circle cx="79.8" cy="305.3" r="1.34"/><circle cx="77.1" cy="302.0" r="1.34"/><circle cx="75.8" cy="305.4" r="1.34"/><circle cx="75.4" cy="305.5" r="1.34"/><circle cx="72.3" cy="306.7" r="1.34"/><circle cx="59.6" cy="302.8" r="1.34"/><circle cx="84.9" cy="306.6" r="1.34"/><circle cx="88.1" cy="308.7" r="1.34"/><circle cx="72.1" cy="314.1" r="1.34"/><circle cx="72.9" cy="315.7" r="1.34"/><circle cx="76.0" cy="312.4" r="1.34"/><circle cx="79.1" cy="317.2" r="1.34"/><circle cx="76.5" cy="318.8" r="1.34"/><circle cx="64.0" cy="312.3" r="1.34"/><circle cx="62.9" cy="316.7" r="1.34"/><circle cx="65.1" cy="319.9" r="1.34"/><circle cx="53.1" cy="326.1" r="1.34"/><circle cx="58.4" cy="327.7" r="1.34"/><circle cx="65.5" cy="326.8" r="1.34"/><circle cx="70.6" cy="328.0" r="1.34"/><circle cx="73.1" cy="327.1" r="1.34"/><circle cx="74.9" cy="330.2" r="1.34"/><circle cx="85.6" cy="326.6" r="1.34"/><circle cx="89.7" cy="319.5" r="1.34"/><circle cx="89.8" cy="322.8" r="1.34"/><circle cx="92.3" cy="322.0" r="1.34"/><circle cx="98.8" cy="326.5" r="1.34"/><circle cx="85.1" cy="335.1" r="1.34"/><circle cx="88.4" cy="336.1" r="1.34"/><circle cx="99.4" cy="319.8" r="1.34"/><circle cx="100.3" cy="324.9" r="1.34"/><circle cx="87.4" cy="336.2" r="1.34"/><circle cx="90.8" cy="335.3" r="1.34"/><circle cx="85.5" cy="344.2" r="1.34"/><circle cx="88.3" cy="345.7" r="1.34"/><circle cx="47.0" cy="320.1" r="1.34"/><circle cx="53.7" cy="322.3" r="1.34"/><circle cx="55.9" cy="321.2" r="1.34"/><circle cx="56.4" cy="323.4" r="1.34"/><circle cx="54.2" cy="324.5" r="1.34"/><circle cx="52.0" cy="326.7" r="1.34"/><circle cx="86.5" cy="302.1" r="1.34"/><circle cx="84.3" cy="303.2" r="1.34"/><circle cx="81.0" cy="304.2" r="1.34"/><circle cx="71.5" cy="302.1" r="1.34"/><circle cx="77.1" cy="302.1" r="1.34"/><circle cx="76.0" cy="304.2" r="1.34"/><circle cx="74.9" cy="306.4" r="1.34"/><circle cx="72.7" cy="307.0" r="1.34"/><circle cx="71.0" cy="308.6" r="1.34"/><circle cx="84.3" cy="308.1" r="1.34"/><circle cx="87.1" cy="307.5" r="1.34"/><circle cx="82.6" cy="310.8" r="1.34"/><circle cx="86.0" cy="311.9" r="1.34"/><circle cx="68.2" cy="310.8" r="1.34"/><circle cx="70.4" cy="312.5" r="1.34"/><circle cx="72.1" cy="314.1" r="1.34"/><circle cx="74.3" cy="316.3" r="1.34"/><circle cx="77.6" cy="314.1" r="1.34"/><circle cx="79.9" cy="316.8" r="1.34"/><circle cx="75.4" cy="319.0" r="1.34"/><circle cx="81.5" cy="320.1" r="1.34"/><circle cx="78.8" cy="323.4" r="1.34"/><circle cx="81.0" cy="322.3" r="1.34"/><circle cx="61.6" cy="316.8" r="1.34"/><circle cx="61.0" cy="320.1" r="1.34"/><circle cx="63.2" cy="321.8" r="1.34"/><circle cx="66.0" cy="320.1" r="1.34"/><circle cx="68.8" cy="319.6" r="1.34"/><circle cx="69.9" cy="322.9" r="1.34"/><circle cx="56.0" cy="321.8" r="1.34"/><circle cx="53.2" cy="323.4" r="1.34"/><circle cx="52.1" cy="326.2" r="1.34"/><circle cx="59.9" cy="325.6" r="1.34"/><circle cx="59.3" cy="328.9" r="1.34"/><circle cx="63.8" cy="325.6" r="1.34"/><circle cx="65.4" cy="327.8" r="1.34"/><circle cx="69.3" cy="325.6" r="1.34"/><circle cx="71.0" cy="326.7" r="1.34"/><circle cx="74.3" cy="325.6" r="1.34"/><circle cx="69.9" cy="330.5" r="1.34"/><circle cx="74.9" cy="328.9" r="1.34"/><circle cx="77.6" cy="332.2" r="1.34"/><circle cx="80.4" cy="329.4" r="1.34"/><circle cx="83.2" cy="326.7" r="1.34"/><circle cx="85.4" cy="327.8" r="1.34"/><circle cx="88.7" cy="328.9" r="1.34"/><circle cx="87.6" cy="330.5" r="1.34"/><circle cx="90.4" cy="316.8" r="1.34"/><circle cx="88.7" cy="320.1" r="1.34"/><circle cx="89.3" cy="323.4" r="1.34"/><circle cx="92.1" cy="322.3" r="1.34"/><circle cx="93.2" cy="325.6" r="1.34"/><circle cx="97.1" cy="320.1" r="1.34"/><circle cx="99.3" cy="324.5" r="1.34"/><circle cx="101.0" cy="325.6" r="1.34"/><circle cx="86.5" cy="334.9" r="1.34"/><circle cx="88.7" cy="335.5" r="1.34"/><circle cx="84.3" cy="337.1" r="1.34"/><circle cx="82.6" cy="338.8" r="1.34"/><circle cx="97.8" cy="320.1" r="1.34"/><circle cx="99.4" cy="324.5" r="1.34"/><circle cx="101.1" cy="325.6" r="1.34"/><circle cx="85.5" cy="335.5" r="1.34"/><circle cx="89.4" cy="334.9" r="1.34"/><circle cx="82.8" cy="338.2" r="1.34"/><circle cx="87.2" cy="336.6" r="1.34"/><circle cx="80.0" cy="342.1" r="1.34"/><circle cx="83.3" cy="343.2" r="1.34"/><circle cx="86.6" cy="342.6" r="1.34"/><circle cx="84.4" cy="345.4" r="1.34"/><circle cx="88.3" cy="345.4" r="1.34"/><circle cx="92.5" cy="341.0" r="1.34"/></g>
<g fill="#b0e4e8"><circle cx="79.4" cy="268.1" r="1.34"/><circle cx="83.5" cy="271.0" r="1.34"/><circle cx="88.9" cy="265.7" r="1.34"/><circle cx="88.9" cy="273.5" r="1.34"/><circle cx="93.3" cy="274.1" r="1.34"/><circle cx="91.1" cy="280.0" r="1.34"/><circle cx="98.7" cy="279.5" r="1.34"/><circle cx="77.1" cy="260.7" r="1.34"/><circle cx="77.6" cy="262.0" r="1.34"/><circle cx="79.3" cy="263.1" r="1.34"/><circle cx="80.1" cy="264.5" r="1.34"/><circle cx="76.5" cy="269.7" r="1.34"/><circle cx="81.0" cy="268.1" r="1.34"/><circle cx="82.1" cy="267.5" r="1.34"/><circle cx="81.5" cy="270.8" r="1.34"/><circle cx="83.8" cy="269.7" r="1.34"/><circle cx="84.3" cy="270.8" r="1.34"/><circle cx="85.4" cy="264.8" r="1.34"/><circle cx="87.1" cy="265.9" r="1.34"/><circle cx="88.7" cy="264.8" r="1.34"/><circle cx="87.6" cy="267.5" r="1.34"/><circle cx="86.5" cy="268.1" r="1.34"/><circle cx="88.7" cy="274.1" r="1.34"/><circle cx="89.9" cy="275.2" r="1.34"/><circle cx="91.0" cy="274.1" r="1.34"/><circle cx="90.4" cy="276.8" r="1.34"/><circle cx="91.5" cy="277.9" r="1.34"/><circle cx="94.3" cy="267.0" r="1.34"/><circle cx="96.5" cy="270.3" r="1.34"/><circle cx="95.2" cy="273.5" r="1.34"/><circle cx="96.0" cy="278.5" r="1.34"/><circle cx="97.1" cy="280.1" r="1.34"/><circle cx="97.6" cy="281.8" r="1.34"/><circle cx="98.2" cy="283.4" r="1.34"/><circle cx="76.9" cy="266.6" r="1.34"/><circle cx="84.6" cy="273.5" r="1.34"/><circle cx="99.8" cy="275.4" r="1.34"/><circle cx="97.2" cy="280.7" r="1.34"/><circle cx="97.8" cy="270.8" r="1.34"/><circle cx="99.4" cy="273.0" r="1.34"/><circle cx="99.4" cy="275.7" r="1.34"/></g>
<g fill="none" stroke="#27549a" stroke-opacity="0.45" stroke-width="0.3"><circle cx="25.1" cy="300.7" r="1.45"/><circle cx="16.5" cy="292.2" r="1.45"/><circle cx="19.3" cy="292.7" r="1.45"/><circle cx="22.0" cy="292.7" r="1.45"/><circle cx="25.4" cy="293.3" r="1.45"/><circle cx="28.1" cy="296.0" r="1.45"/><circle cx="17.6" cy="294.9" r="1.45"/><circle cx="20.4" cy="295.5" r="1.45"/><circle cx="23.7" cy="296.6" r="1.45"/><circle cx="26.5" cy="298.2" r="1.45"/><circle cx="13.7" cy="295.5" r="1.45"/><circle cx="12.6" cy="297.1" r="1.45"/><circle cx="11.5" cy="298.8" r="1.45"/><circle cx="10.4" cy="300.2" r="1.45"/><circle cx="18.7" cy="299.9" r="1.45"/><circle cx="17.0" cy="301.3" r="1.45"/><circle cx="15.9" cy="302.6" r="1.45"/><circle cx="23.7" cy="299.3" r="1.45"/><circle cx="25.9" cy="301.0" r="1.45"/><circle cx="23.2" cy="302.6" r="1.45"/><circle cx="27.8" cy="304.6" r="1.45"/><circle cx="12.6" cy="304.8" r="1.45"/><circle cx="14.3" cy="305.1" r="1.45"/><circle cx="17.6" cy="305.9" r="1.45"/><circle cx="19.8" cy="305.1" r="1.45"/><circle cx="17.6" cy="307.0" r="1.45"/></g>
<g fill="none" stroke="#126b3b" stroke-opacity="0.45" stroke-width="0.3"><circle cx="119.4" cy="323.5" r="1.45"/><circle cx="123.8" cy="312.6" r="1.45"/><circle cx="130.2" cy="320.9" r="1.45"/><circle cx="126.8" cy="329.6" r="1.45"/><circle cx="122.1" cy="330.8" r="1.45"/><circle cx="124.8" cy="332.6" r="1.45"/><circle cx="117.7" cy="322.9" r="1.45"/><circle cx="118.8" cy="307.5" r="1.45"/><circle cx="121.6" cy="310.8" r="1.45"/><circle cx="121.1" cy="313.6" r="1.45"/><circle cx="123.8" cy="313.0" r="1.45"/><circle cx="111.6" cy="325.1" r="1.45"/><circle cx="116.6" cy="319.6" r="1.45"/><circle cx="118.3" cy="318.5" r="1.45"/><circle cx="123.3" cy="319.6" r="1.45"/><circle cx="127.2" cy="321.8" r="1.45"/><circle cx="129.4" cy="322.3" r="1.45"/><circle cx="122.7" cy="323.4" r="1.45"/><circle cx="121.1" cy="326.2" r="1.45"/><circle cx="115.5" cy="327.3" r="1.45"/><circle cx="116.6" cy="329.4" r="1.45"/><circle cx="119.4" cy="328.4" r="1.45"/><circle cx="124.4" cy="326.7" r="1.45"/><circle cx="128.3" cy="325.6" r="1.45"/><circle cx="129.4" cy="328.4" r="1.45"/><circle cx="126.0" cy="329.4" r="1.45"/><circle cx="121.1" cy="331.6" r="1.45"/><circle cx="123.8" cy="332.7" r="1.45"/><circle cx="127.2" cy="332.2" r="1.45"/><circle cx="122.7" cy="335.5" r="1.45"/><circle cx="126.0" cy="335.5" r="1.45"/><circle cx="124.4" cy="337.7" r="1.45"/></g>
<g fill="none" stroke="#2389a6" stroke-opacity="0.45" stroke-width="0.3"><circle cx="87.2" cy="293.4" r="1.45"/><circle cx="127.7" cy="295.8" r="1.45"/><circle cx="129.1" cy="294.7" r="1.45"/><circle cx="91.1" cy="298.7" r="1.45"/><circle cx="95.9" cy="297.8" r="1.45"/><circle cx="87.9" cy="300.0" r="1.45"/><circle cx="113.6" cy="292.6" r="1.45"/><circle cx="120.5" cy="292.9" r="1.45"/><circle cx="130.9" cy="293.7" r="1.45"/><circle cx="126.5" cy="302.9" r="1.45"/><circle cx="129.6" cy="300.8" r="1.45"/><circle cx="134.1" cy="303.5" r="1.45"/><circle cx="129.0" cy="305.1" r="1.45"/><circle cx="133.2" cy="303.9" r="1.45"/><circle cx="131.2" cy="311.2" r="1.45"/><circle cx="101.3" cy="294.5" r="1.45"/><circle cx="111.2" cy="303.1" r="1.45"/><circle cx="114.6" cy="297.1" r="1.45"/><circle cx="115.3" cy="301.1" r="1.45"/><circle cx="131.6" cy="312.5" r="1.45"/><circle cx="97.1" cy="293.8" r="1.45"/><circle cx="87.6" cy="294.4" r="1.45"/><circle cx="104.3" cy="291.6" r="1.45"/><circle cx="92.6" cy="296.0" r="1.45"/><circle cx="102.1" cy="295.5" r="1.45"/><circle cx="118.8" cy="286.2" r="1.45"/><circle cx="123.8" cy="290.0" r="1.45"/><circle cx="125.5" cy="290.5" r="1.45"/><circle cx="121.1" cy="292.2" r="1.45"/><circle cx="124.9" cy="293.3" r="1.45"/><circle cx="127.2" cy="293.8" r="1.45"/><circle cx="131.0" cy="293.8" r="1.45"/><circle cx="121.6" cy="295.5" r="1.45"/><circle cx="128.3" cy="295.5" r="1.45"/><circle cx="120.3" cy="288.3" r="1.45"/><circle cx="122.7" cy="285.6" r="1.45"/><circle cx="104.1" cy="291.4" r="1.45"/><circle cx="98.1" cy="291.1" r="1.45"/><circle cx="114.9" cy="293.3" r="1.45"/><circle cx="102.2" cy="295.5" r="1.45"/><circle cx="129.4" cy="292.7" r="1.45"/><circle cx="87.6" cy="294.4" r="1.45"/><circle cx="90.4" cy="297.7" r="1.45"/><circle cx="93.2" cy="296.6" r="1.45"/><circle cx="96.5" cy="299.3" r="1.45"/><circle cx="88.7" cy="299.9" r="1.45"/><circle cx="113.3" cy="290.6" r="1.45"/><circle cx="121.1" cy="292.2" r="1.45"/><circle cx="124.9" cy="291.6" r="1.45"/><circle cx="121.1" cy="296.0" r="1.45"/><circle cx="125.5" cy="296.0" r="1.45"/><circle cx="128.3" cy="297.1" r="1.45"/><circle cx="130.5" cy="294.4" r="1.45"/><circle cx="133.3" cy="296.6" r="1.45"/><circle cx="124.4" cy="299.3" r="1.45"/><circle cx="124.4" cy="301.5" r="1.45"/><circle cx="127.2" cy="300.4" r="1.45"/><circle cx="130.5" cy="301.5" r="1.45"/><circle cx="134.4" cy="303.7" r="1.45"/><circle cx="129.4" cy="304.8" r="1.45"/><circle cx="134.9" cy="304.8" r="1.45"/><circle cx="133.3" cy="308.1" r="1.45"/><circle cx="132.1" cy="310.8" r="1.45"/><circle cx="138.8" cy="304.2" r="1.45"/><circle cx="143.2" cy="303.2" r="1.45"/><circle cx="145.5" cy="301.5" r="1.45"/><circle cx="132.1" cy="298.8" r="1.45"/><circle cx="140.5" cy="301.0" r="1.45"/><circle cx="142.7" cy="301.0" r="1.45"/><circle cx="102.2" cy="295.5" r="1.45"/><circle cx="103.9" cy="291.6" r="1.45"/><circle cx="114.9" cy="293.8" r="1.45"/><circle cx="97.2" cy="294.4" r="1.45"/><circle cx="102.2" cy="298.8" r="1.45"/><circle cx="101.1" cy="301.0" r="1.45"/><circle cx="104.4" cy="301.5" r="1.45"/><circle cx="107.7" cy="298.8" r="1.45"/><circle cx="108.8" cy="301.5" r="1.45"/><circle cx="111.1" cy="302.1" r="1.45"/><circle cx="112.2" cy="297.7" r="1.45"/><circle cx="114.9" cy="298.8" r="1.45"/><circle cx="115.5" cy="301.5" r="1.45"/><circle cx="129.9" cy="313.0" r="1.45"/><circle cx="128.3" cy="308.6" r="1.45"/></g>
<g fill="none" stroke="#4f9a5b" stroke-opacity="0.45" stroke-width="0.3"><circle cx="78.7" cy="372.2" r="1.45"/><circle cx="101.6" cy="377.7" r="1.45"/><circle cx="82.2" cy="378.9" r="1.45"/><circle cx="89.3" cy="378.4" r="1.45"/><circle cx="93.7" cy="379.1" r="1.45"/><circle cx="78.7" cy="371.1" r="1.45"/><circle cx="88.6" cy="374.0" r="1.45"/><circle cx="98.6" cy="377.0" r="1.45"/><circle cx="83.4" cy="379.0" r="1.45"/><circle cx="86.7" cy="377.3" r="1.45"/><circle cx="89.5" cy="377.9" r="1.45"/><circle cx="85.6" cy="380.6" r="1.45"/><circle cx="88.4" cy="380.6" r="1.45"/><circle cx="87.8" cy="383.3" r="1.45"/><circle cx="90.0" cy="382.8" r="1.45"/><circle cx="92.3" cy="379.0" r="1.45"/><circle cx="94.5" cy="381.2" r="1.45"/><circle cx="96.7" cy="382.8" r="1.45"/><circle cx="98.9" cy="382.3" r="1.45"/><circle cx="100.0" cy="385.0" r="1.45"/><circle cx="102.2" cy="386.1" r="1.45"/><circle cx="104.5" cy="383.9" r="1.45"/><circle cx="106.7" cy="388.3" r="1.45"/><circle cx="100.0" cy="389.0" r="1.45"/><circle cx="103.9" cy="387.2" r="1.45"/></g>
<g fill="none" stroke="#0b474d" stroke-opacity="0.45" stroke-width="0.3"><circle cx="58.0" cy="349.7" r="1.45"/><circle cx="65.4" cy="352.3" r="1.45"/><circle cx="59.7" cy="354.4" r="1.45"/><circle cx="59.8" cy="355.8" r="1.45"/><circle cx="46.8" cy="325.4" r="1.45"/><circle cx="57.7" cy="349.2" r="1.45"/><circle cx="54.9" cy="354.1" r="1.45"/><circle cx="61.0" cy="350.8" r="1.45"/><circle cx="63.8" cy="350.8" r="1.45"/><circle cx="65.4" cy="351.4" r="1.45"/><circle cx="59.9" cy="353.6" r="1.45"/><circle cx="62.7" cy="354.1" r="1.45"/><circle cx="58.8" cy="356.3" r="1.45"/><circle cx="62.1" cy="356.9" r="1.45"/><circle cx="59.3" cy="359.6" r="1.45"/><circle cx="61.5" cy="360.7" r="1.45"/><circle cx="62.7" cy="362.9" r="1.45"/><circle cx="56.0" cy="364.5" r="1.45"/><circle cx="73.0" cy="345.9" r="1.45"/><circle cx="73.0" cy="345.9" r="1.45"/></g>
<g fill="none" stroke="#7d77a8" stroke-opacity="0.45" stroke-width="0.3"><circle cx="56.1" cy="368.6" r="1.45"/><circle cx="40.0" cy="371.3" r="1.45"/><circle cx="41.3" cy="371.2" r="1.45"/><circle cx="47.2" cy="378.3" r="1.45"/><circle cx="56.6" cy="369.5" r="1.45"/><circle cx="40.1" cy="366.2" r="1.45"/><circle cx="41.0" cy="368.9" r="1.45"/><circle cx="39.9" cy="371.1" r="1.45"/><circle cx="39.7" cy="372.7" r="1.45"/><circle cx="43.8" cy="369.5" r="1.45"/><circle cx="47.1" cy="368.9" r="1.45"/><circle cx="49.9" cy="369.5" r="1.45"/><circle cx="48.8" cy="371.7" r="1.45"/><circle cx="51.6" cy="372.7" r="1.45"/><circle cx="47.7" cy="374.4" r="1.45"/><circle cx="50.5" cy="375.5" r="1.45"/><circle cx="47.1" cy="376.6" r="1.45"/><circle cx="51.0" cy="378.2" r="1.45"/><circle cx="53.2" cy="373.8" r="1.45"/></g>
<g fill="none" stroke="#5a5878" stroke-opacity="0.45" stroke-width="0.3"><circle cx="102.3" cy="284.8" r="1.45"/><circle cx="107.8" cy="262.0" r="1.45"/><circle cx="115.2" cy="260.7" r="1.45"/><circle cx="123.2" cy="260.4" r="1.45"/><circle cx="116.2" cy="265.5" r="1.45"/><circle cx="115.0" cy="265.4" r="1.45"/><circle cx="120.7" cy="269.7" r="1.45"/><circle cx="129.4" cy="267.7" r="1.45"/><circle cx="111.9" cy="270.9" r="1.45"/><circle cx="110.7" cy="271.4" r="1.45"/><circle cx="115.7" cy="274.0" r="1.45"/><circle cx="114.7" cy="276.9" r="1.45"/><circle cx="117.7" cy="272.2" r="1.45"/><circle cx="122.1" cy="275.1" r="1.45"/><circle cx="119.3" cy="276.2" r="1.45"/><circle cx="111.3" cy="283.3" r="1.45"/><circle cx="108.5" cy="286.1" r="1.45"/><circle cx="98.3" cy="285.3" r="1.45"/><circle cx="111.5" cy="307.1" r="1.45"/><circle cx="98.7" cy="285.1" r="1.45"/><circle cx="99.3" cy="286.7" r="1.45"/><circle cx="102.1" cy="284.5" r="1.45"/><circle cx="106.5" cy="285.9" r="1.45"/><circle cx="98.2" cy="290.0" r="1.45"/><circle cx="109.6" cy="261.8" r="1.45"/><circle cx="114.9" cy="260.7" r="1.45"/><circle cx="116.6" cy="258.8" r="1.45"/><circle cx="122.9" cy="259.3" r="1.45"/><circle cx="122.9" cy="261.5" r="1.45"/><circle cx="113.8" cy="264.2" r="1.45"/><circle cx="115.5" cy="265.3" r="1.45"/><circle cx="113.3" cy="265.9" r="1.45"/><circle cx="114.9" cy="268.1" r="1.45"/><circle cx="121.6" cy="265.9" r="1.45"/><circle cx="121.6" cy="268.6" r="1.45"/><circle cx="126.0" cy="269.2" r="1.45"/><circle cx="129.4" cy="269.7" r="1.45"/><circle cx="126.3" cy="271.4" r="1.45"/><circle cx="111.4" cy="271.0" r="1.45"/><circle cx="112.7" cy="273.0" r="1.45"/><circle cx="114.4" cy="274.6" r="1.45"/><circle cx="114.9" cy="276.3" r="1.45"/><circle cx="116.6" cy="270.8" r="1.45"/><circle cx="118.3" cy="271.4" r="1.45"/><circle cx="118.8" cy="274.1" r="1.45"/><circle cx="106.6" cy="274.3" r="1.45"/><circle cx="106.6" cy="276.8" r="1.45"/><circle cx="121.1" cy="277.4" r="1.45"/><circle cx="121.1" cy="280.1" r="1.45"/><circle cx="110.5" cy="281.8" r="1.45"/><circle cx="111.1" cy="283.4" r="1.45"/><circle cx="113.8" cy="284.0" r="1.45"/><circle cx="108.8" cy="288.9" r="1.45"/><circle cx="113.3" cy="290.0" r="1.45"/><circle cx="102.2" cy="284.5" r="1.45"/><circle cx="98.9" cy="285.1" r="1.45"/><circle cx="99.4" cy="286.7" r="1.45"/><circle cx="110.7" cy="260.1" r="1.45"/><circle cx="128.8" cy="264.2" r="1.45"/><circle cx="122.2" cy="275.2" r="1.45"/><circle cx="125.8" cy="275.7" r="1.45"/><circle cx="110.7" cy="286.4" r="1.45"/><circle cx="119.9" cy="272.5" r="1.45"/><circle cx="118.8" cy="262.3" r="1.45"/><circle cx="125.8" cy="264.5" r="1.45"/><circle cx="111.1" cy="278.8" r="1.45"/><circle cx="118.6" cy="283.2" r="1.45"/><circle cx="106.6" cy="285.9" r="1.45"/><circle cx="112.2" cy="307.5" r="1.45"/><circle cx="111.6" cy="311.4" r="1.45"/></g>
<g fill="none" stroke="#2b1c68" stroke-opacity="0.45" stroke-width="0.3"><circle cx="55.1" cy="309.1" r="1.45"/><circle cx="53.4" cy="310.5" r="1.45"/><circle cx="40.4" cy="311.1" r="1.45"/><circle cx="43.7" cy="310.3" r="1.45"/><circle cx="45.9" cy="307.0" r="1.45"/><circle cx="47.6" cy="308.6" r="1.45"/><circle cx="44.8" cy="312.5" r="1.45"/><circle cx="44.8" cy="316.3" r="1.45"/><circle cx="49.2" cy="307.0" r="1.45"/><circle cx="50.9" cy="308.1" r="1.45"/><circle cx="52.0" cy="309.7" r="1.45"/><circle cx="54.2" cy="305.9" r="1.45"/><circle cx="53.7" cy="311.4" r="1.45"/><circle cx="54.8" cy="313.0" r="1.45"/><circle cx="50.3" cy="315.8" r="1.45"/><circle cx="57.5" cy="315.2" r="1.45"/><circle cx="62.1" cy="304.2" r="1.45"/><circle cx="64.3" cy="306.4" r="1.45"/><circle cx="62.7" cy="312.5" r="1.45"/><circle cx="58.2" cy="315.2" r="1.45"/><circle cx="54.3" cy="306.4" r="1.45"/><circle cx="52.1" cy="308.6" r="1.45"/><circle cx="54.3" cy="311.4" r="1.45"/><circle cx="52.1" cy="313.0" r="1.45"/></g>
<g fill="none" stroke="#769c82" stroke-opacity="0.45" stroke-width="0.3"><circle cx="47.1" cy="323.9" r="1.45"/><circle cx="87.2" cy="302.8" r="1.45"/><circle cx="84.4" cy="303.4" r="1.45"/><circle cx="79.8" cy="305.3" r="1.45"/><circle cx="77.1" cy="302.0" r="1.45"/><circle cx="75.8" cy="305.4" r="1.45"/><circle cx="75.4" cy="305.5" r="1.45"/><circle cx="72.3" cy="306.7" r="1.45"/><circle cx="59.6" cy="302.8" r="1.45"/><circle cx="84.9" cy="306.6" r="1.45"/><circle cx="88.1" cy="308.7" r="1.45"/><circle cx="72.1" cy="314.1" r="1.45"/><circle cx="72.9" cy="315.7" r="1.45"/><circle cx="76.0" cy="312.4" r="1.45"/><circle cx="79.1" cy="317.2" r="1.45"/><circle cx="76.5" cy="318.8" r="1.45"/><circle cx="64.0" cy="312.3" r="1.45"/><circle cx="62.9" cy="316.7" r="1.45"/><circle cx="65.1" cy="319.9" r="1.45"/><circle cx="53.1" cy="326.1" r="1.45"/><circle cx="58.4" cy="327.7" r="1.45"/><circle cx="65.5" cy="326.8" r="1.45"/><circle cx="70.6" cy="328.0" r="1.45"/><circle cx="73.1" cy="327.1" r="1.45"/><circle cx="74.9" cy="330.2" r="1.45"/><circle cx="85.6" cy="326.6" r="1.45"/><circle cx="89.7" cy="319.5" r="1.45"/><circle cx="89.8" cy="322.8" r="1.45"/><circle cx="92.3" cy="322.0" r="1.45"/><circle cx="98.8" cy="326.5" r="1.45"/><circle cx="85.1" cy="335.1" r="1.45"/><circle cx="88.4" cy="336.1" r="1.45"/><circle cx="99.4" cy="319.8" r="1.45"/><circle cx="100.3" cy="324.9" r="1.45"/><circle cx="87.4" cy="336.2" r="1.45"/><circle cx="90.8" cy="335.3" r="1.45"/><circle cx="85.5" cy="344.2" r="1.45"/><circle cx="88.3" cy="345.7" r="1.45"/><circle cx="47.0" cy="320.1" r="1.45"/><circle cx="53.7" cy="322.3" r="1.45"/><circle cx="55.9" cy="321.2" r="1.45"/><circle cx="56.4" cy="323.4" r="1.45"/><circle cx="54.2" cy="324.5" r="1.45"/><circle cx="52.0" cy="326.7" r="1.45"/><circle cx="86.5" cy="302.1" r="1.45"/><circle cx="84.3" cy="303.2" r="1.45"/><circle cx="81.0" cy="304.2" r="1.45"/><circle cx="71.5" cy="302.1" r="1.45"/><circle cx="77.1" cy="302.1" r="1.45"/><circle cx="76.0" cy="304.2" r="1.45"/><circle cx="74.9" cy="306.4" r="1.45"/><circle cx="72.7" cy="307.0" r="1.45"/><circle cx="71.0" cy="308.6" r="1.45"/><circle cx="84.3" cy="308.1" r="1.45"/><circle cx="87.1" cy="307.5" r="1.45"/><circle cx="82.6" cy="310.8" r="1.45"/><circle cx="86.0" cy="311.9" r="1.45"/><circle cx="68.2" cy="310.8" r="1.45"/><circle cx="70.4" cy="312.5" r="1.45"/><circle cx="72.1" cy="314.1" r="1.45"/><circle cx="74.3" cy="316.3" r="1.45"/><circle cx="77.6" cy="314.1" r="1.45"/><circle cx="79.9" cy="316.8" r="1.45"/><circle cx="75.4" cy="319.0" r="1.45"/><circle cx="81.5" cy="320.1" r="1.45"/><circle cx="78.8" cy="323.4" r="1.45"/><circle cx="81.0" cy="322.3" r="1.45"/><circle cx="61.6" cy="316.8" r="1.45"/><circle cx="61.0" cy="320.1" r="1.45"/><circle cx="63.2" cy="321.8" r="1.45"/><circle cx="66.0" cy="320.1" r="1.45"/><circle cx="68.8" cy="319.6" r="1.45"/><circle cx="69.9" cy="322.9" r="1.45"/><circle cx="56.0" cy="321.8" r="1.45"/><circle cx="53.2" cy="323.4" r="1.45"/><circle cx="52.1" cy="326.2" r="1.45"/><circle cx="59.9" cy="325.6" r="1.45"/><circle cx="59.3" cy="328.9" r="1.45"/><circle cx="63.8" cy="325.6" r="1.45"/><circle cx="65.4" cy="327.8" r="1.45"/><circle cx="69.3" cy="325.6" r="1.45"/><circle cx="71.0" cy="326.7" r="1.45"/><circle cx="74.3" cy="325.6" r="1.45"/><circle cx="69.9" cy="330.5" r="1.45"/><circle cx="74.9" cy="328.9" r="1.45"/><circle cx="77.6" cy="332.2" r="1.45"/><circle cx="80.4" cy="329.4" r="1.45"/><circle cx="83.2" cy="326.7" r="1.45"/><circle cx="85.4" cy="327.8" r="1.45"/><circle cx="88.7" cy="328.9" r="1.45"/><circle cx="87.6" cy="330.5" r="1.45"/><circle cx="90.4" cy="316.8" r="1.45"/><circle cx="88.7" cy="320.1" r="1.45"/><circle cx="89.3" cy="323.4" r="1.45"/><circle cx="92.1" cy="322.3" r="1.45"/><circle cx="93.2" cy="325.6" r="1.45"/><circle cx="97.1" cy="320.1" r="1.45"/><circle cx="99.3" cy="324.5" r="1.45"/><circle cx="101.0" cy="325.6" r="1.45"/><circle cx="86.5" cy="334.9" r="1.45"/><circle cx="88.7" cy="335.5" r="1.45"/><circle cx="84.3" cy="337.1" r="1.45"/><circle cx="82.6" cy="338.8" r="1.45"/><circle cx="97.8" cy="320.1" r="1.45"/><circle cx="99.4" cy="324.5" r="1.45"/><circle cx="101.1" cy="325.6" r="1.45"/><circle cx="85.5" cy="335.5" r="1.45"/><circle cx="89.4" cy="334.9" r="1.45"/><circle cx="82.8" cy="338.2" r="1.45"/><circle cx="87.2" cy="336.6" r="1.45"/><circle cx="80.0" cy="342.1" r="1.45"/><circle cx="83.3" cy="343.2" r="1.45"/><circle cx="86.6" cy="342.6" r="1.45"/><circle cx="84.4" cy="345.4" r="1.45"/><circle cx="88.3" cy="345.4" r="1.45"/><circle cx="92.5" cy="341.0" r="1.45"/></g>
<g fill="none" stroke="#76acb0" stroke-opacity="0.45" stroke-width="0.3"><circle cx="79.4" cy="268.1" r="1.45"/><circle cx="83.5" cy="271.0" r="1.45"/><circle cx="88.9" cy="265.7" r="1.45"/><circle cx="88.9" cy="273.5" r="1.45"/><circle cx="93.3" cy="274.1" r="1.45"/><circle cx="91.1" cy="280.0" r="1.45"/><circle cx="98.7" cy="279.5" r="1.45"/><circle cx="77.1" cy="260.7" r="1.45"/><circle cx="77.6" cy="262.0" r="1.45"/><circle cx="79.3" cy="263.1" r="1.45"/><circle cx="80.1" cy="264.5" r="1.45"/><circle cx="76.5" cy="269.7" r="1.45"/><circle cx="81.0" cy="268.1" r="1.45"/><circle cx="82.1" cy="267.5" r="1.45"/><circle cx="81.5" cy="270.8" r="1.45"/><circle cx="83.8" cy="269.7" r="1.45"/><circle cx="84.3" cy="270.8" r="1.45"/><circle cx="85.4" cy="264.8" r="1.45"/><circle cx="87.1" cy="265.9" r="1.45"/><circle cx="88.7" cy="264.8" r="1.45"/><circle cx="87.6" cy="267.5" r="1.45"/><circle cx="86.5" cy="268.1" r="1.45"/><circle cx="88.7" cy="274.1" r="1.45"/><circle cx="89.9" cy="275.2" r="1.45"/><circle cx="91.0" cy="274.1" r="1.45"/><circle cx="90.4" cy="276.8" r="1.45"/><circle cx="91.5" cy="277.9" r="1.45"/><circle cx="94.3" cy="267.0" r="1.45"/><circle cx="96.5" cy="270.3" r="1.45"/><circle cx="95.2" cy="273.5" r="1.45"/><circle cx="96.0" cy="278.5" r="1.45"/><circle cx="97.1" cy="280.1" r="1.45"/><circle cx="97.6" cy="281.8" r="1.45"/><circle cx="98.2" cy="283.4" r="1.45"/><circle cx="76.9" cy="266.6" r="1.45"/><circle cx="84.6" cy="273.5" r="1.45"/><circle cx="99.8" cy="275.4" r="1.45"/><circle cx="97.2" cy="280.7" r="1.45"/><circle cx="97.8" cy="270.8" r="1.45"/><circle cx="99.4" cy="273.0" r="1.45"/><circle cx="99.4" cy="275.7" r="1.45"/></g>
<text x="17.5" y="303.8" font-size="9.2" font-weight="bold" text-anchor="middle" fill="#000">1</text>
<text x="48.7" y="313.4" font-size="8.6" font-weight="bold" text-anchor="middle" fill="#000">8</text>
<text x="57.1" y="356.2" font-size="8.6" font-weight="bold" text-anchor="middle" fill="#000">5</text>
<text x="48.7" y="374.0" font-size="8.6" font-weight="bold" text-anchor="middle" fill="#000">6</text>
<text x="93.1" y="382.5" font-size="8.6" font-weight="bold" text-anchor="middle" fill="#000">4</text>
<text x="85.6" y="273.4" font-size="8.6" font-weight="bold" text-anchor="middle" fill="#000">10</text>
<text x="120.2" y="270.0" font-size="8.6" font-weight="bold" text-anchor="middle" fill="#000">7</text>
<text x="128.3" y="302.1" font-size="8.6" font-weight="bold" text-anchor="middle" fill="#000">3</text>
<text x="79.0" y="322.2" font-size="8.6" font-weight="bold" text-anchor="middle" fill="#000">9</text>
<text x="122.3" y="330.8" font-size="10.6" font-weight="bold" text-anchor="middle" fill="#000">2</text>
<text x="54.5" y="236.6" font-size="9.1" font-weight="bold">Clusters</text>
<text x="7.6" y="220.8" font-size="10.6" font-weight="bold">B</text>
</g>
<g id="bars">
<rect x="195.20" y="249.50" width="12.3" height="98.85" fill="#d20f1a"/>
<circle cx="201.3" cy="242.3" r="3.2" fill="#2f5fb5"/>
<text x="201.3" y="235.9" font-size="6.6" text-anchor="middle">1</text>
<path d="M201.3,348.6 V351.3" stroke="#111" stroke-width="0.8"/>
<rect x="211.75" y="338.33" width="12.3" height="10.02" fill="#128a3c"/>
<rect x="211.75" y="262.33" width="12.3" height="76.15" fill="#12a9c4"/>
<rect x="211.75" y="259.86" width="12.3" height="2.62" fill="#f7a535"/>
<rect x="211.75" y="249.50" width="12.3" height="10.51" fill="#9e7468"/>
<circle cx="217.9" cy="242.3" r="3.2" fill="#138c3e"/>
<text x="217.9" y="235.9" font-size="6.6" text-anchor="middle">2</text>
<path d="M217.9,348.6 V351.3" stroke="#111" stroke-width="0.8"/>
<rect x="228.30" y="343.76" width="12.3" height="4.59" fill="#128a3c"/>
<rect x="228.30" y="340.30" width="12.3" height="3.60" fill="#12a9c4"/>
<rect x="228.30" y="327.97" width="12.3" height="12.49" fill="#e283b9"/>
<rect x="228.30" y="272.20" width="12.3" height="55.92" fill="#f7a535"/>
<rect x="228.30" y="264.31" width="12.3" height="8.05" fill="#4d3514"/>
<rect x="228.30" y="249.50" width="12.3" height="14.96" fill="#9e7468"/>
<circle cx="234.4" cy="242.3" r="3.2" fill="#27b7dc"/>
<text x="234.4" y="235.9" font-size="6.6" text-anchor="middle">3</text>
<path d="M234.4,348.6 V351.3" stroke="#111" stroke-width="0.8"/>
<rect x="244.85" y="249.50" width="12.3" height="98.85" fill="#0b535a"/>
<circle cx="251.0" cy="242.3" r="3.2" fill="#7cc47c"/>
<text x="251.0" y="235.9" font-size="6.6" text-anchor="middle">4</text>
<path d="M251.0,348.6 V351.3" stroke="#111" stroke-width="0.8"/>
<rect x="261.40" y="293.91" width="12.3" height="54.44" fill="#5c4a9c"/>
<rect x="261.40" y="284.04" width="12.3" height="10.02" fill="#128a3c"/>
<rect x="261.40" y="274.17" width="12.3" height="10.02" fill="#f7a535"/>
<rect x="261.40" y="249.50" width="12.3" height="24.82" fill="#9e7468"/>
<circle cx="267.5" cy="242.3" r="3.2" fill="#0e5257"/>
<text x="267.5" y="235.9" font-size="6.6" text-anchor="middle">5</text>
<path d="M267.5,348.6 V351.3" stroke="#111" stroke-width="0.8"/>
<rect x="277.95" y="343.96" width="12.3" height="4.39" fill="#1f3f9c"/>
<rect x="277.95" y="249.50" width="12.3" height="94.61" fill="#65bfb0"/>
<circle cx="284.1" cy="242.3" r="3.2" fill="#a59bd6"/>
<text x="284.1" y="235.9" font-size="6.6" text-anchor="middle">6</text>
<path d="M284.1,348.6 V351.3" stroke="#111" stroke-width="0.8"/>
<rect x="294.50" y="345.14" width="12.3" height="3.21" fill="#12a9c4"/>
<rect x="294.50" y="343.76" width="12.3" height="1.53" fill="#e283b9"/>
<rect x="294.50" y="341.98" width="12.3" height="1.93" fill="#5b0a3d"/>
<rect x="294.50" y="252.66" width="12.3" height="89.47" fill="#f7a535"/>
<rect x="294.50" y="249.50" width="12.3" height="3.31" fill="#9e7468"/>
<circle cx="300.6" cy="242.3" r="3.2" fill="#74729a"/>
<text x="300.6" y="235.9" font-size="6.6" text-anchor="middle">7</text>
<path d="M300.6,348.6 V351.3" stroke="#111" stroke-width="0.8"/>
<rect x="311.05" y="344.25" width="12.3" height="4.10" fill="#5c4a9c"/>
<rect x="311.05" y="325.70" width="12.3" height="18.71" fill="#128a3c"/>
<rect x="311.05" y="303.59" width="12.3" height="22.26" fill="#e283b9"/>
<rect x="311.05" y="249.50" width="12.3" height="54.24" fill="#9e7468"/>
<circle cx="317.2" cy="242.3" r="3.2" fill="#2f2a8c"/>
<text x="317.2" y="235.9" font-size="6.6" text-anchor="middle">8</text>
<path d="M317.2,348.6 V351.3" stroke="#111" stroke-width="0.8"/>
<rect x="327.60" y="302.60" width="12.3" height="45.75" fill="#128a3c"/>
<rect x="327.60" y="301.02" width="12.3" height="1.73" fill="#65bfb0"/>
<rect x="327.60" y="290.95" width="12.3" height="10.22" fill="#9dc41c"/>
<rect x="327.60" y="285.23" width="12.3" height="5.87" fill="#e283b9"/>
<rect x="327.60" y="284.54" width="12.3" height="0.84" fill="#1f3f9c"/>
<rect x="327.60" y="282.86" width="12.3" height="1.83" fill="#0b535a"/>
<rect x="327.60" y="249.50" width="12.3" height="33.51" fill="#9e7468"/>
<circle cx="333.8" cy="242.3" r="3.2" fill="#8fb895"/>
<text x="333.8" y="235.9" font-size="6.6" text-anchor="middle">9</text>
<path d="M333.8,348.6 V351.3" stroke="#111" stroke-width="0.8"/>
<rect x="344.15" y="345.54" width="12.3" height="2.81" fill="#5b0a3d"/>
<rect x="344.15" y="249.50" width="12.3" height="96.19" fill="#f7a535"/>
<circle cx="350.3" cy="242.3" r="3.2" fill="#9fd9dc"/>
<text x="350.3" y="235.9" font-size="6.6" text-anchor="middle">10</text>
<path d="M350.3,348.6 V351.3" stroke="#111" stroke-width="0.8"/>
<path d="M190.6,244.3 V348.2 H361" fill="none" stroke="#000" stroke-width="1.15"/>
<path d="M188.4,348.2 H190.6" stroke="#111" stroke-width="0.8"/>
<text x="185.5" y="351.0" font-size="7.9" text-anchor="end">0.0</text>
<path d="M188.4,328.5 H190.6" stroke="#111" stroke-width="0.8"/>
<text x="185.5" y="331.3" font-size="7.9" text-anchor="end">0.2</text>
<path d="M188.4,308.7 H190.6" stroke="#111" stroke-width="0.8"/>
<text x="185.5" y="311.5" font-size="7.9" text-anchor="end">0.4</text>
<path d="M188.4,289.0 H190.6" stroke="#111" stroke-width="0.8"/>
<text x="185.5" y="291.8" font-size="7.9" text-anchor="end">0.6</text>
<path d="M188.4,269.2 H190.6" stroke="#111" stroke-width="0.8"/>
<text x="185.5" y="272.0" font-size="7.9" text-anchor="end">0.8</text>
<path d="M188.4,249.5 H190.6" stroke="#111" stroke-width="0.8"/>
<text x="185.5" y="252.3" font-size="7.9" text-anchor="end">1.0</text>
<text transform="translate(168.5,296.6) rotate(-90)" font-size="9.2" text-anchor="middle" textLength="57" lengthAdjust="spacingAndGlyphs">Proportion of cluster</text>
<circle cx="202.9" cy="436" r="2.2" fill="#d20f1a"/>
<text transform="translate(205.2,431) rotate(-90)" font-size="6.5" textLength="60.8" lengthAdjust="spacingAndGlyphs">CBFB-MYH11 (28)</text>
<circle cx="214.8" cy="436" r="2.2" fill="#5c4a9c"/>
<text transform="translate(217.1,431) rotate(-90)" font-size="6.5" textLength="44.4" lengthAdjust="spacingAndGlyphs">CEBPAbi (13)</text>
<circle cx="226.6" cy="436" r="2.2" fill="#128a3c"/>
<text transform="translate(228.9,431) rotate(-90)" font-size="6.5" textLength="24.2" lengthAdjust="spacingAndGlyphs">CK (65)</text>
<circle cx="238.4" cy="436" r="2.2" fill="#12a9c4"/>
<text transform="translate(240.8,431) rotate(-90)" font-size="6.5" textLength="41.5" lengthAdjust="spacingAndGlyphs">KMT2A-r (35)</text>
<circle cx="250.3" cy="436" r="2.2" fill="#9dc41c"/>
<text transform="translate(252.6,431) rotate(-90)" font-size="6.5" textLength="46.7" lengthAdjust="spacingAndGlyphs">MECOM-r (12)</text>
<circle cx="262.1" cy="436" r="2.2" fill="#e283b9"/>
<text transform="translate(264.4,431) rotate(-90)" font-size="6.5" textLength="50.2" lengthAdjust="spacingAndGlyphs">NK (others) (23)</text>
<circle cx="274.0" cy="436" r="2.2" fill="#5b0a3d"/>
<text transform="translate(276.3,431) rotate(-90)" font-size="6.5" textLength="38.2" lengthAdjust="spacingAndGlyphs">NPM1e5 (2)</text>
<circle cx="285.9" cy="436" r="2.2" fill="#f7a535"/>
<text transform="translate(288.2,431) rotate(-90)" font-size="6.5" textLength="51.1" lengthAdjust="spacingAndGlyphs">NPM1e12 (125)</text>
<circle cx="297.7" cy="436" r="2.2" fill="#4d3514"/>
<text transform="translate(300.0,431) rotate(-90)" font-size="6.5" textLength="56.3" lengthAdjust="spacingAndGlyphs">NUP98-NSD1 (5)</text>
<circle cx="309.6" cy="436" r="2.2" fill="#0b535a"/>
<text transform="translate(311.9,431) rotate(-90)" font-size="6.5" textLength="50.2" lengthAdjust="spacingAndGlyphs">PML-RARA (30)</text>
<circle cx="321.4" cy="436" r="2.2" fill="#1f3f9c"/>
<text transform="translate(323.7,431) rotate(-90)" font-size="6.5" textLength="67.9" lengthAdjust="spacingAndGlyphs">RUNX1-CBFA2T3 (1)</text>
<circle cx="333.2" cy="436" r="2.2" fill="#65bfb0"/>
<text transform="translate(335.6,431) rotate(-90)" font-size="6.5" textLength="73.7" lengthAdjust="spacingAndGlyphs">RUNX1-RUNX1T1 (20)</text>
<circle cx="345.1" cy="436" r="2.2" fill="#9e7468"/>
<text transform="translate(347.4,431) rotate(-90)" font-size="6.5" textLength="31.9" lengthAdjust="spacingAndGlyphs">Other (71)</text>
</g>
<g id="Grp">
<circle cx="445.0" cy="273.4" r="1.45" fill="#fbb047" stroke="#d9953a" stroke-width="0.3"/><circle cx="449.1" cy="276.3" r="1.45" fill="#fbb047" stroke="#d9953a" stroke-width="0.3"/><circle cx="454.5" cy="271.0" r="1.45" fill="#fbb047" stroke="#d9953a" stroke-width="0.3"/><circle cx="454.5" cy="278.8" r="1.45" fill="#fbb047" stroke="#d9953a" stroke-width="0.3"/><circle cx="458.9" cy="279.4" r="1.45" fill="#fbb047" stroke="#d9953a" stroke-width="0.3"/><circle cx="456.7" cy="285.3" r="1.45" fill="#fbb047" stroke="#d9953a" stroke-width="0.3"/><circle cx="464.3" cy="284.8" r="1.45" fill="#fbb047" stroke="#d9953a" stroke-width="0.3"/><circle cx="467.9" cy="290.1" r="1.45" fill="#fbb047" stroke="#d9953a" stroke-width="0.3"/><circle cx="452.8" cy="298.7" r="1.45" fill="#3ec5e8" stroke="#2a9cc0" stroke-width="0.3"/><circle cx="473.4" cy="267.3" r="1.45" fill="#fbb047" stroke="#d9953a" stroke-width="0.3"/><circle cx="480.8" cy="266.0" r="1.45" fill="#fbb047" stroke="#d9953a" stroke-width="0.3"/><circle cx="488.8" cy="265.7" r="1.45" fill="#fbb047" stroke="#d9953a" stroke-width="0.3"/><circle cx="481.8" cy="270.8" r="1.45" fill="#fbb047" stroke="#d9953a" stroke-width="0.3"/><circle cx="480.6" cy="270.7" r="1.45" fill="#fbb047" stroke="#d9953a" stroke-width="0.3"/><circle cx="486.3" cy="275.0" r="1.45" fill="#fbb047" stroke="#d9953a" stroke-width="0.3"/><circle cx="495.0" cy="273.0" r="1.45" fill="#fbb047" stroke="#d9953a" stroke-width="0.3"/><circle cx="477.5" cy="276.2" r="1.45" fill="#fbb047" stroke="#d9953a" stroke-width="0.3"/><circle cx="476.3" cy="276.7" r="1.45" fill="#fbb047" stroke="#d9953a" stroke-width="0.3"/><circle cx="481.3" cy="279.3" r="1.45" fill="#fbb047" stroke="#d9953a" stroke-width="0.3"/><circle cx="480.3" cy="282.2" r="1.45" fill="#fbb047" stroke="#d9953a" stroke-width="0.3"/><circle cx="483.3" cy="277.5" r="1.45" fill="#fbb047" stroke="#d9953a" stroke-width="0.3"/><circle cx="487.7" cy="280.4" r="1.45" fill="#fbb047" stroke="#d9953a" stroke-width="0.3"/><circle cx="484.9" cy="281.5" r="1.45" fill="#fbb047" stroke="#d9953a" stroke-width="0.3"/><circle cx="476.9" cy="288.6" r="1.45" fill="#fbb047" stroke="#d9953a" stroke-width="0.3"/><circle cx="474.1" cy="291.4" r="1.45" fill="#fbb047" stroke="#d9953a" stroke-width="0.3"/><circle cx="463.9" cy="290.6" r="1.45" fill="#fbb047" stroke="#d9953a" stroke-width="0.3"/><circle cx="493.3" cy="301.1" r="1.45" fill="#fbb047" stroke="#d9953a" stroke-width="0.3"/><circle cx="494.7" cy="300.0" r="1.45" fill="#3ec5e8" stroke="#2a9cc0" stroke-width="0.3"/><circle cx="390.7" cy="306.0" r="1.45" fill="#ee2226" stroke="#b01a1e" stroke-width="0.3"/><circle cx="420.7" cy="314.4" r="1.45" fill="#f7a8d4" stroke="#d483b0" stroke-width="0.3"/><circle cx="412.7" cy="329.2" r="1.45" fill="#1f9c3c" stroke="#14702a" stroke-width="0.3"/><circle cx="456.7" cy="304.0" r="1.45" fill="#f7a8d4" stroke="#d483b0" stroke-width="0.3"/><circle cx="461.5" cy="303.1" r="1.45" fill="#f7a8d4" stroke="#d483b0" stroke-width="0.3"/><circle cx="453.5" cy="305.3" r="1.45" fill="#1f9c3c" stroke="#14702a" stroke-width="0.3"/><circle cx="452.8" cy="308.1" r="1.45" fill="#c6a396" stroke="#9a7a6e" stroke-width="0.3"/><circle cx="450.0" cy="308.7" r="1.45" fill="#c6a396" stroke="#9a7a6e" stroke-width="0.3"/><circle cx="445.4" cy="310.6" r="1.45" fill="#c6a396" stroke="#9a7a6e" stroke-width="0.3"/><circle cx="442.7" cy="307.3" r="1.45" fill="#c6a396" stroke="#9a7a6e" stroke-width="0.3"/><circle cx="441.4" cy="310.7" r="1.45" fill="#1f9c3c" stroke="#14702a" stroke-width="0.3"/><circle cx="441.0" cy="310.8" r="1.45" fill="#1f9c3c" stroke="#14702a" stroke-width="0.3"/><circle cx="437.9" cy="312.0" r="1.45" fill="#c3d93a" stroke="#98ac28" stroke-width="0.3"/><circle cx="425.2" cy="308.1" r="1.45" fill="#c6a396" stroke="#9a7a6e" stroke-width="0.3"/><circle cx="450.5" cy="311.9" r="1.45" fill="#c6a396" stroke="#9a7a6e" stroke-width="0.3"/><circle cx="453.7" cy="314.0" r="1.45" fill="#c6a396" stroke="#9a7a6e" stroke-width="0.3"/><circle cx="437.7" cy="319.4" r="1.45" fill="#c3d93a" stroke="#98ac28" stroke-width="0.3"/><circle cx="438.5" cy="321.0" r="1.45" fill="#f7a8d4" stroke="#d483b0" stroke-width="0.3"/><circle cx="441.6" cy="317.7" r="1.45" fill="#1f9c3c" stroke="#14702a" stroke-width="0.3"/><circle cx="444.7" cy="322.5" r="1.45" fill="#c6a396" stroke="#9a7a6e" stroke-width="0.3"/><circle cx="442.1" cy="324.1" r="1.45" fill="#1f9c3c" stroke="#14702a" stroke-width="0.3"/><circle cx="429.6" cy="317.6" r="1.45" fill="#f7a8d4" stroke="#d483b0" stroke-width="0.3"/><circle cx="428.5" cy="322.0" r="1.45" fill="#c3d93a" stroke="#98ac28" stroke-width="0.3"/><circle cx="419.0" cy="315.8" r="1.45" fill="#1f9c3c" stroke="#14702a" stroke-width="0.3"/><circle cx="430.7" cy="325.2" r="1.45" fill="#c3d93a" stroke="#98ac28" stroke-width="0.3"/><circle cx="418.7" cy="331.4" r="1.45" fill="#c6a396" stroke="#9a7a6e" stroke-width="0.3"/><circle cx="424.0" cy="333.0" r="1.45" fill="#1f9c3c" stroke="#14702a" stroke-width="0.3"/><circle cx="431.1" cy="332.1" r="1.45" fill="#1f9c3c" stroke="#14702a" stroke-width="0.3"/><circle cx="436.2" cy="333.3" r="1.45" fill="#1f9c3c" stroke="#14702a" stroke-width="0.3"/><circle cx="438.7" cy="332.4" r="1.45" fill="#1f9c3c" stroke="#14702a" stroke-width="0.3"/><circle cx="440.5" cy="335.5" r="1.45" fill="#1f9c3c" stroke="#14702a" stroke-width="0.3"/><circle cx="451.2" cy="331.9" r="1.45" fill="#1f9c3c" stroke="#14702a" stroke-width="0.3"/><circle cx="455.3" cy="324.8" r="1.45" fill="#1f9c3c" stroke="#14702a" stroke-width="0.3"/><circle cx="455.4" cy="328.1" r="1.45" fill="#c3d93a" stroke="#98ac28" stroke-width="0.3"/><circle cx="457.9" cy="327.3" r="1.45" fill="#c6a396" stroke="#9a7a6e" stroke-width="0.3"/><circle cx="464.4" cy="331.8" r="1.45" fill="#c6a396" stroke="#9a7a6e" stroke-width="0.3"/><circle cx="450.7" cy="340.4" r="1.45" fill="#c3d93a" stroke="#98ac28" stroke-width="0.3"/><circle cx="454.0" cy="341.4" r="1.45" fill="#1f9c3c" stroke="#14702a" stroke-width="0.3"/><circle cx="479.2" cy="297.9" r="1.45" fill="#fbb047" stroke="#d9953a" stroke-width="0.3"/><circle cx="486.1" cy="298.2" r="1.45" fill="#fbb047" stroke="#d9953a" stroke-width="0.3"/><circle cx="496.5" cy="299.0" r="1.45" fill="#fbb047" stroke="#d9953a" stroke-width="0.3"/><circle cx="492.1" cy="308.2" r="1.45" fill="#fbb047" stroke="#d9953a" stroke-width="0.3"/><circle cx="495.2" cy="306.1" r="1.45" fill="#fbb047" stroke="#d9953a" stroke-width="0.3"/><circle cx="499.7" cy="308.8" r="1.45" fill="#fbb047" stroke="#d9953a" stroke-width="0.3"/><circle cx="494.6" cy="310.4" r="1.45" fill="#fbb047" stroke="#d9953a" stroke-width="0.3"/><circle cx="498.8" cy="309.2" r="1.45" fill="#fbb047" stroke="#d9953a" stroke-width="0.3"/><circle cx="496.8" cy="316.5" r="1.45" fill="#fbb047" stroke="#d9953a" stroke-width="0.3"/><circle cx="485.0" cy="328.8" r="1.45" fill="#fbb047" stroke="#d9953a" stroke-width="0.3"/><circle cx="466.9" cy="299.8" r="1.45" fill="#f7a8d4" stroke="#d483b0" stroke-width="0.3"/><circle cx="476.8" cy="308.4" r="1.45" fill="#7a5a2a" stroke="#4a3414" stroke-width="0.3"/><circle cx="480.2" cy="302.4" r="1.45" fill="#c6a396" stroke="#9a7a6e" stroke-width="0.3"/><circle cx="480.9" cy="306.4" r="1.45" fill="#c6a396" stroke="#9a7a6e" stroke-width="0.3"/><circle cx="477.1" cy="312.4" r="1.45" fill="#3ec5e8" stroke="#2a9cc0" stroke-width="0.3"/><circle cx="489.4" cy="317.9" r="1.45" fill="#1f9c3c" stroke="#14702a" stroke-width="0.3"/><circle cx="497.2" cy="317.8" r="1.45" fill="#1f9c3c" stroke="#14702a" stroke-width="0.3"/><circle cx="465.0" cy="325.1" r="1.45" fill="#1f9c3c" stroke="#14702a" stroke-width="0.3"/><circle cx="465.9" cy="330.2" r="1.45" fill="#c6a396" stroke="#9a7a6e" stroke-width="0.3"/><circle cx="495.8" cy="326.2" r="1.45" fill="#3ec5e8" stroke="#2a9cc0" stroke-width="0.3"/><circle cx="492.4" cy="334.9" r="1.45" fill="#3ec5e8" stroke="#2a9cc0" stroke-width="0.3"/><circle cx="487.7" cy="336.1" r="1.45" fill="#3ec5e8" stroke="#2a9cc0" stroke-width="0.3"/><circle cx="490.4" cy="337.9" r="1.45" fill="#3ec5e8" stroke="#2a9cc0" stroke-width="0.3"/><circle cx="423.6" cy="355.0" r="1.45" fill="#8a6cc8" stroke="#6248a0" stroke-width="0.3"/><circle cx="431.0" cy="357.6" r="1.45" fill="#8a6cc8" stroke="#6248a0" stroke-width="0.3"/><circle cx="425.3" cy="359.7" r="1.45" fill="#8a6cc8" stroke="#6248a0" stroke-width="0.3"/><circle cx="425.4" cy="361.1" r="1.45" fill="#8a6cc8" stroke="#6248a0" stroke-width="0.3"/><circle cx="421.7" cy="373.9" r="1.45" fill="#7fd3c8" stroke="#55a89e" stroke-width="0.3"/><circle cx="405.6" cy="376.6" r="1.45" fill="#7fd3c8" stroke="#55a89e" stroke-width="0.3"/><circle cx="406.9" cy="376.5" r="1.45" fill="#7fd3c8" stroke="#55a89e" stroke-width="0.3"/><circle cx="412.8" cy="383.6" r="1.45" fill="#7fd3c8" stroke="#55a89e" stroke-width="0.3"/><circle cx="453.0" cy="341.5" r="1.45" fill="#1f9c3c" stroke="#14702a" stroke-width="0.3"/><circle cx="456.4" cy="340.6" r="1.45" fill="#c6a396" stroke="#9a7a6e" stroke-width="0.3"/><circle cx="451.1" cy="349.5" r="1.45" fill="#1f9c3c" stroke="#14702a" stroke-width="0.3"/><circle cx="453.9" cy="351.0" r="1.45" fill="#c6a396" stroke="#9a7a6e" stroke-width="0.3"/><circle cx="444.3" cy="377.5" r="1.45" fill="#17757d" stroke="#0f555c" stroke-width="0.3"/><circle cx="467.2" cy="383.0" r="1.45" fill="#17757d" stroke="#0f555c" stroke-width="0.3"/><circle cx="447.8" cy="384.2" r="1.45" fill="#17757d" stroke="#0f555c" stroke-width="0.3"/><circle cx="454.9" cy="383.7" r="1.45" fill="#17757d" stroke="#0f555c" stroke-width="0.3"/><circle cx="459.3" cy="384.4" r="1.45" fill="#17757d" stroke="#0f555c" stroke-width="0.3"/><circle cx="442.7" cy="266.0" r="1.45" fill="#fbb047" stroke="#d9953a" stroke-width="0.3"/><circle cx="443.2" cy="267.3" r="1.45" fill="#fbb047" stroke="#d9953a" stroke-width="0.3"/><circle cx="444.9" cy="268.4" r="1.45" fill="#fbb047" stroke="#d9953a" stroke-width="0.3"/><circle cx="445.7" cy="269.8" r="1.45" fill="#fbb047" stroke="#d9953a" stroke-width="0.3"/><circle cx="442.1" cy="275.0" r="1.45" fill="#fbb047" stroke="#d9953a" stroke-width="0.3"/><circle cx="446.6" cy="273.4" r="1.45" fill="#fbb047" stroke="#d9953a" stroke-width="0.3"/><circle cx="447.7" cy="272.8" r="1.45" fill="#fbb047" stroke="#d9953a" stroke-width="0.3"/><circle cx="447.1" cy="276.1" r="1.45" fill="#fbb047" stroke="#d9953a" stroke-width="0.3"/><circle cx="449.4" cy="275.0" r="1.45" fill="#fbb047" stroke="#d9953a" stroke-width="0.3"/><circle cx="449.9" cy="276.1" r="1.45" fill="#fbb047" stroke="#d9953a" stroke-width="0.3"/><circle cx="451.0" cy="270.1" r="1.45" fill="#fbb047" stroke="#d9953a" stroke-width="0.3"/><circle cx="452.7" cy="271.2" r="1.45" fill="#fbb047" stroke="#d9953a" stroke-width="0.3"/><circle cx="454.3" cy="270.1" r="1.45" fill="#fbb047" stroke="#d9953a" stroke-width="0.3"/><circle cx="453.2" cy="272.8" r="1.45" fill="#fbb047" stroke="#d9953a" stroke-width="0.3"/><circle cx="452.1" cy="273.4" r="1.45" fill="#fbb047" stroke="#d9953a" stroke-width="0.3"/><circle cx="454.3" cy="279.4" r="1.45" fill="#fbb047" stroke="#d9953a" stroke-width="0.3"/><circle cx="455.5" cy="280.5" r="1.45" fill="#fbb047" stroke="#d9953a" stroke-width="0.3"/><circle cx="456.6" cy="279.4" r="1.45" fill="#fbb047" stroke="#d9953a" stroke-width="0.3"/><circle cx="456.0" cy="282.1" r="1.45" fill="#fbb047" stroke="#d9953a" stroke-width="0.3"/><circle cx="457.1" cy="283.2" r="1.45" fill="#fbb047" stroke="#d9953a" stroke-width="0.3"/><circle cx="459.9" cy="272.3" r="1.45" fill="#fbb047" stroke="#d9953a" stroke-width="0.3"/><circle cx="462.1" cy="275.6" r="1.45" fill="#fbb047" stroke="#d9953a" stroke-width="0.3"/><circle cx="460.8" cy="278.8" r="1.45" fill="#fbb047" stroke="#d9953a" stroke-width="0.3"/><circle cx="461.6" cy="283.8" r="1.45" fill="#fbb047" stroke="#d9953a" stroke-width="0.3"/><circle cx="462.7" cy="285.4" r="1.45" fill="#fbb047" stroke="#d9953a" stroke-width="0.3"/><circle cx="463.2" cy="287.1" r="1.45" fill="#fbb047" stroke="#d9953a" stroke-width="0.3"/><circle cx="463.8" cy="288.7" r="1.45" fill="#fbb047" stroke="#d9953a" stroke-width="0.3"/><circle cx="464.3" cy="290.4" r="1.45" fill="#fbb047" stroke="#d9953a" stroke-width="0.3"/><circle cx="464.9" cy="292.0" r="1.45" fill="#fbb047" stroke="#d9953a" stroke-width="0.3"/><circle cx="467.7" cy="289.8" r="1.45" fill="#fbb047" stroke="#d9953a" stroke-width="0.3"/><circle cx="442.5" cy="271.9" r="1.45" fill="#fbb047" stroke="#d9953a" stroke-width="0.3"/><circle cx="450.2" cy="278.8" r="1.45" fill="#fbb047" stroke="#d9953a" stroke-width="0.3"/><circle cx="465.4" cy="280.7" r="1.45" fill="#fbb047" stroke="#d9953a" stroke-width="0.3"/><circle cx="472.1" cy="291.2" r="1.45" fill="#fbb047" stroke="#d9953a" stroke-width="0.3"/><circle cx="463.8" cy="295.3" r="1.45" fill="#c6a396" stroke="#9a7a6e" stroke-width="0.3"/><circle cx="462.7" cy="299.1" r="1.45" fill="#c6a396" stroke="#9a7a6e" stroke-width="0.3"/><circle cx="453.2" cy="299.7" r="1.45" fill="#3ec5e8" stroke="#2a9cc0" stroke-width="0.3"/><circle cx="469.9" cy="296.9" r="1.45" fill="#f7a8d4" stroke="#d483b0" stroke-width="0.3"/><circle cx="458.2" cy="301.3" r="1.45" fill="#1f9c3c" stroke="#14702a" stroke-width="0.3"/><circle cx="467.7" cy="300.8" r="1.45" fill="#f7a8d4" stroke="#d483b0" stroke-width="0.3"/><circle cx="475.2" cy="267.1" r="1.45" fill="#fbb047" stroke="#d9953a" stroke-width="0.3"/><circle cx="480.5" cy="266.0" r="1.45" fill="#fbb047" stroke="#d9953a" stroke-width="0.3"/><circle cx="482.2" cy="264.1" r="1.45" fill="#fbb047" stroke="#d9953a" stroke-width="0.3"/><circle cx="488.5" cy="264.6" r="1.45" fill="#fbb047" stroke="#d9953a" stroke-width="0.3"/><circle cx="488.5" cy="266.8" r="1.45" fill="#fbb047" stroke="#d9953a" stroke-width="0.3"/><circle cx="479.4" cy="269.5" r="1.45" fill="#fbb047" stroke="#d9953a" stroke-width="0.3"/><circle cx="481.1" cy="270.6" r="1.45" fill="#fbb047" stroke="#d9953a" stroke-width="0.3"/><circle cx="478.9" cy="271.2" r="1.45" fill="#fbb047" stroke="#d9953a" stroke-width="0.3"/><circle cx="480.5" cy="273.4" r="1.45" fill="#fbb047" stroke="#d9953a" stroke-width="0.3"/><circle cx="487.2" cy="271.2" r="1.45" fill="#fbb047" stroke="#d9953a" stroke-width="0.3"/><circle cx="487.2" cy="273.9" r="1.45" fill="#fbb047" stroke="#d9953a" stroke-width="0.3"/><circle cx="491.6" cy="274.5" r="1.45" fill="#fbb047" stroke="#d9953a" stroke-width="0.3"/><circle cx="495.0" cy="275.0" r="1.45" fill="#fbb047" stroke="#d9953a" stroke-width="0.3"/><circle cx="491.9" cy="276.7" r="1.45" fill="#fbb047" stroke="#d9953a" stroke-width="0.3"/><circle cx="477.0" cy="276.3" r="1.45" fill="#fbb047" stroke="#d9953a" stroke-width="0.3"/><circle cx="478.3" cy="278.3" r="1.45" fill="#fbb047" stroke="#d9953a" stroke-width="0.3"/><circle cx="480.0" cy="279.9" r="1.45" fill="#fbb047" stroke="#d9953a" stroke-width="0.3"/><circle cx="480.5" cy="281.6" r="1.45" fill="#fbb047" stroke="#d9953a" stroke-width="0.3"/><circle cx="482.2" cy="276.1" r="1.45" fill="#fbb047" stroke="#d9953a" stroke-width="0.3"/><circle cx="483.9" cy="276.7" r="1.45" fill="#fbb047" stroke="#d9953a" stroke-width="0.3"/><circle cx="484.4" cy="279.4" r="1.45" fill="#fbb047" stroke="#d9953a" stroke-width="0.3"/><circle cx="472.2" cy="279.6" r="1.45" fill="#fbb047" stroke="#d9953a" stroke-width="0.3"/><circle cx="472.2" cy="282.1" r="1.45" fill="#fbb047" stroke="#d9953a" stroke-width="0.3"/><circle cx="486.7" cy="282.7" r="1.45" fill="#fbb047" stroke="#d9953a" stroke-width="0.3"/><circle cx="486.7" cy="285.4" r="1.45" fill="#fbb047" stroke="#d9953a" stroke-width="0.3"/><circle cx="476.1" cy="287.1" r="1.45" fill="#fbb047" stroke="#d9953a" stroke-width="0.3"/><circle cx="476.7" cy="288.7" r="1.45" fill="#fbb047" stroke="#d9953a" stroke-width="0.3"/><circle cx="479.4" cy="289.3" r="1.45" fill="#fbb047" stroke="#d9953a" stroke-width="0.3"/><circle cx="484.4" cy="291.5" r="1.45" fill="#fbb047" stroke="#d9953a" stroke-width="0.3"/><circle cx="474.4" cy="294.2" r="1.45" fill="#fbb047" stroke="#d9953a" stroke-width="0.3"/><circle cx="478.9" cy="295.3" r="1.45" fill="#fbb047" stroke="#d9953a" stroke-width="0.3"/><circle cx="467.8" cy="289.8" r="1.45" fill="#fbb047" stroke="#d9953a" stroke-width="0.3"/><circle cx="464.5" cy="290.4" r="1.45" fill="#fbb047" stroke="#d9953a" stroke-width="0.3"/><circle cx="465.0" cy="292.0" r="1.45" fill="#fbb047" stroke="#d9953a" stroke-width="0.3"/><circle cx="462.8" cy="286.0" r="1.45" fill="#fbb047" stroke="#d9953a" stroke-width="0.3"/><circle cx="463.4" cy="276.1" r="1.45" fill="#fbb047" stroke="#d9953a" stroke-width="0.3"/><circle cx="489.4" cy="295.3" r="1.45" fill="#fbb047" stroke="#d9953a" stroke-width="0.3"/><circle cx="491.1" cy="295.8" r="1.45" fill="#fbb047" stroke="#d9953a" stroke-width="0.3"/><circle cx="486.7" cy="297.5" r="1.45" fill="#fbb047" stroke="#d9953a" stroke-width="0.3"/><circle cx="490.5" cy="298.6" r="1.45" fill="#fbb047" stroke="#d9953a" stroke-width="0.3"/><circle cx="492.8" cy="299.1" r="1.45" fill="#fbb047" stroke="#d9953a" stroke-width="0.3"/><circle cx="496.6" cy="299.1" r="1.45" fill="#fbb047" stroke="#d9953a" stroke-width="0.3"/><circle cx="487.2" cy="300.8" r="1.45" fill="#fbb047" stroke="#d9953a" stroke-width="0.3"/><circle cx="493.9" cy="300.8" r="1.45" fill="#fbb047" stroke="#d9953a" stroke-width="0.3"/><circle cx="465.0" cy="278.3" r="1.45" fill="#fbb047" stroke="#d9953a" stroke-width="0.3"/><circle cx="465.0" cy="281.0" r="1.45" fill="#fbb047" stroke="#d9953a" stroke-width="0.3"/><circle cx="476.3" cy="265.4" r="1.45" fill="#fbb047" stroke="#d9953a" stroke-width="0.3"/><circle cx="494.4" cy="269.5" r="1.45" fill="#fbb047" stroke="#d9953a" stroke-width="0.3"/><circle cx="487.8" cy="280.5" r="1.45" fill="#fbb047" stroke="#d9953a" stroke-width="0.3"/><circle cx="491.4" cy="281.0" r="1.45" fill="#fbb047" stroke="#d9953a" stroke-width="0.3"/><circle cx="485.9" cy="293.6" r="1.45" fill="#fbb047" stroke="#d9953a" stroke-width="0.3"/><circle cx="476.3" cy="291.7" r="1.45" fill="#fbb047" stroke="#d9953a" stroke-width="0.3"/><circle cx="485.5" cy="277.8" r="1.45" fill="#fbb047" stroke="#d9953a" stroke-width="0.3"/><circle cx="484.4" cy="267.6" r="1.45" fill="#fbb047" stroke="#d9953a" stroke-width="0.3"/><circle cx="491.4" cy="269.8" r="1.45" fill="#fbb047" stroke="#d9953a" stroke-width="0.3"/><circle cx="476.7" cy="284.1" r="1.45" fill="#fbb047" stroke="#d9953a" stroke-width="0.3"/><circle cx="488.3" cy="290.9" r="1.45" fill="#fbb047" stroke="#d9953a" stroke-width="0.3"/><circle cx="484.2" cy="288.5" r="1.45" fill="#fbb047" stroke="#d9953a" stroke-width="0.3"/><circle cx="472.2" cy="291.2" r="1.45" fill="#fbb047" stroke="#d9953a" stroke-width="0.3"/><circle cx="469.7" cy="296.7" r="1.45" fill="#f7a8d4" stroke="#d483b0" stroke-width="0.3"/><circle cx="463.7" cy="296.4" r="1.45" fill="#c6a396" stroke="#9a7a6e" stroke-width="0.3"/><circle cx="480.5" cy="298.6" r="1.45" fill="#c6a396" stroke="#9a7a6e" stroke-width="0.3"/><circle cx="467.8" cy="300.8" r="1.45" fill="#f7a8d4" stroke="#d483b0" stroke-width="0.3"/><circle cx="495.0" cy="298.0" r="1.45" fill="#3ec5e8" stroke="#2a9cc0" stroke-width="0.3"/><circle cx="382.1" cy="297.5" r="1.45" fill="#ee2226" stroke="#b01a1e" stroke-width="0.3"/><circle cx="384.9" cy="298.0" r="1.45" fill="#ee2226" stroke="#b01a1e" stroke-width="0.3"/><circle cx="387.6" cy="298.0" r="1.45" fill="#ee2226" stroke="#b01a1e" stroke-width="0.3"/><circle cx="391.0" cy="298.6" r="1.45" fill="#ee2226" stroke="#b01a1e" stroke-width="0.3"/><circle cx="393.7" cy="301.3" r="1.45" fill="#ee2226" stroke="#b01a1e" stroke-width="0.3"/><circle cx="383.2" cy="300.2" r="1.45" fill="#ee2226" stroke="#b01a1e" stroke-width="0.3"/><circle cx="386.0" cy="300.8" r="1.45" fill="#ee2226" stroke="#b01a1e" stroke-width="0.3"/><circle cx="389.3" cy="301.9" r="1.45" fill="#ee2226" stroke="#b01a1e" stroke-width="0.3"/><circle cx="392.1" cy="303.5" r="1.45" fill="#ee2226" stroke="#b01a1e" stroke-width="0.3"/><circle cx="379.3" cy="300.8" r="1.45" fill="#ee2226" stroke="#b01a1e" stroke-width="0.3"/><circle cx="378.2" cy="302.4" r="1.45" fill="#ee2226" stroke="#b01a1e" stroke-width="0.3"/><circle cx="377.1" cy="304.1" r="1.45" fill="#ee2226" stroke="#b01a1e" stroke-width="0.3"/><circle cx="376.0" cy="305.5" r="1.45" fill="#ee2226" stroke="#b01a1e" stroke-width="0.3"/><circle cx="384.3" cy="305.2" r="1.45" fill="#ee2226" stroke="#b01a1e" stroke-width="0.3"/><circle cx="382.6" cy="306.6" r="1.45" fill="#ee2226" stroke="#b01a1e" stroke-width="0.3"/><circle cx="381.5" cy="307.9" r="1.45" fill="#ee2226" stroke="#b01a1e" stroke-width="0.3"/><circle cx="389.3" cy="304.6" r="1.45" fill="#ee2226" stroke="#b01a1e" stroke-width="0.3"/><circle cx="391.5" cy="306.3" r="1.45" fill="#ee2226" stroke="#b01a1e" stroke-width="0.3"/><circle cx="388.8" cy="307.9" r="1.45" fill="#ee2226" stroke="#b01a1e" stroke-width="0.3"/><circle cx="393.4" cy="309.9" r="1.45" fill="#ee2226" stroke="#b01a1e" stroke-width="0.3"/><circle cx="378.2" cy="310.1" r="1.45" fill="#ee2226" stroke="#b01a1e" stroke-width="0.3"/><circle cx="379.9" cy="310.4" r="1.45" fill="#ee2226" stroke="#b01a1e" stroke-width="0.3"/><circle cx="383.2" cy="311.2" r="1.45" fill="#ee2226" stroke="#b01a1e" stroke-width="0.3"/><circle cx="385.4" cy="310.4" r="1.45" fill="#ee2226" stroke="#b01a1e" stroke-width="0.3"/><circle cx="383.2" cy="312.3" r="1.45" fill="#ee2226" stroke="#b01a1e" stroke-width="0.3"/><circle cx="406.0" cy="316.4" r="1.45" fill="#1f9c3c" stroke="#14702a" stroke-width="0.3"/><circle cx="409.3" cy="315.6" r="1.45" fill="#c6a396" stroke="#9a7a6e" stroke-width="0.3"/><circle cx="411.5" cy="312.3" r="1.45" fill="#f7a8d4" stroke="#d483b0" stroke-width="0.3"/><circle cx="413.2" cy="313.9" r="1.45" fill="#f7a8d4" stroke="#d483b0" stroke-width="0.3"/><circle cx="410.4" cy="317.8" r="1.45" fill="#c6a396" stroke="#9a7a6e" stroke-width="0.3"/><circle cx="410.4" cy="321.6" r="1.45" fill="#c6a396" stroke="#9a7a6e" stroke-width="0.3"/><circle cx="414.8" cy="312.3" r="1.45" fill="#f7a8d4" stroke="#d483b0" stroke-width="0.3"/><circle cx="416.5" cy="313.4" r="1.45" fill="#f7a8d4" stroke="#d483b0" stroke-width="0.3"/><circle cx="417.6" cy="315.0" r="1.45" fill="#c6a396" stroke="#9a7a6e" stroke-width="0.3"/><circle cx="419.8" cy="311.2" r="1.45" fill="#c6a396" stroke="#9a7a6e" stroke-width="0.3"/><circle cx="419.3" cy="316.7" r="1.45" fill="#1f9c3c" stroke="#14702a" stroke-width="0.3"/><circle cx="420.4" cy="318.3" r="1.45" fill="#8a6cc8" stroke="#6248a0" stroke-width="0.3"/><circle cx="415.9" cy="321.1" r="1.45" fill="#c6a396" stroke="#9a7a6e" stroke-width="0.3"/><circle cx="423.1" cy="320.5" r="1.45" fill="#c6a396" stroke="#9a7a6e" stroke-width="0.3"/><circle cx="412.6" cy="325.4" r="1.45" fill="#f7a8d4" stroke="#d483b0" stroke-width="0.3"/><circle cx="412.4" cy="330.7" r="1.45" fill="#1f9c3c" stroke="#14702a" stroke-width="0.3"/><circle cx="419.3" cy="327.6" r="1.45" fill="#c6a396" stroke="#9a7a6e" stroke-width="0.3"/><circle cx="421.5" cy="326.5" r="1.45" fill="#c6a396" stroke="#9a7a6e" stroke-width="0.3"/><circle cx="422.0" cy="328.7" r="1.45" fill="#c6a396" stroke="#9a7a6e" stroke-width="0.3"/><circle cx="419.8" cy="329.8" r="1.45" fill="#17757d" stroke="#0f555c" stroke-width="0.3"/><circle cx="417.6" cy="332.0" r="1.45" fill="#c6a396" stroke="#9a7a6e" stroke-width="0.3"/><circle cx="453.2" cy="299.7" r="1.45" fill="#3ec5e8" stroke="#2a9cc0" stroke-width="0.3"/><circle cx="456.0" cy="303.0" r="1.45" fill="#f7a8d4" stroke="#d483b0" stroke-width="0.3"/><circle cx="458.8" cy="301.9" r="1.45" fill="#1f9c3c" stroke="#14702a" stroke-width="0.3"/><circle cx="462.1" cy="304.6" r="1.45" fill="#f7a8d4" stroke="#d483b0" stroke-width="0.3"/><circle cx="454.3" cy="305.2" r="1.45" fill="#1f9c3c" stroke="#14702a" stroke-width="0.3"/><circle cx="452.1" cy="307.4" r="1.45" fill="#c6a396" stroke="#9a7a6e" stroke-width="0.3"/><circle cx="449.9" cy="308.5" r="1.45" fill="#c6a396" stroke="#9a7a6e" stroke-width="0.3"/><circle cx="446.6" cy="309.5" r="1.45" fill="#f7a8d4" stroke="#d483b0" stroke-width="0.3"/><circle cx="437.1" cy="307.4" r="1.45" fill="#c6a396" stroke="#9a7a6e" stroke-width="0.3"/><circle cx="442.7" cy="307.4" r="1.45" fill="#c6a396" stroke="#9a7a6e" stroke-width="0.3"/><circle cx="441.6" cy="309.5" r="1.45" fill="#f7a8d4" stroke="#d483b0" stroke-width="0.3"/><circle cx="440.5" cy="311.7" r="1.45" fill="#1f9c3c" stroke="#14702a" stroke-width="0.3"/><circle cx="438.3" cy="312.3" r="1.45" fill="#1f9c3c" stroke="#14702a" stroke-width="0.3"/><circle cx="436.6" cy="313.9" r="1.45" fill="#1f9c3c" stroke="#14702a" stroke-width="0.3"/><circle cx="427.7" cy="309.5" r="1.45" fill="#f7a8d4" stroke="#d483b0" stroke-width="0.3"/><circle cx="429.9" cy="311.7" r="1.45" fill="#1f9c3c" stroke="#14702a" stroke-width="0.3"/><circle cx="449.9" cy="313.4" r="1.45" fill="#1f9c3c" stroke="#14702a" stroke-width="0.3"/><circle cx="452.7" cy="312.8" r="1.45" fill="#c6a396" stroke="#9a7a6e" stroke-width="0.3"/><circle cx="448.2" cy="316.1" r="1.45" fill="#c6a396" stroke="#9a7a6e" stroke-width="0.3"/><circle cx="451.6" cy="317.2" r="1.45" fill="#c6a396" stroke="#9a7a6e" stroke-width="0.3"/><circle cx="433.8" cy="316.1" r="1.45" fill="#c3d93a" stroke="#98ac28" stroke-width="0.3"/><circle cx="436.0" cy="317.8" r="1.45" fill="#c3d93a" stroke="#98ac28" stroke-width="0.3"/><circle cx="437.7" cy="319.4" r="1.45" fill="#c3d93a" stroke="#98ac28" stroke-width="0.3"/><circle cx="439.9" cy="321.6" r="1.45" fill="#8a6cc8" stroke="#6248a0" stroke-width="0.3"/><circle cx="443.2" cy="319.4" r="1.45" fill="#1f9c3c" stroke="#14702a" stroke-width="0.3"/><circle cx="445.5" cy="322.1" r="1.45" fill="#c6a396" stroke="#9a7a6e" stroke-width="0.3"/><circle cx="441.0" cy="324.3" r="1.45" fill="#1f9c3c" stroke="#14702a" stroke-width="0.3"/><circle cx="447.1" cy="325.4" r="1.45" fill="#1f9c3c" stroke="#14702a" stroke-width="0.3"/><circle cx="444.4" cy="328.7" r="1.45" fill="#c6a396" stroke="#9a7a6e" stroke-width="0.3"/><circle cx="446.6" cy="327.6" r="1.45" fill="#1f9c3c" stroke="#14702a" stroke-width="0.3"/><circle cx="428.3" cy="317.8" r="1.45" fill="#f7a8d4" stroke="#d483b0" stroke-width="0.3"/><circle cx="423.8" cy="320.5" r="1.45" fill="#c6a396" stroke="#9a7a6e" stroke-width="0.3"/><circle cx="427.2" cy="322.1" r="1.45" fill="#c3d93a" stroke="#98ac28" stroke-width="0.3"/><circle cx="419.9" cy="311.7" r="1.45" fill="#c6a396" stroke="#9a7a6e" stroke-width="0.3"/><circle cx="417.7" cy="313.9" r="1.45" fill="#c6a396" stroke="#9a7a6e" stroke-width="0.3"/><circle cx="419.9" cy="316.7" r="1.45" fill="#1f9c3c" stroke="#14702a" stroke-width="0.3"/><circle cx="417.7" cy="318.3" r="1.45" fill="#c6a396" stroke="#9a7a6e" stroke-width="0.3"/><circle cx="426.6" cy="325.4" r="1.45" fill="#c3d93a" stroke="#98ac28" stroke-width="0.3"/><circle cx="428.8" cy="327.1" r="1.45" fill="#c3d93a" stroke="#98ac28" stroke-width="0.3"/><circle cx="431.6" cy="325.4" r="1.45" fill="#c3d93a" stroke="#98ac28" stroke-width="0.3"/><circle cx="434.4" cy="324.9" r="1.45" fill="#1f9c3c" stroke="#14702a" stroke-width="0.3"/><circle cx="435.5" cy="328.2" r="1.45" fill="#1f9c3c" stroke="#14702a" stroke-width="0.3"/><circle cx="421.6" cy="327.1" r="1.45" fill="#c6a396" stroke="#9a7a6e" stroke-width="0.3"/><circle cx="418.8" cy="328.7" r="1.45" fill="#c6a396" stroke="#9a7a6e" stroke-width="0.3"/><circle cx="417.7" cy="331.5" r="1.45" fill="#c6a396" stroke="#9a7a6e" stroke-width="0.3"/><circle cx="425.5" cy="330.9" r="1.45" fill="#c6a396" stroke="#9a7a6e" stroke-width="0.3"/><circle cx="424.9" cy="334.2" r="1.45" fill="#1f9c3c" stroke="#14702a" stroke-width="0.3"/><circle cx="429.4" cy="330.9" r="1.45" fill="#1f9c3c" stroke="#14702a" stroke-width="0.3"/><circle cx="431.0" cy="333.1" r="1.45" fill="#c6a396" stroke="#9a7a6e" stroke-width="0.3"/><circle cx="434.9" cy="330.9" r="1.45" fill="#1f9c3c" stroke="#14702a" stroke-width="0.3"/><circle cx="436.6" cy="332.0" r="1.45" fill="#1f9c3c" stroke="#14702a" stroke-width="0.3"/><circle cx="439.9" cy="330.9" r="1.45" fill="#1f9c3c" stroke="#14702a" stroke-width="0.3"/><circle cx="435.5" cy="335.8" r="1.45" fill="#1f9c3c" stroke="#14702a" stroke-width="0.3"/><circle cx="440.5" cy="334.2" r="1.45" fill="#1f9c3c" stroke="#14702a" stroke-width="0.3"/><circle cx="443.2" cy="337.5" r="1.45" fill="#1f9c3c" stroke="#14702a" stroke-width="0.3"/><circle cx="446.0" cy="334.7" r="1.45" fill="#f7a8d4" stroke="#d483b0" stroke-width="0.3"/><circle cx="448.8" cy="332.0" r="1.45" fill="#c3d93a" stroke="#98ac28" stroke-width="0.3"/><circle cx="451.0" cy="333.1" r="1.45" fill="#c3d93a" stroke="#98ac28" stroke-width="0.3"/><circle cx="454.3" cy="334.2" r="1.45" fill="#1f9c3c" stroke="#14702a" stroke-width="0.3"/><circle cx="453.2" cy="335.8" r="1.45" fill="#1f9c3c" stroke="#14702a" stroke-width="0.3"/><circle cx="456.0" cy="322.1" r="1.45" fill="#c6a396" stroke="#9a7a6e" stroke-width="0.3"/><circle cx="454.3" cy="325.4" r="1.45" fill="#1f9c3c" stroke="#14702a" stroke-width="0.3"/><circle cx="454.9" cy="328.7" r="1.45" fill="#1f9c3c" stroke="#14702a" stroke-width="0.3"/><circle cx="457.7" cy="327.6" r="1.45" fill="#c6a396" stroke="#9a7a6e" stroke-width="0.3"/><circle cx="458.8" cy="330.9" r="1.45" fill="#c6a396" stroke="#9a7a6e" stroke-width="0.3"/><circle cx="462.7" cy="325.4" r="1.45" fill="#c6a396" stroke="#9a7a6e" stroke-width="0.3"/><circle cx="464.9" cy="329.8" r="1.45" fill="#c6a396" stroke="#9a7a6e" stroke-width="0.3"/><circle cx="466.6" cy="330.9" r="1.45" fill="#c6a396" stroke="#9a7a6e" stroke-width="0.3"/><circle cx="452.1" cy="340.2" r="1.45" fill="#c3d93a" stroke="#98ac28" stroke-width="0.3"/><circle cx="454.3" cy="340.8" r="1.45" fill="#c6a396" stroke="#9a7a6e" stroke-width="0.3"/><circle cx="449.9" cy="342.4" r="1.45" fill="#1f9c3c" stroke="#14702a" stroke-width="0.3"/><circle cx="448.2" cy="344.1" r="1.45" fill="#1f9c3c" stroke="#14702a" stroke-width="0.3"/><circle cx="478.9" cy="295.9" r="1.45" fill="#fbb047" stroke="#d9953a" stroke-width="0.3"/><circle cx="486.7" cy="297.5" r="1.45" fill="#fbb047" stroke="#d9953a" stroke-width="0.3"/><circle cx="490.5" cy="296.9" r="1.45" fill="#fbb047" stroke="#d9953a" stroke-width="0.3"/><circle cx="486.7" cy="301.3" r="1.45" fill="#fbb047" stroke="#d9953a" stroke-width="0.3"/><circle cx="491.1" cy="301.3" r="1.45" fill="#fbb047" stroke="#d9953a" stroke-width="0.3"/><circle cx="493.9" cy="302.4" r="1.45" fill="#fbb047" stroke="#d9953a" stroke-width="0.3"/><circle cx="496.1" cy="299.7" r="1.45" fill="#fbb047" stroke="#d9953a" stroke-width="0.3"/><circle cx="498.9" cy="301.9" r="1.45" fill="#fbb047" stroke="#d9953a" stroke-width="0.3"/><circle cx="490.0" cy="304.6" r="1.45" fill="#fbb047" stroke="#d9953a" stroke-width="0.3"/><circle cx="490.0" cy="306.8" r="1.45" fill="#fbb047" stroke="#d9953a" stroke-width="0.3"/><circle cx="492.8" cy="305.7" r="1.45" fill="#fbb047" stroke="#d9953a" stroke-width="0.3"/><circle cx="496.1" cy="306.8" r="1.45" fill="#fbb047" stroke="#d9953a" stroke-width="0.3"/><circle cx="500.0" cy="309.0" r="1.45" fill="#fbb047" stroke="#d9953a" stroke-width="0.3"/><circle cx="495.0" cy="310.1" r="1.45" fill="#fbb047" stroke="#d9953a" stroke-width="0.3"/><circle cx="500.5" cy="310.1" r="1.45" fill="#fbb047" stroke="#d9953a" stroke-width="0.3"/><circle cx="498.9" cy="313.4" r="1.45" fill="#fbb047" stroke="#d9953a" stroke-width="0.3"/><circle cx="497.7" cy="316.1" r="1.45" fill="#fbb047" stroke="#d9953a" stroke-width="0.3"/><circle cx="504.4" cy="309.5" r="1.45" fill="#fbb047" stroke="#d9953a" stroke-width="0.3"/><circle cx="508.8" cy="308.5" r="1.45" fill="#fbb047" stroke="#d9953a" stroke-width="0.3"/><circle cx="511.1" cy="306.8" r="1.45" fill="#fbb047" stroke="#d9953a" stroke-width="0.3"/><circle cx="483.3" cy="328.2" r="1.45" fill="#fbb047" stroke="#d9953a" stroke-width="0.3"/><circle cx="497.7" cy="304.1" r="1.45" fill="#fbb047" stroke="#d9953a" stroke-width="0.3"/><circle cx="506.1" cy="306.3" r="1.45" fill="#fbb047" stroke="#d9953a" stroke-width="0.3"/><circle cx="508.3" cy="306.3" r="1.45" fill="#fbb047" stroke="#d9953a" stroke-width="0.3"/><circle cx="467.8" cy="300.8" r="1.45" fill="#f7a8d4" stroke="#d483b0" stroke-width="0.3"/><circle cx="469.5" cy="296.9" r="1.45" fill="#f7a8d4" stroke="#d483b0" stroke-width="0.3"/><circle cx="480.5" cy="299.1" r="1.45" fill="#c6a396" stroke="#9a7a6e" stroke-width="0.3"/><circle cx="462.8" cy="299.7" r="1.45" fill="#c6a396" stroke="#9a7a6e" stroke-width="0.3"/><circle cx="467.8" cy="304.1" r="1.45" fill="#f7a8d4" stroke="#d483b0" stroke-width="0.3"/><circle cx="466.7" cy="306.3" r="1.45" fill="#7a5a2a" stroke="#4a3414" stroke-width="0.3"/><circle cx="470.0" cy="306.8" r="1.45" fill="#7a5a2a" stroke="#4a3414" stroke-width="0.3"/><circle cx="473.3" cy="304.1" r="1.45" fill="#f7a8d4" stroke="#d483b0" stroke-width="0.3"/><circle cx="474.4" cy="306.8" r="1.45" fill="#7a5a2a" stroke="#4a3414" stroke-width="0.3"/><circle cx="476.7" cy="307.4" r="1.45" fill="#f7a8d4" stroke="#d483b0" stroke-width="0.3"/><circle cx="477.8" cy="303.0" r="1.45" fill="#c6a396" stroke="#9a7a6e" stroke-width="0.3"/><circle cx="480.5" cy="304.1" r="1.45" fill="#c6a396" stroke="#9a7a6e" stroke-width="0.3"/><circle cx="481.1" cy="306.8" r="1.45" fill="#c6a396" stroke="#9a7a6e" stroke-width="0.3"/><circle cx="477.8" cy="312.8" r="1.45" fill="#3ec5e8" stroke="#2a9cc0" stroke-width="0.3"/><circle cx="477.2" cy="316.7" r="1.45" fill="#c6a396" stroke="#9a7a6e" stroke-width="0.3"/><circle cx="484.4" cy="312.8" r="1.45" fill="#3ec5e8" stroke="#2a9cc0" stroke-width="0.3"/><circle cx="487.2" cy="316.1" r="1.45" fill="#3ec5e8" stroke="#2a9cc0" stroke-width="0.3"/><circle cx="486.7" cy="318.9" r="1.45" fill="#3ec5e8" stroke="#2a9cc0" stroke-width="0.3"/><circle cx="489.4" cy="318.3" r="1.45" fill="#1f9c3c" stroke="#14702a" stroke-width="0.3"/><circle cx="495.5" cy="318.3" r="1.45" fill="#1f9c3c" stroke="#14702a" stroke-width="0.3"/><circle cx="493.9" cy="313.9" r="1.45" fill="#7a5a2a" stroke="#4a3414" stroke-width="0.3"/><circle cx="463.4" cy="325.4" r="1.45" fill="#c6a396" stroke="#9a7a6e" stroke-width="0.3"/><circle cx="465.0" cy="329.8" r="1.45" fill="#c6a396" stroke="#9a7a6e" stroke-width="0.3"/><circle cx="466.7" cy="330.9" r="1.45" fill="#c6a396" stroke="#9a7a6e" stroke-width="0.3"/><circle cx="477.2" cy="330.4" r="1.45" fill="#c6a396" stroke="#9a7a6e" stroke-width="0.3"/><circle cx="482.2" cy="324.9" r="1.45" fill="#3ec5e8" stroke="#2a9cc0" stroke-width="0.3"/><circle cx="483.9" cy="323.8" r="1.45" fill="#3ec5e8" stroke="#2a9cc0" stroke-width="0.3"/><circle cx="488.9" cy="324.9" r="1.45" fill="#3ec5e8" stroke="#2a9cc0" stroke-width="0.3"/><circle cx="492.8" cy="327.1" r="1.45" fill="#3ec5e8" stroke="#2a9cc0" stroke-width="0.3"/><circle cx="495.0" cy="327.6" r="1.45" fill="#3ec5e8" stroke="#2a9cc0" stroke-width="0.3"/><circle cx="488.3" cy="328.7" r="1.45" fill="#3ec5e8" stroke="#2a9cc0" stroke-width="0.3"/><circle cx="486.7" cy="331.5" r="1.45" fill="#1f9c3c" stroke="#14702a" stroke-width="0.3"/><circle cx="481.1" cy="332.6" r="1.45" fill="#3ec5e8" stroke="#2a9cc0" stroke-width="0.3"/><circle cx="482.2" cy="334.7" r="1.45" fill="#1f9c3c" stroke="#14702a" stroke-width="0.3"/><circle cx="485.0" cy="333.7" r="1.45" fill="#3ec5e8" stroke="#2a9cc0" stroke-width="0.3"/><circle cx="490.0" cy="332.0" r="1.45" fill="#3ec5e8" stroke="#2a9cc0" stroke-width="0.3"/><circle cx="493.9" cy="330.9" r="1.45" fill="#3ec5e8" stroke="#2a9cc0" stroke-width="0.3"/><circle cx="495.0" cy="333.7" r="1.45" fill="#3ec5e8" stroke="#2a9cc0" stroke-width="0.3"/><circle cx="491.6" cy="334.7" r="1.45" fill="#3ec5e8" stroke="#2a9cc0" stroke-width="0.3"/><circle cx="486.7" cy="336.9" r="1.45" fill="#3ec5e8" stroke="#2a9cc0" stroke-width="0.3"/><circle cx="489.4" cy="338.0" r="1.45" fill="#3ec5e8" stroke="#2a9cc0" stroke-width="0.3"/><circle cx="492.8" cy="337.5" r="1.45" fill="#3ec5e8" stroke="#2a9cc0" stroke-width="0.3"/><circle cx="488.3" cy="340.8" r="1.45" fill="#3ec5e8" stroke="#2a9cc0" stroke-width="0.3"/><circle cx="491.6" cy="340.8" r="1.45" fill="#3ec5e8" stroke="#2a9cc0" stroke-width="0.3"/><circle cx="490.0" cy="343.0" r="1.45" fill="#3ec5e8" stroke="#2a9cc0" stroke-width="0.3"/><circle cx="423.3" cy="354.5" r="1.45" fill="#8a6cc8" stroke="#6248a0" stroke-width="0.3"/><circle cx="420.5" cy="359.4" r="1.45" fill="#c6a396" stroke="#9a7a6e" stroke-width="0.3"/><circle cx="426.6" cy="356.1" r="1.45" fill="#c6a396" stroke="#9a7a6e" stroke-width="0.3"/><circle cx="429.4" cy="356.1" r="1.45" fill="#8a6cc8" stroke="#6248a0" stroke-width="0.3"/><circle cx="431.0" cy="356.7" r="1.45" fill="#8a6cc8" stroke="#6248a0" stroke-width="0.3"/><circle cx="425.5" cy="358.9" r="1.45" fill="#1f9c3c" stroke="#14702a" stroke-width="0.3"/><circle cx="428.3" cy="359.4" r="1.45" fill="#8a6cc8" stroke="#6248a0" stroke-width="0.3"/><circle cx="424.4" cy="361.6" r="1.45" fill="#8a6cc8" stroke="#6248a0" stroke-width="0.3"/><circle cx="427.7" cy="362.2" r="1.45" fill="#8a6cc8" stroke="#6248a0" stroke-width="0.3"/><circle cx="424.9" cy="364.9" r="1.45" fill="#f7a8d4" stroke="#d483b0" stroke-width="0.3"/><circle cx="427.1" cy="366.0" r="1.45" fill="#8a6cc8" stroke="#6248a0" stroke-width="0.3"/><circle cx="428.3" cy="368.2" r="1.45" fill="#8a6cc8" stroke="#6248a0" stroke-width="0.3"/><circle cx="421.6" cy="369.8" r="1.45" fill="#8a6cc8" stroke="#6248a0" stroke-width="0.3"/><circle cx="422.2" cy="374.8" r="1.45" fill="#7fd3c8" stroke="#55a89e" stroke-width="0.3"/><circle cx="405.7" cy="371.5" r="1.45" fill="#7fd3c8" stroke="#55a89e" stroke-width="0.3"/><circle cx="406.6" cy="374.2" r="1.45" fill="#7fd3c8" stroke="#55a89e" stroke-width="0.3"/><circle cx="405.5" cy="376.4" r="1.45" fill="#7fd3c8" stroke="#55a89e" stroke-width="0.3"/><circle cx="405.3" cy="378.0" r="1.45" fill="#7fd3c8" stroke="#55a89e" stroke-width="0.3"/><circle cx="409.4" cy="374.8" r="1.45" fill="#7fd3c8" stroke="#55a89e" stroke-width="0.3"/><circle cx="412.7" cy="374.2" r="1.45" fill="#7fd3c8" stroke="#55a89e" stroke-width="0.3"/><circle cx="415.5" cy="374.8" r="1.45" fill="#7fd3c8" stroke="#55a89e" stroke-width="0.3"/><circle cx="414.4" cy="377.0" r="1.45" fill="#7fd3c8" stroke="#55a89e" stroke-width="0.3"/><circle cx="417.2" cy="378.0" r="1.45" fill="#7fd3c8" stroke="#55a89e" stroke-width="0.3"/><circle cx="413.3" cy="379.7" r="1.45" fill="#7fd3c8" stroke="#55a89e" stroke-width="0.3"/><circle cx="416.1" cy="380.8" r="1.45" fill="#7fd3c8" stroke="#55a89e" stroke-width="0.3"/><circle cx="412.7" cy="381.9" r="1.45" fill="#7fd3c8" stroke="#55a89e" stroke-width="0.3"/><circle cx="416.6" cy="383.5" r="1.45" fill="#7fd3c8" stroke="#55a89e" stroke-width="0.3"/><circle cx="418.8" cy="379.1" r="1.45" fill="#7fd3c8" stroke="#55a89e" stroke-width="0.3"/><circle cx="438.6" cy="351.2" r="1.45" fill="#f7a8d4" stroke="#d483b0" stroke-width="0.3"/><circle cx="438.6" cy="351.2" r="1.45" fill="#f7a8d4" stroke="#d483b0" stroke-width="0.3"/><circle cx="451.1" cy="340.8" r="1.45" fill="#c3d93a" stroke="#98ac28" stroke-width="0.3"/><circle cx="455.0" cy="340.2" r="1.45" fill="#c6a396" stroke="#9a7a6e" stroke-width="0.3"/><circle cx="448.4" cy="343.5" r="1.45" fill="#1f9c3c" stroke="#14702a" stroke-width="0.3"/><circle cx="452.8" cy="341.9" r="1.45" fill="#1f9c3c" stroke="#14702a" stroke-width="0.3"/><circle cx="445.6" cy="347.4" r="1.45" fill="#1f9c3c" stroke="#14702a" stroke-width="0.3"/><circle cx="448.9" cy="348.5" r="1.45" fill="#c6a396" stroke="#9a7a6e" stroke-width="0.3"/><circle cx="452.2" cy="347.9" r="1.45" fill="#1f9c3c" stroke="#14702a" stroke-width="0.3"/><circle cx="450.0" cy="350.7" r="1.45" fill="#1f9c3c" stroke="#14702a" stroke-width="0.3"/><circle cx="453.9" cy="350.7" r="1.45" fill="#c6a396" stroke="#9a7a6e" stroke-width="0.3"/><circle cx="458.1" cy="346.3" r="1.45" fill="#f7a8d4" stroke="#d483b0" stroke-width="0.3"/><circle cx="444.3" cy="376.4" r="1.45" fill="#17757d" stroke="#0f555c" stroke-width="0.3"/><circle cx="454.2" cy="379.3" r="1.45" fill="#17757d" stroke="#0f555c" stroke-width="0.3"/><circle cx="464.2" cy="382.3" r="1.45" fill="#17757d" stroke="#0f555c" stroke-width="0.3"/><circle cx="449.0" cy="384.3" r="1.45" fill="#17757d" stroke="#0f555c" stroke-width="0.3"/><circle cx="452.3" cy="382.6" r="1.45" fill="#17757d" stroke="#0f555c" stroke-width="0.3"/><circle cx="455.1" cy="383.2" r="1.45" fill="#17757d" stroke="#0f555c" stroke-width="0.3"/><circle cx="451.2" cy="385.9" r="1.45" fill="#17757d" stroke="#0f555c" stroke-width="0.3"/><circle cx="454.0" cy="385.9" r="1.45" fill="#17757d" stroke="#0f555c" stroke-width="0.3"/><circle cx="453.4" cy="388.6" r="1.45" fill="#17757d" stroke="#0f555c" stroke-width="0.3"/><circle cx="455.6" cy="388.1" r="1.45" fill="#17757d" stroke="#0f555c" stroke-width="0.3"/><circle cx="457.9" cy="384.3" r="1.45" fill="#17757d" stroke="#0f555c" stroke-width="0.3"/><circle cx="460.1" cy="386.5" r="1.45" fill="#17757d" stroke="#0f555c" stroke-width="0.3"/><circle cx="462.3" cy="388.1" r="1.45" fill="#17757d" stroke="#0f555c" stroke-width="0.3"/><circle cx="464.5" cy="387.6" r="1.45" fill="#17757d" stroke="#0f555c" stroke-width="0.3"/><circle cx="465.6" cy="390.3" r="1.45" fill="#17757d" stroke="#0f555c" stroke-width="0.3"/><circle cx="467.8" cy="391.4" r="1.45" fill="#17757d" stroke="#0f555c" stroke-width="0.3"/><circle cx="470.1" cy="389.2" r="1.45" fill="#17757d" stroke="#0f555c" stroke-width="0.3"/><circle cx="472.3" cy="393.6" r="1.45" fill="#17757d" stroke="#0f555c" stroke-width="0.3"/><circle cx="465.6" cy="394.3" r="1.45" fill="#17757d" stroke="#0f555c" stroke-width="0.3"/><circle cx="469.5" cy="392.5" r="1.45" fill="#17757d" stroke="#0f555c" stroke-width="0.3"/><circle cx="465.3" cy="280.6" r="1.3" fill="#8f1f72" stroke="#3a0a30" stroke-width="0.3"/><circle cx="484.7" cy="279.4" r="1.3" fill="#8f1f72" stroke="#3a0a30" stroke-width="0.3"/>
<path d="M450.5,255.7 L464.6,279.3 M450.5,255.7 L483.9,278.8" stroke="#111" stroke-width="0.9" fill="none"/>
<text x="413.5" y="236.5" font-size="9.05" font-weight="bold">Groups</text>
<text x="413.9" y="254.5" font-size="9.3" stroke-width="0.2">NPM1e5</text>
</g>
<rect x="0.55" y="0.55" width="518.9" height="444.9" fill="none" stroke="#000" stroke-width="1.1"/>
</svg></body></html>
